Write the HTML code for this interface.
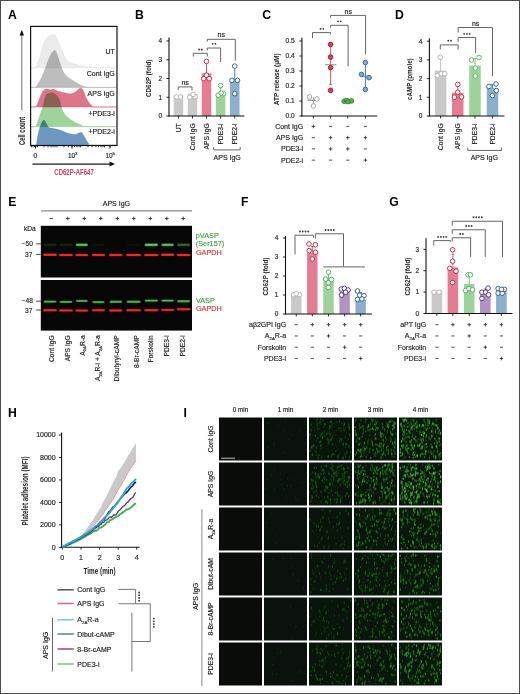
<!DOCTYPE html>
<html><head><meta charset="utf-8"><title>Figure</title>
<style>
html,body{margin:0;padding:0;background:#fff;}
body{width:520px;height:694px;overflow:hidden;position:relative;}
svg{position:absolute;left:0;top:0;display:block;}
text{font-family:"Liberation Sans", sans-serif;}
</style></head><body>
<svg width="520" height="694" viewBox="0 0 520 694">
<defs>
<filter id="blur" x="-20%" y="-200%" width="140%" height="500%"><feGaussianBlur stdDeviation="0.55"/></filter>
<filter id="blur3" x="0" y="0" width="100%" height="100%"><feGaussianBlur stdDeviation="0.3"/></filter>
<filter id="blur2" x="-20%" y="-200%" width="140%" height="500%"><feGaussianBlur stdDeviation="0.35"/></filter>
</defs>
<rect x="0" y="0" width="520" height="694" fill="#fff"/>
<text x="8" y="18.5" font-size="12.2" fill="#000" font-weight="bold">A</text>
<text x="135" y="18.5" font-size="12.2" fill="#000" font-weight="bold">B</text>
<text x="262.3" y="18.5" font-size="12.2" fill="#000" font-weight="bold">C</text>
<text x="395" y="18.5" font-size="12.2" fill="#000" font-weight="bold">D</text>
<text x="8.2" y="206" font-size="12.2" fill="#000" font-weight="bold">E</text>
<text x="241" y="205.6" font-size="12.2" fill="#000" font-weight="bold">F</text>
<text x="389.2" y="206" font-size="12.2" fill="#000" font-weight="bold">G</text>
<text x="8.1" y="416.9" font-size="12.2" fill="#000" font-weight="bold">H</text>
<text x="183.6" y="416.9" font-size="12.2" fill="#000" font-weight="bold">I</text>
<path d="M31,67.8 C31.33,67.8 32.17,67.93 33,67.8 C33.83,67.67 35.17,67.97 36,67 C36.83,66.03 37.25,64 38,62 C38.75,60 39.75,57.42 40.5,55 C41.25,52.58 41.87,49.7 42.5,47.5 C43.13,45.3 43.55,43.42 44.3,41.8 C45.05,40.18 46.05,38.83 47,37.8 C47.95,36.77 48.9,36.13 50,35.6 C51.1,35.07 52.6,34.45 53.6,34.6 C54.6,34.75 55.07,34.97 56,36.5 C56.93,38.03 58.03,41 59.2,43.8 C60.37,46.6 61.87,50.8 63,53.3 C64.13,55.8 65,57.38 66,58.8 C67,60.22 67.83,60.97 69,61.8 C70.17,62.63 71.5,63.27 73,63.8 C74.5,64.33 75.5,64.48 78,65 C80.5,65.52 84.33,66.43 88,66.9 C91.67,67.37 95.25,67.65 100,67.8 C104.75,67.95 113.75,67.8 116.5,67.8 Z" fill="#ebebeb" stroke="#dedede" stroke-width="0.5" style="mix-blend-mode:multiply"/>
<path d="M31,87.4 C31.67,87.4 34.08,87.6 35,87.4 C35.92,87.2 35.92,86.88 36.5,86.2 C37.08,85.52 37.83,84.37 38.5,83.3 C39.17,82.23 39.53,81.8 40.5,79.8 C41.47,77.8 43.05,74.38 44.3,71.3 C45.55,68.22 46.88,64.1 48,61.3 C49.12,58.5 49.92,56.32 51,54.5 C52.08,52.68 53.58,50.65 54.5,50.4 C55.42,50.15 55.92,51.82 56.5,53 C57.08,54.18 57.12,54.92 58,57.5 C58.88,60.08 60.55,65.58 61.8,68.5 C63.05,71.42 63.83,73.08 65.5,75 C67.17,76.92 69.72,78.55 71.8,80 C73.88,81.45 76.13,82.68 78,83.7 C79.87,84.72 81,85.48 83,86.1 C85,86.72 84.42,87.18 90,87.4 C95.58,87.62 112.08,87.4 116.5,87.4 Z" fill="#bdbdbd" stroke="#acacac" stroke-width="0.5" style="mix-blend-mode:multiply"/>
<path d="M31,106.9 C31.75,106.9 34.42,107.38 35.5,106.9 C36.58,106.42 36.67,105.77 37.5,104 C38.33,102.23 39.48,98.53 40.5,96.3 C41.52,94.07 42.55,91.82 43.6,90.6 C44.65,89.38 45.65,89.1 46.8,89 C47.95,88.9 49.37,89.95 50.5,90 C51.63,90.05 52.35,89.08 53.6,89.3 C54.85,89.52 56.02,90.67 58,91.3 C59.98,91.93 63.42,92.65 65.5,93.1 C67.58,93.55 68.83,94.2 70.5,94 C72.17,93.8 74.03,92.77 75.5,91.9 C76.97,91.03 78.3,89.38 79.3,88.8 C80.3,88.22 80.78,87.98 81.5,88.4 C82.22,88.82 82.83,89.68 83.6,91.3 C84.37,92.92 85.15,96.13 86.1,98.1 C87.05,100.07 88.35,101.85 89.3,103.1 C90.25,104.35 91.02,104.97 91.8,105.6 C92.58,106.23 89.88,106.68 94,106.9 C98.12,107.12 112.75,106.9 116.5,106.9 Z" fill="#df7589" stroke="#cf5f75" stroke-width="0.5" style="mix-blend-mode:multiply"/>
<path d="M31,126.6 C31.75,126.6 34.33,127.48 35.5,126.6 C36.67,125.72 37.17,123.43 38,121.3 C38.83,119.17 39.67,116.2 40.5,113.8 C41.33,111.4 42.17,109.78 43,106.9 C43.83,104.02 44.67,98.72 45.5,96.5 C46.33,94.28 46.85,94.17 48,93.6 C49.15,93.03 51.05,92.87 52.4,93.1 C53.75,93.33 54.95,93.85 56.1,95 C57.25,96.15 58.47,98.02 59.3,100 C60.13,101.98 60.27,104.6 61.1,106.9 C61.93,109.2 63.15,112.03 64.3,113.8 C65.45,115.57 66.55,116.25 68,117.5 C69.45,118.75 70.92,120.05 73,121.3 C75.08,122.55 78.2,124.12 80.5,125 C82.8,125.88 80.8,126.33 86.8,126.6 C92.8,126.87 111.55,126.6 116.5,126.6 Z" fill="#9ed49c" stroke="#86c486" stroke-width="0.5" style="mix-blend-mode:multiply"/>
<path d="M31,145.3 C31.87,145.3 35.23,145.77 36.2,145.3 C37.17,144.83 36.4,144.63 36.8,142.5 C37.2,140.37 37.88,135.52 38.6,132.5 C39.32,129.48 40.2,126.43 41.1,124.4 C42,122.37 43.05,120.23 44,120.3 C44.95,120.37 46.03,123.65 46.8,124.8 C47.57,125.95 47.98,126.65 48.6,127.2 C49.22,127.75 48.72,127.63 50.5,128.1 C52.28,128.57 56.17,129.07 59.3,130 C62.43,130.93 66.6,132.97 69.3,133.7 C72,134.43 73.53,134.6 75.5,134.4 C77.47,134.2 79.75,132.3 81.1,132.5 C82.45,132.7 82.77,134.35 83.6,135.6 C84.43,136.85 85.27,138.63 86.1,140 C86.93,141.37 88.03,142.92 88.6,143.8 C89.17,144.68 84.85,145.05 89.5,145.3 C94.15,145.55 112,145.3 116.5,145.3 Z" fill="#6e98c2" stroke="#5a84ae" stroke-width="0.5" style="mix-blend-mode:multiply"/>
<rect x="30.6" y="26.4" width="86.4" height="119.1" fill="none" stroke="#111" stroke-width="1.2"/>
<text x="114.8" y="53.8" font-size="7" fill="#1c1c1c" stroke="#1c1c1c" stroke-width="0.16" text-anchor="end">UT</text>
<text x="114.8" y="75.6" font-size="7" fill="#1c1c1c" stroke="#1c1c1c" stroke-width="0.16" text-anchor="end">Cont IgG</text>
<text x="114.8" y="95.6" font-size="7" fill="#1c1c1c" stroke="#1c1c1c" stroke-width="0.16" text-anchor="end">APS IgG</text>
<text x="114.8" y="115.6" font-size="7" fill="#1c1c1c" stroke="#1c1c1c" stroke-width="0.16" text-anchor="end">+PDE3-i</text>
<text x="114.8" y="133.8" font-size="7" fill="#1c1c1c" stroke="#1c1c1c" stroke-width="0.16" text-anchor="end">+PDE2-i</text>
<line x1="31.5" y1="145.5" x2="31.5" y2="147.3" stroke="#111" stroke-width="0.8"/>
<line x1="33" y1="145.5" x2="33" y2="147.3" stroke="#111" stroke-width="0.8"/>
<line x1="34.5" y1="145.5" x2="34.5" y2="147.3" stroke="#111" stroke-width="0.8"/>
<line x1="36" y1="145.5" x2="36" y2="147.3" stroke="#111" stroke-width="0.8"/>
<line x1="37.5" y1="145.5" x2="37.5" y2="147.3" stroke="#111" stroke-width="0.8"/>
<line x1="44" y1="145.5" x2="44" y2="147.3" stroke="#111" stroke-width="0.8"/>
<line x1="48" y1="145.5" x2="48" y2="147.3" stroke="#111" stroke-width="0.8"/>
<line x1="51" y1="145.5" x2="51" y2="147.3" stroke="#111" stroke-width="0.8"/>
<line x1="53" y1="145.5" x2="53" y2="147.3" stroke="#111" stroke-width="0.8"/>
<line x1="55" y1="145.5" x2="55" y2="147.3" stroke="#111" stroke-width="0.8"/>
<line x1="57" y1="145.5" x2="57" y2="147.3" stroke="#111" stroke-width="0.8"/>
<line x1="64" y1="145.5" x2="64" y2="147.3" stroke="#111" stroke-width="0.8"/>
<line x1="68.5" y1="145.5" x2="68.5" y2="147.3" stroke="#111" stroke-width="0.8"/>
<line x1="72" y1="145.5" x2="72" y2="147.3" stroke="#111" stroke-width="0.8"/>
<line x1="74.5" y1="145.5" x2="74.5" y2="147.3" stroke="#111" stroke-width="0.8"/>
<line x1="77" y1="145.5" x2="77" y2="147.3" stroke="#111" stroke-width="0.8"/>
<line x1="79" y1="145.5" x2="79" y2="147.3" stroke="#111" stroke-width="0.8"/>
<line x1="80.5" y1="145.5" x2="80.5" y2="147.3" stroke="#111" stroke-width="0.8"/>
<line x1="88" y1="145.5" x2="88" y2="147.3" stroke="#111" stroke-width="0.8"/>
<line x1="92" y1="145.5" x2="92" y2="147.3" stroke="#111" stroke-width="0.8"/>
<line x1="96" y1="145.5" x2="96" y2="147.3" stroke="#111" stroke-width="0.8"/>
<line x1="98.5" y1="145.5" x2="98.5" y2="147.3" stroke="#111" stroke-width="0.8"/>
<line x1="101" y1="145.5" x2="101" y2="147.3" stroke="#111" stroke-width="0.8"/>
<line x1="103" y1="145.5" x2="103" y2="147.3" stroke="#111" stroke-width="0.8"/>
<line x1="104.5" y1="145.5" x2="104.5" y2="147.3" stroke="#111" stroke-width="0.8"/>
<line x1="110" y1="145.5" x2="110" y2="147.3" stroke="#111" stroke-width="0.8"/>
<line x1="35.5" y1="145.5" x2="35.5" y2="148.5" stroke="#111" stroke-width="0.9"/>
<line x1="72" y1="145.5" x2="72" y2="148.5" stroke="#111" stroke-width="0.9"/>
<line x1="110" y1="145.5" x2="110" y2="148.5" stroke="#111" stroke-width="0.9"/>
<text x="35.4" y="158.2" font-size="6.5" fill="#1c1c1c" stroke="#1c1c1c" stroke-width="0.16" text-anchor="middle">0</text>
<text x="68" y="158.2" font-size="6.5" fill="#1c1c1c" stroke="#1c1c1c" stroke-width="0.16">10</text>
<text x="75.1" y="155.4" font-size="4.4" fill="#1c1c1c" stroke="#1c1c1c" stroke-width="0.16">3</text>
<text x="105.5" y="158.2" font-size="6.5" fill="#1c1c1c" stroke="#1c1c1c" stroke-width="0.16">10</text>
<text x="112.6" y="155.4" font-size="4.4" fill="#1c1c1c" stroke="#1c1c1c" stroke-width="0.16">5</text>
<line x1="32.5" y1="164.2" x2="111" y2="164.2" stroke="#1a1a1a" stroke-width="1.3"/>
<path d="M115,164 L109.5,161.6 L109.5,166.4 Z" fill="#111"/>
<text x="54.3" y="175.2" font-size="8.2" fill="#cf3a5e" font-weight="bold" textLength="39.5" lengthAdjust="spacingAndGlyphs">CD62P-AF647</text>
<line x1="21.8" y1="110" x2="21.8" y2="34" stroke="#777" stroke-width="1.1"/>
<path d="M21.8,29.8 L19.6,35.6 L24,35.6 Z" fill="#111"/>
<text transform="translate(25.1 145) rotate(-90)" font-size="8.3" fill="#222" font-weight="bold" textLength="28.1" lengthAdjust="spacingAndGlyphs">Cell count</text>
<rect x="173.75" y="95.6" width="9.5" height="20.4" fill="#c9c9c9"/>
<rect x="187.75" y="93.8" width="9.5" height="22.2" fill="#c9c9c9"/>
<rect x="201.75" y="73.3" width="9.5" height="42.7" fill="#e57d92"/>
<rect x="215.85" y="94.4" width="9.5" height="21.6" fill="#9dd29b"/>
<rect x="230" y="80" width="9.5" height="36" fill="#8bafcd"/>
<line x1="206.5" y1="73.3" x2="206.5" y2="62.6" stroke="#c42545" stroke-width="0.8"/>
<line x1="205.4" y1="62.6" x2="207.6" y2="62.6" stroke="#c42545" stroke-width="0.8"/>
<line x1="220.6" y1="94.4" x2="220.6" y2="87.2" stroke="#55b55a" stroke-width="0.8"/>
<line x1="219.5" y1="87.2" x2="221.7" y2="87.2" stroke="#55b55a" stroke-width="0.8"/>
<line x1="234.75" y1="80" x2="234.75" y2="67.2" stroke="#2f5f91" stroke-width="0.8"/>
<line x1="233.65" y1="67.2" x2="235.85" y2="67.2" stroke="#2f5f91" stroke-width="0.8"/>
<circle cx="176.4" cy="96.9" r="2.3" fill="#fff" stroke="#b3b3b3" stroke-width="0.95"/>
<circle cx="180.6" cy="96.9" r="2.3" fill="#fff" stroke="#b3b3b3" stroke-width="0.95"/>
<circle cx="189.8" cy="97.2" r="2.3" fill="#fff" stroke="#b3b3b3" stroke-width="0.95"/>
<circle cx="195.1" cy="96.6" r="2.3" fill="#fff" stroke="#b3b3b3" stroke-width="0.95"/>
<circle cx="193.1" cy="94.5" r="2.3" fill="#fff" stroke="#b3b3b3" stroke-width="0.95"/>
<circle cx="206.45" cy="61.4" r="2.3" fill="#fff" stroke="#c42545" stroke-width="0.95"/>
<circle cx="203.75" cy="78.7" r="2.3" fill="#fff" stroke="#c42545" stroke-width="0.95"/>
<circle cx="209.2" cy="78.7" r="2.3" fill="#fff" stroke="#c42545" stroke-width="0.95"/>
<circle cx="206.5" cy="75.2" r="2.3" fill="#fff" stroke="#c42545" stroke-width="0.95"/>
<circle cx="220.6" cy="85.6" r="2.3" fill="#fff" stroke="#55b55a" stroke-width="0.95"/>
<circle cx="218.2" cy="95.1" r="2.3" fill="#fff" stroke="#55b55a" stroke-width="0.95"/>
<circle cx="223.6" cy="93.6" r="2.3" fill="#fff" stroke="#55b55a" stroke-width="0.95"/>
<circle cx="221.2" cy="93.1" r="2.3" fill="#fff" stroke="#55b55a" stroke-width="0.95"/>
<circle cx="234.75" cy="66.1" r="2.3" fill="#fff" stroke="#2f5f91" stroke-width="0.95"/>
<circle cx="231.9" cy="80.3" r="2.3" fill="#fff" stroke="#2f5f91" stroke-width="0.95"/>
<circle cx="237.5" cy="80.3" r="2.3" fill="#fff" stroke="#2f5f91" stroke-width="0.95"/>
<circle cx="234.75" cy="93.7" r="2.3" fill="#fff" stroke="#2f5f91" stroke-width="0.95"/>
<line x1="169" y1="37.6" x2="169" y2="116.6" stroke="#111" stroke-width="1.1"/>
<line x1="166.4" y1="116" x2="169" y2="116" stroke="#111" stroke-width="0.9"/>
<text x="162.2" y="118.3" font-size="6.5" fill="#1c1c1c" stroke="#1c1c1c" stroke-width="0.16" text-anchor="end">0</text>
<line x1="166.4" y1="97.25" x2="169" y2="97.25" stroke="#111" stroke-width="0.9"/>
<text x="162.2" y="99.55" font-size="6.5" fill="#1c1c1c" stroke="#1c1c1c" stroke-width="0.16" text-anchor="end">1</text>
<line x1="166.4" y1="78.5" x2="169" y2="78.5" stroke="#111" stroke-width="0.9"/>
<text x="162.2" y="80.8" font-size="6.5" fill="#1c1c1c" stroke="#1c1c1c" stroke-width="0.16" text-anchor="end">2</text>
<line x1="166.4" y1="59.75" x2="169" y2="59.75" stroke="#111" stroke-width="0.9"/>
<text x="162.2" y="62.05" font-size="6.5" fill="#1c1c1c" stroke="#1c1c1c" stroke-width="0.16" text-anchor="end">3</text>
<line x1="166.4" y1="41" x2="169" y2="41" stroke="#111" stroke-width="0.9"/>
<text x="162.2" y="43.3" font-size="6.5" fill="#1c1c1c" stroke="#1c1c1c" stroke-width="0.16" text-anchor="end">4</text>
<line x1="168.45" y1="116" x2="244.4" y2="116" stroke="#111" stroke-width="1.1"/>
<line x1="178.5" y1="116" x2="178.5" y2="118.4" stroke="#111" stroke-width="0.9"/>
<line x1="192.5" y1="116" x2="192.5" y2="118.4" stroke="#111" stroke-width="0.9"/>
<line x1="206.5" y1="116" x2="206.5" y2="118.4" stroke="#111" stroke-width="0.9"/>
<line x1="220.6" y1="116" x2="220.6" y2="118.4" stroke="#111" stroke-width="0.9"/>
<line x1="234.75" y1="116" x2="234.75" y2="118.4" stroke="#111" stroke-width="0.9"/>
<text transform="translate(151.4 78.3) rotate(-90)" font-size="8" fill="#222" font-weight="bold" text-anchor="middle" textLength="37.4" lengthAdjust="spacingAndGlyphs">CD62P (fold)</text>
<polyline points="178.2,90.1 178.2,86.9 192,86.9 192,90.1" stroke="#555" stroke-width="0.9" fill="none"/>
<text x="185.1" y="85.1" font-size="7" fill="#1c1c1c" stroke="#1c1c1c" stroke-width="0.16" text-anchor="middle">ns</text>
<polyline points="193.3,56.6 193.3,53.3 207.3,53.3 207.3,56.6" stroke="#555" stroke-width="0.9" fill="none"/>
<circle cx="199.03" cy="49.5" r="0.88" fill="#2a2a2a"/>
<circle cx="201.78" cy="49.5" r="0.88" fill="#2a2a2a"/>
<polyline points="207.3,50.6 207.3,48 220.6,48 220.6,62" stroke="#555" stroke-width="0.9" fill="none"/>
<circle cx="212.72" cy="43.8" r="0.88" fill="#2a2a2a"/>
<circle cx="215.47" cy="43.8" r="0.88" fill="#2a2a2a"/>
<polyline points="207.3,41.7 207.3,39.3 235.3,39.3 235.3,60.7" stroke="#555" stroke-width="0.9" fill="none"/>
<text x="221.3" y="37.1" font-size="7" fill="#1c1c1c" stroke="#1c1c1c" stroke-width="0.16" text-anchor="middle">ns</text>
<text transform="translate(180.9 123.4) rotate(-90)" font-size="6.7" fill="#1c1c1c" stroke="#1c1c1c" stroke-width="0.16" text-anchor="end">UT</text>
<text transform="translate(194.9 123.4) rotate(-90)" font-size="6.7" fill="#1c1c1c" stroke="#1c1c1c" stroke-width="0.16" text-anchor="end">Cont IgG</text>
<text transform="translate(208.9 123.4) rotate(-90)" font-size="6.7" fill="#1c1c1c" stroke="#1c1c1c" stroke-width="0.16" text-anchor="end">APS IgG</text>
<text transform="translate(223 123.4) rotate(-90)" font-size="6.7" fill="#1c1c1c" stroke="#1c1c1c" stroke-width="0.16" text-anchor="end">PDE3-i</text>
<text transform="translate(237.15 123.4) rotate(-90)" font-size="6.7" fill="#1c1c1c" stroke="#1c1c1c" stroke-width="0.16" text-anchor="end">PDE2-i</text>
<polyline points="213.7,147.1 213.7,149.9 240.2,149.9 240.2,147.1" stroke="#555" stroke-width="0.9" fill="none"/>
<text x="227.2" y="159.7" font-size="7" fill="#1c1c1c" stroke="#1c1c1c" stroke-width="0.16" text-anchor="middle">APS IgG</text>
<line x1="307.5" y1="100.3" x2="318.8" y2="100.3" stroke="#777" stroke-width="0.9"/>
<line x1="313.4" y1="97" x2="313.4" y2="104" stroke="#888" stroke-width="0.7"/>
<circle cx="309.4" cy="96.9" r="2.3" fill="#fff" stroke="#9a9a9a" stroke-width="0.9"/>
<circle cx="316.9" cy="99" r="2.3" fill="#fff" stroke="#9a9a9a" stroke-width="0.9"/>
<circle cx="313.4" cy="106" r="2.3" fill="#fff" stroke="#9a9a9a" stroke-width="0.9"/>
<line x1="330.6" y1="44.4" x2="330.6" y2="84.4" stroke="#c4223f" stroke-width="0.75"/>
<line x1="329.3" y1="84.4" x2="331.9" y2="84.4" stroke="#d2334f" stroke-width="0.9"/>
<line x1="325" y1="64.8" x2="336.3" y2="64.8" stroke="#7a8a7a" stroke-width="1"/>
<circle cx="330.6" cy="44.4" r="2.3" fill="#d2445f" stroke="#a3112d" stroke-width="0.9"/>
<circle cx="330.6" cy="57.1" r="2.3" fill="#d2445f" stroke="#a3112d" stroke-width="0.9"/>
<circle cx="330.6" cy="67.7" r="2.3" fill="#d2445f" stroke="#a3112d" stroke-width="0.9"/>
<circle cx="330.6" cy="90.4" r="2.3" fill="#d2445f" stroke="#a3112d" stroke-width="0.9"/>
<circle cx="344.2" cy="101.3" r="2.3" fill="#5cba5c" stroke="#2c8a2c" stroke-width="0.9"/>
<circle cx="346.5" cy="100.6" r="2.3" fill="#5cba5c" stroke="#2c8a2c" stroke-width="0.9"/>
<circle cx="348.8" cy="101.3" r="2.3" fill="#5cba5c" stroke="#2c8a2c" stroke-width="0.9"/>
<circle cx="351.5" cy="100.9" r="2.3" fill="#5cba5c" stroke="#2c8a2c" stroke-width="0.9"/>
<circle cx="347.8" cy="101.6" r="2.3" fill="#5cba5c" stroke="#2c8a2c" stroke-width="0.9"/>
<line x1="343" y1="101.1" x2="353" y2="101.1" stroke="#2c8a2c" stroke-width="0.7"/>
<line x1="365.4" y1="62.5" x2="365.4" y2="89.4" stroke="#3b6a9b" stroke-width="0.9"/>
<line x1="361.5" y1="76.2" x2="369.3" y2="76.2" stroke="#3b6a9b" stroke-width="0.9"/>
<circle cx="365.4" cy="62.5" r="2.3" fill="#7eaad6" stroke="#34649a" stroke-width="0.9"/>
<circle cx="361.5" cy="74.4" r="2.3" fill="#7eaad6" stroke="#34649a" stroke-width="0.9"/>
<circle cx="369" cy="77.7" r="2.3" fill="#7eaad6" stroke="#34649a" stroke-width="0.9"/>
<circle cx="365.4" cy="89.4" r="2.3" fill="#7eaad6" stroke="#34649a" stroke-width="0.9"/>
<line x1="301.9" y1="37.8" x2="301.9" y2="116.6" stroke="#111" stroke-width="1.1"/>
<line x1="299.3" y1="116" x2="301.9" y2="116" stroke="#111" stroke-width="0.9"/>
<text x="294.6" y="118.3" font-size="6.5" fill="#1c1c1c" stroke="#1c1c1c" stroke-width="0.16" text-anchor="end">0.0</text>
<line x1="299.3" y1="101" x2="301.9" y2="101" stroke="#111" stroke-width="0.9"/>
<text x="294.6" y="103.3" font-size="6.5" fill="#1c1c1c" stroke="#1c1c1c" stroke-width="0.16" text-anchor="end">0.1</text>
<line x1="299.3" y1="86" x2="301.9" y2="86" stroke="#111" stroke-width="0.9"/>
<text x="294.6" y="88.3" font-size="6.5" fill="#1c1c1c" stroke="#1c1c1c" stroke-width="0.16" text-anchor="end">0.2</text>
<line x1="299.3" y1="71" x2="301.9" y2="71" stroke="#111" stroke-width="0.9"/>
<text x="294.6" y="73.3" font-size="6.5" fill="#1c1c1c" stroke="#1c1c1c" stroke-width="0.16" text-anchor="end">0.3</text>
<line x1="299.3" y1="56" x2="301.9" y2="56" stroke="#111" stroke-width="0.9"/>
<text x="294.6" y="58.3" font-size="6.5" fill="#1c1c1c" stroke="#1c1c1c" stroke-width="0.16" text-anchor="end">0.4</text>
<line x1="299.3" y1="41" x2="301.9" y2="41" stroke="#111" stroke-width="0.9"/>
<text x="294.6" y="43.3" font-size="6.5" fill="#1c1c1c" stroke="#1c1c1c" stroke-width="0.16" text-anchor="end">0.5</text>
<line x1="301.35" y1="116" x2="377.3" y2="116" stroke="#111" stroke-width="1.1"/>
<line x1="313.4" y1="116" x2="313.4" y2="118.4" stroke="#111" stroke-width="0.9"/>
<line x1="330.6" y1="116" x2="330.6" y2="118.4" stroke="#111" stroke-width="0.9"/>
<line x1="347.8" y1="116" x2="347.8" y2="118.4" stroke="#111" stroke-width="0.9"/>
<line x1="365.4" y1="116" x2="365.4" y2="118.4" stroke="#111" stroke-width="0.9"/>
<text transform="translate(279.4 79.3) rotate(-90)" font-size="8" fill="#222" font-weight="bold" text-anchor="middle" textLength="51.9" lengthAdjust="spacingAndGlyphs">ATP release (μM)</text>
<polyline points="312.5,38.1 312.5,32.6 330.6,32.6 330.6,34.4" stroke="#555" stroke-width="0.9" fill="none"/>
<circle cx="320.52" cy="28.8" r="0.88" fill="#2a2a2a"/>
<circle cx="323.27" cy="28.8" r="0.88" fill="#2a2a2a"/>
<polyline points="330.6,27.6 330.6,25.3 348.1,25.3 348.1,66.3" stroke="#555" stroke-width="0.9" fill="none"/>
<circle cx="338.02" cy="21.3" r="0.88" fill="#2a2a2a"/>
<circle cx="340.77" cy="21.3" r="0.88" fill="#2a2a2a"/>
<polyline points="330.6,17.7 330.6,15.4 365.6,15.4 365.6,54.4" stroke="#555" stroke-width="0.9" fill="none"/>
<text x="348.2" y="13.8" font-size="7" fill="#1c1c1c" stroke="#1c1c1c" stroke-width="0.16" text-anchor="middle">ns</text>
<text x="303.2" y="128.8" font-size="7" fill="#1c1c1c" stroke="#1c1c1c" stroke-width="0.16" text-anchor="end">Cont IgG</text>
<line x1="311.6" y1="126.4" x2="315.2" y2="126.4" stroke="#222" stroke-width="0.8"/>
<line x1="313.4" y1="124.6" x2="313.4" y2="128.2" stroke="#222" stroke-width="0.8"/>
<line x1="329" y1="126.4" x2="332.2" y2="126.4" stroke="#222" stroke-width="0.8"/>
<line x1="346.2" y1="126.4" x2="349.4" y2="126.4" stroke="#222" stroke-width="0.8"/>
<line x1="363.8" y1="126.4" x2="367" y2="126.4" stroke="#222" stroke-width="0.8"/>
<text x="303.2" y="140.05" font-size="7" fill="#1c1c1c" stroke="#1c1c1c" stroke-width="0.16" text-anchor="end">APS IgG</text>
<line x1="311.8" y1="137.65" x2="315" y2="137.65" stroke="#222" stroke-width="0.8"/>
<line x1="328.8" y1="137.65" x2="332.4" y2="137.65" stroke="#222" stroke-width="0.8"/>
<line x1="330.6" y1="135.85" x2="330.6" y2="139.45" stroke="#222" stroke-width="0.8"/>
<line x1="346" y1="137.65" x2="349.6" y2="137.65" stroke="#222" stroke-width="0.8"/>
<line x1="347.8" y1="135.85" x2="347.8" y2="139.45" stroke="#222" stroke-width="0.8"/>
<line x1="363.6" y1="137.65" x2="367.2" y2="137.65" stroke="#222" stroke-width="0.8"/>
<line x1="365.4" y1="135.85" x2="365.4" y2="139.45" stroke="#222" stroke-width="0.8"/>
<text x="303.2" y="151.3" font-size="7" fill="#1c1c1c" stroke="#1c1c1c" stroke-width="0.16" text-anchor="end">PDE3-i</text>
<line x1="311.8" y1="148.9" x2="315" y2="148.9" stroke="#222" stroke-width="0.8"/>
<line x1="328.8" y1="148.9" x2="332.4" y2="148.9" stroke="#222" stroke-width="0.8"/>
<line x1="330.6" y1="147.1" x2="330.6" y2="150.7" stroke="#222" stroke-width="0.8"/>
<line x1="346" y1="148.9" x2="349.6" y2="148.9" stroke="#222" stroke-width="0.8"/>
<line x1="347.8" y1="147.1" x2="347.8" y2="150.7" stroke="#222" stroke-width="0.8"/>
<line x1="363.8" y1="148.9" x2="367" y2="148.9" stroke="#222" stroke-width="0.8"/>
<text x="303.2" y="162.55" font-size="7" fill="#1c1c1c" stroke="#1c1c1c" stroke-width="0.16" text-anchor="end">PDE2-i</text>
<line x1="311.8" y1="160.15" x2="315" y2="160.15" stroke="#222" stroke-width="0.8"/>
<line x1="329" y1="160.15" x2="332.2" y2="160.15" stroke="#222" stroke-width="0.8"/>
<line x1="346.2" y1="160.15" x2="349.4" y2="160.15" stroke="#222" stroke-width="0.8"/>
<line x1="363.6" y1="160.15" x2="367.2" y2="160.15" stroke="#222" stroke-width="0.8"/>
<line x1="365.4" y1="158.35" x2="365.4" y2="161.95" stroke="#222" stroke-width="0.8"/>
<rect x="434.85" y="70.6" width="11.5" height="45.4" fill="#c9c9c9"/>
<rect x="452" y="92.8" width="11.5" height="23.2" fill="#e57d92"/>
<rect x="469.25" y="65.6" width="11.5" height="50.4" fill="#9dd29b"/>
<rect x="486.75" y="88.1" width="11.5" height="27.9" fill="#8bafcd"/>
<line x1="440.6" y1="70.6" x2="440.6" y2="59.5" stroke="#b3b3b3" stroke-width="0.8"/>
<line x1="439.5" y1="59.5" x2="441.7" y2="59.5" stroke="#b3b3b3" stroke-width="0.8"/>
<line x1="457.75" y1="92.8" x2="457.75" y2="86.4" stroke="#c42545" stroke-width="0.8"/>
<line x1="456.65" y1="86.4" x2="458.85" y2="86.4" stroke="#c42545" stroke-width="0.8"/>
<line x1="475" y1="65.6" x2="475" y2="58.6" stroke="#55b55a" stroke-width="0.8"/>
<line x1="473.9" y1="58.6" x2="476.1" y2="58.6" stroke="#55b55a" stroke-width="0.8"/>
<line x1="492.5" y1="88.1" x2="492.5" y2="84.5" stroke="#2f5f91" stroke-width="0.8"/>
<line x1="491.4" y1="84.5" x2="493.6" y2="84.5" stroke="#2f5f91" stroke-width="0.8"/>
<circle cx="440.25" cy="57.3" r="2.3" fill="#fff" stroke="#b3b3b3" stroke-width="0.95"/>
<circle cx="437.3" cy="75.6" r="2.3" fill="#fff" stroke="#b3b3b3" stroke-width="0.95"/>
<circle cx="441.3" cy="73.6" r="2.3" fill="#fff" stroke="#b3b3b3" stroke-width="0.95"/>
<circle cx="444.8" cy="73.8" r="2.3" fill="#fff" stroke="#b3b3b3" stroke-width="0.95"/>
<circle cx="457.75" cy="84.4" r="2.3" fill="#fff" stroke="#c42545" stroke-width="0.95"/>
<circle cx="457.75" cy="92.3" r="2.3" fill="#fff" stroke="#c42545" stroke-width="0.95"/>
<circle cx="454.4" cy="97.2" r="2.3" fill="#fff" stroke="#c42545" stroke-width="0.95"/>
<circle cx="461.5" cy="96.9" r="2.3" fill="#fff" stroke="#c42545" stroke-width="0.95"/>
<circle cx="471.5" cy="60" r="2.3" fill="#fff" stroke="#55b55a" stroke-width="0.95"/>
<circle cx="479" cy="57.5" r="2.3" fill="#fff" stroke="#55b55a" stroke-width="0.95"/>
<circle cx="475.25" cy="68.1" r="2.3" fill="#fff" stroke="#55b55a" stroke-width="0.95"/>
<circle cx="475.25" cy="76" r="2.3" fill="#fff" stroke="#55b55a" stroke-width="0.95"/>
<circle cx="489" cy="86.5" r="2.3" fill="#fff" stroke="#2f5f91" stroke-width="0.95"/>
<circle cx="496" cy="84" r="2.3" fill="#fff" stroke="#2f5f91" stroke-width="0.95"/>
<circle cx="496.3" cy="90.6" r="2.3" fill="#fff" stroke="#2f5f91" stroke-width="0.95"/>
<circle cx="492.3" cy="95.6" r="2.3" fill="#fff" stroke="#2f5f91" stroke-width="0.95"/>
<line x1="429.4" y1="38.2" x2="429.4" y2="116.6" stroke="#111" stroke-width="1.1"/>
<line x1="426.8" y1="116" x2="429.4" y2="116" stroke="#111" stroke-width="0.9"/>
<text x="422.3" y="118.3" font-size="6.5" fill="#1c1c1c" stroke="#1c1c1c" stroke-width="0.16" text-anchor="end">0</text>
<line x1="426.8" y1="97.3" x2="429.4" y2="97.3" stroke="#111" stroke-width="0.9"/>
<text x="422.3" y="99.6" font-size="6.5" fill="#1c1c1c" stroke="#1c1c1c" stroke-width="0.16" text-anchor="end">1</text>
<line x1="426.8" y1="78.6" x2="429.4" y2="78.6" stroke="#111" stroke-width="0.9"/>
<text x="422.3" y="80.9" font-size="6.5" fill="#1c1c1c" stroke="#1c1c1c" stroke-width="0.16" text-anchor="end">2</text>
<line x1="426.8" y1="59.9" x2="429.4" y2="59.9" stroke="#111" stroke-width="0.9"/>
<text x="422.3" y="62.2" font-size="6.5" fill="#1c1c1c" stroke="#1c1c1c" stroke-width="0.16" text-anchor="end">3</text>
<line x1="426.8" y1="41.2" x2="429.4" y2="41.2" stroke="#111" stroke-width="0.9"/>
<text x="422.3" y="43.5" font-size="6.5" fill="#1c1c1c" stroke="#1c1c1c" stroke-width="0.16" text-anchor="end">4</text>
<line x1="428.85" y1="116" x2="504.4" y2="116" stroke="#111" stroke-width="1.1"/>
<line x1="440.6" y1="116" x2="440.6" y2="118.4" stroke="#111" stroke-width="0.9"/>
<line x1="457.75" y1="116" x2="457.75" y2="118.4" stroke="#111" stroke-width="0.9"/>
<line x1="475" y1="116" x2="475" y2="118.4" stroke="#111" stroke-width="0.9"/>
<line x1="492.5" y1="116" x2="492.5" y2="118.4" stroke="#111" stroke-width="0.9"/>
<text transform="translate(412.4 79.1) rotate(-90)" font-size="8" fill="#222" font-weight="bold" text-anchor="middle" textLength="41.6" lengthAdjust="spacingAndGlyphs">cAMP (pmole)</text>
<polyline points="440.3,49.4 440.3,44.9 458.1,44.9 458.1,49.7" stroke="#555" stroke-width="0.9" fill="none"/>
<circle cx="448.23" cy="40.7" r="0.88" fill="#2a2a2a"/>
<circle cx="450.98" cy="40.7" r="0.88" fill="#2a2a2a"/>
<polyline points="458.1,41.9 458.1,37.5 475.6,37.5 475.6,53.1" stroke="#555" stroke-width="0.9" fill="none"/>
<circle cx="464.15" cy="33.8" r="0.88" fill="#2a2a2a"/>
<circle cx="466.9" cy="33.8" r="0.88" fill="#2a2a2a"/>
<circle cx="469.65" cy="33.8" r="0.88" fill="#2a2a2a"/>
<polyline points="458.1,32.5 458.1,27.5 492.5,27.5 492.5,76.2" stroke="#555" stroke-width="0.9" fill="none"/>
<text x="475.6" y="25.6" font-size="7" fill="#1c1c1c" stroke="#1c1c1c" stroke-width="0.16" text-anchor="middle">ns</text>
<text transform="translate(443 123.4) rotate(-90)" font-size="6.7" fill="#1c1c1c" stroke="#1c1c1c" stroke-width="0.16" text-anchor="end">Cont IgG</text>
<text transform="translate(460.15 123.4) rotate(-90)" font-size="6.7" fill="#1c1c1c" stroke="#1c1c1c" stroke-width="0.16" text-anchor="end">APS IgG</text>
<text transform="translate(477.4 123.4) rotate(-90)" font-size="6.7" fill="#1c1c1c" stroke="#1c1c1c" stroke-width="0.16" text-anchor="end">PDE3-i</text>
<text transform="translate(494.9 123.4) rotate(-90)" font-size="6.7" fill="#1c1c1c" stroke="#1c1c1c" stroke-width="0.16" text-anchor="end">PDE2-i</text>
<polyline points="467.8,147.5 467.8,150.4 501.5,150.4 501.5,147.5" stroke="#555" stroke-width="0.9" fill="none"/>
<text x="484.3" y="160.2" font-size="7" fill="#1c1c1c" stroke="#1c1c1c" stroke-width="0.16" text-anchor="middle">APS IgG</text>
<rect x="40.8" y="225.8" width="151.2" height="51.7" fill="#070707"/>
<rect x="40.8" y="280" width="151.2" height="50.6" fill="#070707"/>
<g opacity="0.95"><rect x="43" y="253.45" width="14" height="2.5" rx="1" fill="#e0151a" filter="url(#blur)"/><rect x="44" y="254.07" width="12" height="1.25" fill="#ff3a3a" filter="url(#blur2)"/></g>
<g opacity="0.95"><rect x="59" y="253.85" width="14" height="2.5" rx="1" fill="#e0151a" filter="url(#blur)"/><rect x="60" y="254.47" width="12" height="1.25" fill="#ff3a3a" filter="url(#blur2)"/></g>
<g opacity="0.95"><rect x="75.3" y="253.75" width="13" height="2.5" rx="1" fill="#e0151a" filter="url(#blur)"/><rect x="76.3" y="254.38" width="11" height="1.25" fill="#ff3a3a" filter="url(#blur2)"/></g>
<g opacity="0.95"><rect x="91.9" y="253.65" width="13.2" height="2.5" rx="1" fill="#e0151a" filter="url(#blur)"/><rect x="92.9" y="254.27" width="11.2" height="1.25" fill="#ff3a3a" filter="url(#blur2)"/></g>
<g opacity="0.95"><rect x="109.05" y="253.65" width="13.5" height="2.5" rx="1" fill="#e0151a" filter="url(#blur)"/><rect x="110.05" y="254.27" width="11.5" height="1.25" fill="#ff3a3a" filter="url(#blur2)"/></g>
<g opacity="0.95"><rect x="126.1" y="253.65" width="15" height="2.5" rx="1" fill="#e0151a" filter="url(#blur)"/><rect x="127.1" y="254.27" width="13" height="1.25" fill="#ff3a3a" filter="url(#blur2)"/></g>
<g opacity="0.95"><rect x="144.15" y="253.75" width="14.3" height="2.5" rx="1" fill="#e0151a" filter="url(#blur)"/><rect x="145.15" y="254.38" width="12.3" height="1.25" fill="#ff3a3a" filter="url(#blur2)"/></g>
<g opacity="0.95"><rect x="160.95" y="253.55" width="13.3" height="2.5" rx="1" fill="#e0151a" filter="url(#blur)"/><rect x="161.95" y="254.17" width="11.3" height="1.25" fill="#ff3a3a" filter="url(#blur2)"/></g>
<g opacity="0.95"><rect x="176.7" y="253.85" width="13.8" height="2.5" rx="1" fill="#e0151a" filter="url(#blur)"/><rect x="177.7" y="254.47" width="11.8" height="1.25" fill="#ff3a3a" filter="url(#blur2)"/></g>
<g opacity="0.14"><rect x="43.5" y="243.45" width="13" height="2.7" rx="1" fill="#3cbf3c" filter="url(#blur)"/><rect x="44.5" y="244.12" width="11" height="1.35" fill="#86e27e" filter="url(#blur2)"/></g>
<g opacity="0.12"><rect x="59.5" y="243.45" width="13" height="2.7" rx="1" fill="#3cbf3c" filter="url(#blur)"/><rect x="60.5" y="244.12" width="11" height="1.35" fill="#86e27e" filter="url(#blur2)"/></g>
<g opacity="0.85"><rect x="75.8" y="243.45" width="12" height="2.7" rx="1" fill="#3cbf3c" filter="url(#blur)"/><rect x="76.8" y="244.12" width="10" height="1.35" fill="#86e27e" filter="url(#blur2)"/></g>
<g opacity="0.06"><rect x="92.4" y="243.45" width="12.2" height="2.7" rx="1" fill="#3cbf3c" filter="url(#blur)"/><rect x="93.4" y="244.12" width="10.2" height="1.35" fill="#86e27e" filter="url(#blur2)"/></g>
<g opacity="0"><rect x="109.55" y="243.45" width="12.5" height="2.7" rx="1" fill="#3cbf3c" filter="url(#blur)"/><rect x="110.55" y="244.12" width="10.5" height="1.35" fill="#86e27e" filter="url(#blur2)"/></g>
<g opacity="0.04"><rect x="126.6" y="243.45" width="14" height="2.7" rx="1" fill="#3cbf3c" filter="url(#blur)"/><rect x="127.6" y="244.12" width="12" height="1.35" fill="#86e27e" filter="url(#blur2)"/></g>
<g opacity="0.88"><rect x="144.65" y="243.45" width="13.3" height="2.7" rx="1" fill="#3cbf3c" filter="url(#blur)"/><rect x="145.65" y="244.12" width="11.3" height="1.35" fill="#86e27e" filter="url(#blur2)"/></g>
<g opacity="0.82"><rect x="161.45" y="243.45" width="12.3" height="2.7" rx="1" fill="#3cbf3c" filter="url(#blur)"/><rect x="162.45" y="244.12" width="10.3" height="1.35" fill="#86e27e" filter="url(#blur2)"/></g>
<g opacity="0.42"><rect x="177.2" y="243.45" width="12.8" height="2.7" rx="1" fill="#3cbf3c" filter="url(#blur)"/><rect x="178.2" y="244.12" width="10.8" height="1.35" fill="#86e27e" filter="url(#blur2)"/></g>
<g opacity="0.85"><rect x="43.5" y="300.4" width="13" height="2.4" rx="1" fill="#30a834" filter="url(#blur)"/><rect x="44.5" y="301" width="11" height="1.2" fill="#6ccc66" filter="url(#blur2)"/></g>
<g opacity="0.85"><rect x="59.5" y="300.7" width="13" height="2.4" rx="1" fill="#30a834" filter="url(#blur)"/><rect x="60.5" y="301.3" width="11" height="1.2" fill="#6ccc66" filter="url(#blur2)"/></g>
<g opacity="0.85"><rect x="75.8" y="299.7" width="12" height="2.4" rx="1" fill="#30a834" filter="url(#blur)"/><rect x="76.8" y="300.3" width="10" height="1.2" fill="#6ccc66" filter="url(#blur2)"/></g>
<g opacity="0.85"><rect x="92.4" y="300.9" width="12.2" height="2.4" rx="1" fill="#30a834" filter="url(#blur)"/><rect x="93.4" y="301.5" width="10.2" height="1.2" fill="#6ccc66" filter="url(#blur2)"/></g>
<g opacity="0.85"><rect x="109.55" y="300.6" width="12.5" height="2.4" rx="1" fill="#30a834" filter="url(#blur)"/><rect x="110.55" y="301.2" width="10.5" height="1.2" fill="#6ccc66" filter="url(#blur2)"/></g>
<g opacity="0.85"><rect x="126.6" y="300.5" width="14" height="2.4" rx="1" fill="#30a834" filter="url(#blur)"/><rect x="127.6" y="301.1" width="12" height="1.2" fill="#6ccc66" filter="url(#blur2)"/></g>
<g opacity="0.85"><rect x="144.65" y="299.4" width="13.3" height="2.4" rx="1" fill="#30a834" filter="url(#blur)"/><rect x="145.65" y="300" width="11.3" height="1.2" fill="#6ccc66" filter="url(#blur2)"/></g>
<g opacity="0.85"><rect x="161.45" y="299.4" width="12.3" height="2.4" rx="1" fill="#30a834" filter="url(#blur)"/><rect x="162.45" y="300" width="10.3" height="1.2" fill="#6ccc66" filter="url(#blur2)"/></g>
<g opacity="0.85"><rect x="177.2" y="300" width="12.8" height="2.4" rx="1" fill="#30a834" filter="url(#blur)"/><rect x="178.2" y="300.6" width="10.8" height="1.2" fill="#6ccc66" filter="url(#blur2)"/></g>
<g opacity="0.9"><rect x="43" y="308.95" width="14" height="2.5" rx="1" fill="#dc1418" filter="url(#blur)"/><rect x="44" y="309.57" width="12" height="1.25" fill="#ff3434" filter="url(#blur2)"/></g>
<g opacity="0.9"><rect x="59" y="309.15" width="14" height="2.5" rx="1" fill="#dc1418" filter="url(#blur)"/><rect x="60" y="309.77" width="12" height="1.25" fill="#ff3434" filter="url(#blur2)"/></g>
<g opacity="0.9"><rect x="75.3" y="309.35" width="13" height="2.5" rx="1" fill="#dc1418" filter="url(#blur)"/><rect x="76.3" y="309.98" width="11" height="1.25" fill="#ff3434" filter="url(#blur2)"/></g>
<g opacity="0.9"><rect x="91.9" y="309.05" width="13.2" height="2.5" rx="1" fill="#dc1418" filter="url(#blur)"/><rect x="92.9" y="309.68" width="11.2" height="1.25" fill="#ff3434" filter="url(#blur2)"/></g>
<g opacity="0.9"><rect x="109.05" y="309.25" width="13.5" height="2.5" rx="1" fill="#dc1418" filter="url(#blur)"/><rect x="110.05" y="309.88" width="11.5" height="1.25" fill="#ff3434" filter="url(#blur2)"/></g>
<g opacity="0.9"><rect x="126.1" y="309.05" width="15" height="2.5" rx="1" fill="#dc1418" filter="url(#blur)"/><rect x="127.1" y="309.68" width="13" height="1.25" fill="#ff3434" filter="url(#blur2)"/></g>
<g opacity="0.9"><rect x="144.15" y="308.95" width="14.3" height="2.5" rx="1" fill="#dc1418" filter="url(#blur)"/><rect x="145.15" y="309.57" width="12.3" height="1.25" fill="#ff3434" filter="url(#blur2)"/></g>
<g opacity="0.9"><rect x="160.95" y="308.65" width="13.3" height="2.5" rx="1" fill="#dc1418" filter="url(#blur)"/><rect x="161.95" y="309.27" width="11.3" height="1.25" fill="#ff3434" filter="url(#blur2)"/></g>
<g opacity="0.9"><rect x="176.7" y="308.05" width="13.8" height="2.5" rx="1" fill="#dc1418" filter="url(#blur)"/><rect x="177.7" y="308.68" width="11.8" height="1.25" fill="#ff3434" filter="url(#blur2)"/></g>
<text x="116.4" y="205.8" font-size="7" fill="#1c1c1c" stroke="#1c1c1c" stroke-width="0.16" text-anchor="middle">APS IgG</text>
<line x1="41.2" y1="210.9" x2="192" y2="210.9" stroke="#8a8a8a" stroke-width="1.1"/>
<line x1="49.8" y1="218.5" x2="52.8" y2="218.5" stroke="#222" stroke-width="0.85"/>
<line x1="66" y1="218.5" x2="69.6" y2="218.5" stroke="#222" stroke-width="0.85"/>
<line x1="67.8" y1="216.7" x2="67.8" y2="220.3" stroke="#222" stroke-width="0.85"/>
<line x1="82.5" y1="218.5" x2="86.1" y2="218.5" stroke="#222" stroke-width="0.85"/>
<line x1="84.3" y1="216.7" x2="84.3" y2="220.3" stroke="#222" stroke-width="0.85"/>
<line x1="99" y1="218.5" x2="102.6" y2="218.5" stroke="#222" stroke-width="0.85"/>
<line x1="100.8" y1="216.7" x2="100.8" y2="220.3" stroke="#222" stroke-width="0.85"/>
<line x1="115.5" y1="218.5" x2="119.1" y2="218.5" stroke="#222" stroke-width="0.85"/>
<line x1="117.3" y1="216.7" x2="117.3" y2="220.3" stroke="#222" stroke-width="0.85"/>
<line x1="132" y1="218.5" x2="135.6" y2="218.5" stroke="#222" stroke-width="0.85"/>
<line x1="133.8" y1="216.7" x2="133.8" y2="220.3" stroke="#222" stroke-width="0.85"/>
<line x1="148.5" y1="218.5" x2="152.1" y2="218.5" stroke="#222" stroke-width="0.85"/>
<line x1="150.3" y1="216.7" x2="150.3" y2="220.3" stroke="#222" stroke-width="0.85"/>
<line x1="165" y1="218.5" x2="168.6" y2="218.5" stroke="#222" stroke-width="0.85"/>
<line x1="166.8" y1="216.7" x2="166.8" y2="220.3" stroke="#222" stroke-width="0.85"/>
<line x1="181.5" y1="218.5" x2="185.1" y2="218.5" stroke="#222" stroke-width="0.85"/>
<line x1="183.3" y1="216.7" x2="183.3" y2="220.3" stroke="#222" stroke-width="0.85"/>
<text x="35.7" y="230.6" font-size="6.6" fill="#1c1c1c" stroke="#1c1c1c" stroke-width="0.16" text-anchor="end">kDa</text>
<text x="32.8" y="245.8" font-size="6.6" fill="#1c1c1c" stroke="#1c1c1c" stroke-width="0.16" text-anchor="end">~50</text>
<line x1="36.2" y1="243.8" x2="40.8" y2="243.8" stroke="#333" stroke-width="0.9"/>
<text x="32.4" y="256.9" font-size="6.6" fill="#1c1c1c" stroke="#1c1c1c" stroke-width="0.16" text-anchor="end">37</text>
<line x1="36.2" y1="254.4" x2="40.8" y2="254.4" stroke="#333" stroke-width="0.9"/>
<text x="32.8" y="303.3" font-size="6.6" fill="#1c1c1c" stroke="#1c1c1c" stroke-width="0.16" text-anchor="end">~48</text>
<line x1="36.2" y1="301.2" x2="40.8" y2="301.2" stroke="#333" stroke-width="0.9"/>
<text x="32.4" y="312.5" font-size="6.6" fill="#1c1c1c" stroke="#1c1c1c" stroke-width="0.16" text-anchor="end">37</text>
<line x1="36.2" y1="310" x2="40.8" y2="310" stroke="#333" stroke-width="0.9"/>
<text x="195.8" y="237.8" font-size="7.3" fill="#3f9f4a" stroke="#3f9f4a" stroke-width="0.16">pVASP</text>
<text x="195.8" y="246.2" font-size="7.3" fill="#3f9f4a" stroke="#3f9f4a" stroke-width="0.16">(Ser157)</text>
<text x="195.9" y="255.4" font-size="7.3" fill="#d8343c" stroke="#d8343c" stroke-width="0.16">GAPDH</text>
<text x="195.9" y="302.7" font-size="7.3" fill="#3f9f4a" stroke="#3f9f4a" stroke-width="0.16">VASP</text>
<text x="195.9" y="311.3" font-size="7.3" fill="#d8343c" stroke="#d8343c" stroke-width="0.16">GAPDH</text>
<text transform="translate(53.6 335.3) rotate(-90)" font-size="6.7" fill="#1c1c1c" stroke="#1c1c1c" stroke-width="0.16" text-anchor="end">Cont IgG</text>
<text transform="translate(70.1 335.3) rotate(-90)" font-size="6.7" fill="#1c1c1c" stroke="#1c1c1c" stroke-width="0.16" text-anchor="end">APS IgG</text>
<text transform="translate(84.6 335.3) rotate(-90)" font-size="6.7" fill="#1c1c1c" stroke="#1c1c1c" stroke-width="0.16" text-anchor="end">A<tspan font-size="4.2" dy="1.4">2A</tspan><tspan dy="-1.4">R-a</tspan></text>
<text transform="translate(100.3 335.3) rotate(-90)" font-size="6.7" fill="#1c1c1c" stroke="#1c1c1c" stroke-width="0.16" text-anchor="end">A<tspan font-size="4.2" dy="1.4">2A</tspan><tspan dy="-1.4">R-i + A</tspan><tspan font-size="4.2" dy="1.4">2A</tspan><tspan dy="-1.4">R-a</tspan></text>
<text transform="translate(119.4 335.3) rotate(-90)" font-size="6.7" fill="#1c1c1c" stroke="#1c1c1c" stroke-width="0.16" text-anchor="end">Dibutyryl-cAMP</text>
<text transform="translate(138.5 335.3) rotate(-90)" font-size="6.7" fill="#1c1c1c" stroke="#1c1c1c" stroke-width="0.16" text-anchor="end">8-Br-cAMP</text>
<text transform="translate(152.6 335.3) rotate(-90)" font-size="6.7" fill="#1c1c1c" stroke="#1c1c1c" stroke-width="0.16" text-anchor="end">Forskolin</text>
<text transform="translate(168.7 335.3) rotate(-90)" font-size="6.7" fill="#1c1c1c" stroke="#1c1c1c" stroke-width="0.16" text-anchor="end">PDE3-i</text>
<text transform="translate(185.2 335.3) rotate(-90)" font-size="6.7" fill="#1c1c1c" stroke="#1c1c1c" stroke-width="0.16" text-anchor="end">PDE2-i</text>
<rect x="291.05" y="293.1" width="10.4" height="20.9" fill="#c9c9c9"/>
<rect x="307.1" y="253" width="10.4" height="61" fill="#e57d92"/>
<rect x="323.3" y="280.6" width="10.4" height="33.4" fill="#9dd29b"/>
<rect x="339.4" y="291.9" width="10.4" height="22.1" fill="#b092c3"/>
<rect x="355.5" y="300" width="10.4" height="14" fill="#8bafcd"/>
<line x1="312.3" y1="253" x2="312.3" y2="246.5" stroke="#c42545" stroke-width="0.8"/>
<line x1="311.2" y1="246.5" x2="313.4" y2="246.5" stroke="#c42545" stroke-width="0.8"/>
<line x1="328.5" y1="280.6" x2="328.5" y2="273.5" stroke="#55b55a" stroke-width="0.8"/>
<line x1="327.4" y1="273.5" x2="329.6" y2="273.5" stroke="#55b55a" stroke-width="0.8"/>
<line x1="344.6" y1="291.9" x2="344.6" y2="289" stroke="#5b2f86" stroke-width="0.8"/>
<line x1="343.5" y1="289" x2="345.7" y2="289" stroke="#5b2f86" stroke-width="0.8"/>
<line x1="360.7" y1="300" x2="360.7" y2="292.5" stroke="#2f5f91" stroke-width="0.8"/>
<line x1="359.6" y1="292.5" x2="361.8" y2="292.5" stroke="#2f5f91" stroke-width="0.8"/>
<circle cx="293.5" cy="294.8" r="2.3" fill="#fff" stroke="#b3b3b3" stroke-width="0.95"/>
<circle cx="299.2" cy="294.6" r="2.3" fill="#fff" stroke="#b3b3b3" stroke-width="0.95"/>
<circle cx="296.3" cy="293.8" r="2.3" fill="#fff" stroke="#b3b3b3" stroke-width="0.95"/>
<circle cx="309" cy="244" r="2.3" fill="#fff" stroke="#c42545" stroke-width="0.95"/>
<circle cx="315.4" cy="244.8" r="2.3" fill="#fff" stroke="#c42545" stroke-width="0.95"/>
<circle cx="309.2" cy="250.6" r="2.3" fill="#fff" stroke="#c42545" stroke-width="0.95"/>
<circle cx="315.5" cy="252.2" r="2.3" fill="#fff" stroke="#c42545" stroke-width="0.95"/>
<circle cx="312.25" cy="259" r="2.3" fill="#fff" stroke="#c42545" stroke-width="0.95"/>
<circle cx="328.5" cy="272.2" r="2.3" fill="#fff" stroke="#55b55a" stroke-width="0.95"/>
<circle cx="325.6" cy="279" r="2.3" fill="#fff" stroke="#55b55a" stroke-width="0.95"/>
<circle cx="331.5" cy="279.5" r="2.3" fill="#fff" stroke="#55b55a" stroke-width="0.95"/>
<circle cx="328.5" cy="282.8" r="2.3" fill="#fff" stroke="#55b55a" stroke-width="0.95"/>
<circle cx="328.5" cy="287.5" r="2.3" fill="#fff" stroke="#55b55a" stroke-width="0.95"/>
<circle cx="341.25" cy="289" r="2.3" fill="#fff" stroke="#5b2f86" stroke-width="0.95"/>
<circle cx="344.4" cy="288.4" r="2.3" fill="#fff" stroke="#5b2f86" stroke-width="0.95"/>
<circle cx="348.1" cy="290" r="2.3" fill="#fff" stroke="#5b2f86" stroke-width="0.95"/>
<circle cx="345.6" cy="292.2" r="2.3" fill="#fff" stroke="#5b2f86" stroke-width="0.95"/>
<circle cx="341.5" cy="295" r="2.3" fill="#fff" stroke="#5b2f86" stroke-width="0.95"/>
<circle cx="357.5" cy="291" r="2.3" fill="#fff" stroke="#2f5f91" stroke-width="0.95"/>
<circle cx="359.75" cy="295.2" r="2.3" fill="#fff" stroke="#2f5f91" stroke-width="0.95"/>
<circle cx="364" cy="295.6" r="2.3" fill="#fff" stroke="#2f5f91" stroke-width="0.95"/>
<circle cx="357.5" cy="299.4" r="2.3" fill="#fff" stroke="#2f5f91" stroke-width="0.95"/>
<circle cx="361.9" cy="299" r="2.3" fill="#fff" stroke="#2f5f91" stroke-width="0.95"/>
<line x1="285.5" y1="236" x2="285.5" y2="314.6" stroke="#111" stroke-width="1.1"/>
<line x1="282.9" y1="314" x2="285.5" y2="314" stroke="#111" stroke-width="0.9"/>
<text x="278.4" y="316.3" font-size="6.5" fill="#1c1c1c" stroke="#1c1c1c" stroke-width="0.16" text-anchor="end">0</text>
<line x1="282.9" y1="295" x2="285.5" y2="295" stroke="#111" stroke-width="0.9"/>
<text x="278.4" y="297.3" font-size="6.5" fill="#1c1c1c" stroke="#1c1c1c" stroke-width="0.16" text-anchor="end">1</text>
<line x1="282.9" y1="276" x2="285.5" y2="276" stroke="#111" stroke-width="0.9"/>
<text x="278.4" y="278.3" font-size="6.5" fill="#1c1c1c" stroke="#1c1c1c" stroke-width="0.16" text-anchor="end">2</text>
<line x1="282.9" y1="257" x2="285.5" y2="257" stroke="#111" stroke-width="0.9"/>
<text x="278.4" y="259.3" font-size="6.5" fill="#1c1c1c" stroke="#1c1c1c" stroke-width="0.16" text-anchor="end">3</text>
<line x1="282.9" y1="238" x2="285.5" y2="238" stroke="#111" stroke-width="0.9"/>
<text x="278.4" y="240.3" font-size="6.5" fill="#1c1c1c" stroke="#1c1c1c" stroke-width="0.16" text-anchor="end">4</text>
<line x1="284.95" y1="314" x2="371.9" y2="314" stroke="#111" stroke-width="1.1"/>
<line x1="296.25" y1="314" x2="296.25" y2="316.4" stroke="#111" stroke-width="0.9"/>
<line x1="312.3" y1="314" x2="312.3" y2="316.4" stroke="#111" stroke-width="0.9"/>
<line x1="328.5" y1="314" x2="328.5" y2="316.4" stroke="#111" stroke-width="0.9"/>
<line x1="344.6" y1="314" x2="344.6" y2="316.4" stroke="#111" stroke-width="0.9"/>
<line x1="360.7" y1="314" x2="360.7" y2="316.4" stroke="#111" stroke-width="0.9"/>
<text transform="translate(268.4 276.6) rotate(-90)" font-size="8" fill="#222" font-weight="bold" text-anchor="middle" textLength="38" lengthAdjust="spacingAndGlyphs">CD62P (fold)</text>
<polyline points="295,254.45 295,235.25 313.5,235.25 313.5,237.55" stroke="#555" stroke-width="0.9" fill="none"/>
<circle cx="299.98" cy="231.5" r="0.88" fill="#2a2a2a"/>
<circle cx="302.73" cy="231.5" r="0.88" fill="#2a2a2a"/>
<circle cx="305.48" cy="231.5" r="0.88" fill="#2a2a2a"/>
<circle cx="308.23" cy="231.5" r="0.88" fill="#2a2a2a"/>
<polyline points="315.4,238.55 315.4,233.75 343.5,233.75 343.5,266.65" stroke="#555" stroke-width="0.9" fill="none"/>
<circle cx="325.57" cy="230" r="0.88" fill="#2a2a2a"/>
<circle cx="328.32" cy="230" r="0.88" fill="#2a2a2a"/>
<circle cx="331.07" cy="230" r="0.88" fill="#2a2a2a"/>
<circle cx="333.82" cy="230" r="0.88" fill="#2a2a2a"/>
<line x1="323.5" y1="266.9" x2="365" y2="266.9" stroke="#555" stroke-width="0.9"/>
<text x="286.1" y="327.1" font-size="7" fill="#1c1c1c" stroke="#1c1c1c" stroke-width="0.16" text-anchor="end">aβ2GPI IgG</text>
<line x1="294.65" y1="324.7" x2="297.85" y2="324.7" stroke="#222" stroke-width="0.8"/>
<line x1="310.5" y1="324.7" x2="314.1" y2="324.7" stroke="#222" stroke-width="0.8"/>
<line x1="312.3" y1="322.9" x2="312.3" y2="326.5" stroke="#222" stroke-width="0.8"/>
<line x1="326.7" y1="324.7" x2="330.3" y2="324.7" stroke="#222" stroke-width="0.8"/>
<line x1="328.5" y1="322.9" x2="328.5" y2="326.5" stroke="#222" stroke-width="0.8"/>
<line x1="342.8" y1="324.7" x2="346.4" y2="324.7" stroke="#222" stroke-width="0.8"/>
<line x1="344.6" y1="322.9" x2="344.6" y2="326.5" stroke="#222" stroke-width="0.8"/>
<line x1="358.9" y1="324.7" x2="362.5" y2="324.7" stroke="#222" stroke-width="0.8"/>
<line x1="360.7" y1="322.9" x2="360.7" y2="326.5" stroke="#222" stroke-width="0.8"/>
<text x="286.1" y="338.35" font-size="7" fill="#1c1c1c" stroke="#1c1c1c" stroke-width="0.16" text-anchor="end">A<tspan font-size="4.4" dy="1.6">2A</tspan><tspan dy="-1.6">R-a</tspan></text>
<line x1="294.65" y1="335.95" x2="297.85" y2="335.95" stroke="#222" stroke-width="0.8"/>
<line x1="310.7" y1="335.95" x2="313.9" y2="335.95" stroke="#222" stroke-width="0.8"/>
<line x1="326.7" y1="335.95" x2="330.3" y2="335.95" stroke="#222" stroke-width="0.8"/>
<line x1="328.5" y1="334.15" x2="328.5" y2="337.75" stroke="#222" stroke-width="0.8"/>
<line x1="343" y1="335.95" x2="346.2" y2="335.95" stroke="#222" stroke-width="0.8"/>
<line x1="359.1" y1="335.95" x2="362.3" y2="335.95" stroke="#222" stroke-width="0.8"/>
<text x="286.1" y="349.6" font-size="7" fill="#1c1c1c" stroke="#1c1c1c" stroke-width="0.16" text-anchor="end">Forskolin</text>
<line x1="294.65" y1="347.2" x2="297.85" y2="347.2" stroke="#222" stroke-width="0.8"/>
<line x1="310.7" y1="347.2" x2="313.9" y2="347.2" stroke="#222" stroke-width="0.8"/>
<line x1="326.9" y1="347.2" x2="330.1" y2="347.2" stroke="#222" stroke-width="0.8"/>
<line x1="342.8" y1="347.2" x2="346.4" y2="347.2" stroke="#222" stroke-width="0.8"/>
<line x1="344.6" y1="345.4" x2="344.6" y2="349" stroke="#222" stroke-width="0.8"/>
<line x1="359.1" y1="347.2" x2="362.3" y2="347.2" stroke="#222" stroke-width="0.8"/>
<text x="286.1" y="360.85" font-size="7" fill="#1c1c1c" stroke="#1c1c1c" stroke-width="0.16" text-anchor="end">PDE3-i</text>
<line x1="294.65" y1="358.45" x2="297.85" y2="358.45" stroke="#222" stroke-width="0.8"/>
<line x1="310.7" y1="358.45" x2="313.9" y2="358.45" stroke="#222" stroke-width="0.8"/>
<line x1="326.9" y1="358.45" x2="330.1" y2="358.45" stroke="#222" stroke-width="0.8"/>
<line x1="343" y1="358.45" x2="346.2" y2="358.45" stroke="#222" stroke-width="0.8"/>
<line x1="358.9" y1="358.45" x2="362.5" y2="358.45" stroke="#222" stroke-width="0.8"/>
<line x1="360.7" y1="356.65" x2="360.7" y2="360.25" stroke="#222" stroke-width="0.8"/>
<rect x="431.6" y="290.6" width="10.6" height="22.9" fill="#c9c9c9"/>
<rect x="447.6" y="267.3" width="10.6" height="46.2" fill="#e57d92"/>
<rect x="463.9" y="284" width="10.6" height="29.5" fill="#9dd29b"/>
<rect x="480" y="292.5" width="10.6" height="21" fill="#b092c3"/>
<rect x="496.1" y="290.6" width="10.6" height="22.9" fill="#8bafcd"/>
<line x1="452.9" y1="267.3" x2="452.9" y2="254" stroke="#c42545" stroke-width="0.8"/>
<line x1="451.8" y1="254" x2="454" y2="254" stroke="#c42545" stroke-width="0.8"/>
<line x1="469.2" y1="284" x2="469.2" y2="276.5" stroke="#55b55a" stroke-width="0.8"/>
<line x1="468.1" y1="276.5" x2="470.3" y2="276.5" stroke="#55b55a" stroke-width="0.8"/>
<line x1="485.3" y1="292.5" x2="485.3" y2="289" stroke="#5b2f86" stroke-width="0.8"/>
<line x1="484.2" y1="289" x2="486.4" y2="289" stroke="#5b2f86" stroke-width="0.8"/>
<circle cx="434" cy="292.2" r="2.3" fill="#fff" stroke="#b3b3b3" stroke-width="0.95"/>
<circle cx="439" cy="292.2" r="2.3" fill="#fff" stroke="#b3b3b3" stroke-width="0.95"/>
<circle cx="452.6" cy="249.8" r="2.3" fill="#fff" stroke="#c42545" stroke-width="0.95"/>
<circle cx="452.6" cy="261.2" r="2.3" fill="#fff" stroke="#c42545" stroke-width="0.95"/>
<circle cx="449.8" cy="268.3" r="2.3" fill="#fff" stroke="#c42545" stroke-width="0.95"/>
<circle cx="456" cy="271.2" r="2.3" fill="#fff" stroke="#c42545" stroke-width="0.95"/>
<circle cx="452.6" cy="282.5" r="2.3" fill="#fff" stroke="#c42545" stroke-width="0.95"/>
<circle cx="468.1" cy="274.8" r="2.3" fill="#fff" stroke="#55b55a" stroke-width="0.95"/>
<circle cx="470.4" cy="274.8" r="2.3" fill="#fff" stroke="#55b55a" stroke-width="0.95"/>
<circle cx="465.6" cy="290.6" r="2.3" fill="#fff" stroke="#55b55a" stroke-width="0.95"/>
<circle cx="469" cy="288.5" r="2.3" fill="#fff" stroke="#55b55a" stroke-width="0.95"/>
<circle cx="472.5" cy="289.8" r="2.3" fill="#fff" stroke="#55b55a" stroke-width="0.95"/>
<circle cx="481.9" cy="292.2" r="2.3" fill="#fff" stroke="#5b2f86" stroke-width="0.95"/>
<circle cx="485.6" cy="292.2" r="2.3" fill="#fff" stroke="#5b2f86" stroke-width="0.95"/>
<circle cx="488.1" cy="288.1" r="2.3" fill="#fff" stroke="#5b2f86" stroke-width="0.95"/>
<circle cx="488.5" cy="294.8" r="2.3" fill="#fff" stroke="#5b2f86" stroke-width="0.95"/>
<circle cx="481.9" cy="298.5" r="2.3" fill="#fff" stroke="#5b2f86" stroke-width="0.95"/>
<circle cx="498.1" cy="288.5" r="2.3" fill="#fff" stroke="#2f5f91" stroke-width="0.95"/>
<circle cx="504.4" cy="289.4" r="2.3" fill="#fff" stroke="#2f5f91" stroke-width="0.95"/>
<circle cx="498.1" cy="293.1" r="2.3" fill="#fff" stroke="#2f5f91" stroke-width="0.95"/>
<circle cx="502.25" cy="293.1" r="2.3" fill="#fff" stroke="#2f5f91" stroke-width="0.95"/>
<circle cx="501.5" cy="289.4" r="2.3" fill="#fff" stroke="#2f5f91" stroke-width="0.95"/>
<line x1="426" y1="238.3" x2="426" y2="314.1" stroke="#111" stroke-width="1.1"/>
<line x1="423.4" y1="313.5" x2="426" y2="313.5" stroke="#111" stroke-width="0.9"/>
<text x="419" y="315.8" font-size="6.5" fill="#1c1c1c" stroke="#1c1c1c" stroke-width="0.16" text-anchor="end">0</text>
<line x1="423.4" y1="292.13" x2="426" y2="292.13" stroke="#111" stroke-width="0.9"/>
<text x="419" y="294.43" font-size="6.5" fill="#1c1c1c" stroke="#1c1c1c" stroke-width="0.16" text-anchor="end">1</text>
<line x1="423.4" y1="270.76" x2="426" y2="270.76" stroke="#111" stroke-width="0.9"/>
<text x="419" y="273.06" font-size="6.5" fill="#1c1c1c" stroke="#1c1c1c" stroke-width="0.16" text-anchor="end">2</text>
<line x1="423.4" y1="249.39" x2="426" y2="249.39" stroke="#111" stroke-width="0.9"/>
<text x="419" y="251.69" font-size="6.5" fill="#1c1c1c" stroke="#1c1c1c" stroke-width="0.16" text-anchor="end">3</text>
<line x1="425.45" y1="313.5" x2="512.5" y2="313.5" stroke="#111" stroke-width="1.1"/>
<line x1="436.9" y1="313.5" x2="436.9" y2="315.9" stroke="#111" stroke-width="0.9"/>
<line x1="452.9" y1="313.5" x2="452.9" y2="315.9" stroke="#111" stroke-width="0.9"/>
<line x1="469.2" y1="313.5" x2="469.2" y2="315.9" stroke="#111" stroke-width="0.9"/>
<line x1="485.3" y1="313.5" x2="485.3" y2="315.9" stroke="#111" stroke-width="0.9"/>
<line x1="501.4" y1="313.5" x2="501.4" y2="315.9" stroke="#111" stroke-width="0.9"/>
<text transform="translate(409.6 276.6) rotate(-90)" font-size="8" fill="#222" font-weight="bold" text-anchor="middle" textLength="38" lengthAdjust="spacingAndGlyphs">CD62P (fold)</text>
<polyline points="433.75,245.6 433.75,240.6 450.6,240.6 450.6,241.9" stroke="#555" stroke-width="0.9" fill="none"/>
<circle cx="438.07" cy="236.9" r="0.88" fill="#2a2a2a"/>
<circle cx="440.82" cy="236.9" r="0.88" fill="#2a2a2a"/>
<circle cx="443.57" cy="236.9" r="0.88" fill="#2a2a2a"/>
<circle cx="446.32" cy="236.9" r="0.88" fill="#2a2a2a"/>
<polyline points="452.25,241.25 452.25,237.75 470.6,237.75 470.6,256.95" stroke="#555" stroke-width="0.9" fill="none"/>
<circle cx="460.12" cy="234" r="0.88" fill="#2a2a2a"/>
<circle cx="462.88" cy="234" r="0.88" fill="#2a2a2a"/>
<polyline points="452.25,233.75 452.25,229.75 485.25,229.75 485.25,256.95" stroke="#555" stroke-width="0.9" fill="none"/>
<circle cx="466.15" cy="226" r="0.88" fill="#2a2a2a"/>
<circle cx="468.9" cy="226" r="0.88" fill="#2a2a2a"/>
<circle cx="471.65" cy="226" r="0.88" fill="#2a2a2a"/>
<polyline points="452.25,225.65 452.25,221.25 502.5,221.25 502.5,256.95" stroke="#555" stroke-width="0.9" fill="none"/>
<circle cx="473.48" cy="217.25" r="0.88" fill="#2a2a2a"/>
<circle cx="476.23" cy="217.25" r="0.88" fill="#2a2a2a"/>
<circle cx="478.98" cy="217.25" r="0.88" fill="#2a2a2a"/>
<circle cx="481.73" cy="217.25" r="0.88" fill="#2a2a2a"/>
<text x="426.1" y="327.1" font-size="7" fill="#1c1c1c" stroke="#1c1c1c" stroke-width="0.16" text-anchor="end">aPT IgG</text>
<line x1="435.3" y1="324.7" x2="438.5" y2="324.7" stroke="#222" stroke-width="0.8"/>
<line x1="451.1" y1="324.7" x2="454.7" y2="324.7" stroke="#222" stroke-width="0.8"/>
<line x1="452.9" y1="322.9" x2="452.9" y2="326.5" stroke="#222" stroke-width="0.8"/>
<line x1="467.4" y1="324.7" x2="471" y2="324.7" stroke="#222" stroke-width="0.8"/>
<line x1="469.2" y1="322.9" x2="469.2" y2="326.5" stroke="#222" stroke-width="0.8"/>
<line x1="483.5" y1="324.7" x2="487.1" y2="324.7" stroke="#222" stroke-width="0.8"/>
<line x1="485.3" y1="322.9" x2="485.3" y2="326.5" stroke="#222" stroke-width="0.8"/>
<line x1="499.6" y1="324.7" x2="503.2" y2="324.7" stroke="#222" stroke-width="0.8"/>
<line x1="501.4" y1="322.9" x2="501.4" y2="326.5" stroke="#222" stroke-width="0.8"/>
<text x="426.1" y="338.35" font-size="7" fill="#1c1c1c" stroke="#1c1c1c" stroke-width="0.16" text-anchor="end">A<tspan font-size="4.4" dy="1.6">2A</tspan><tspan dy="-1.6">R-a</tspan></text>
<line x1="435.3" y1="335.95" x2="438.5" y2="335.95" stroke="#222" stroke-width="0.8"/>
<line x1="451.3" y1="335.95" x2="454.5" y2="335.95" stroke="#222" stroke-width="0.8"/>
<line x1="467.4" y1="335.95" x2="471" y2="335.95" stroke="#222" stroke-width="0.8"/>
<line x1="469.2" y1="334.15" x2="469.2" y2="337.75" stroke="#222" stroke-width="0.8"/>
<line x1="483.7" y1="335.95" x2="486.9" y2="335.95" stroke="#222" stroke-width="0.8"/>
<line x1="499.8" y1="335.95" x2="503" y2="335.95" stroke="#222" stroke-width="0.8"/>
<text x="426.1" y="349.6" font-size="7" fill="#1c1c1c" stroke="#1c1c1c" stroke-width="0.16" text-anchor="end">Forskolin</text>
<line x1="435.3" y1="347.2" x2="438.5" y2="347.2" stroke="#222" stroke-width="0.8"/>
<line x1="451.3" y1="347.2" x2="454.5" y2="347.2" stroke="#222" stroke-width="0.8"/>
<line x1="467.6" y1="347.2" x2="470.8" y2="347.2" stroke="#222" stroke-width="0.8"/>
<line x1="483.5" y1="347.2" x2="487.1" y2="347.2" stroke="#222" stroke-width="0.8"/>
<line x1="485.3" y1="345.4" x2="485.3" y2="349" stroke="#222" stroke-width="0.8"/>
<line x1="499.8" y1="347.2" x2="503" y2="347.2" stroke="#222" stroke-width="0.8"/>
<text x="426.1" y="360.85" font-size="7" fill="#1c1c1c" stroke="#1c1c1c" stroke-width="0.16" text-anchor="end">PDE3-i</text>
<line x1="435.3" y1="358.45" x2="438.5" y2="358.45" stroke="#222" stroke-width="0.8"/>
<line x1="451.3" y1="358.45" x2="454.5" y2="358.45" stroke="#222" stroke-width="0.8"/>
<line x1="467.6" y1="358.45" x2="470.8" y2="358.45" stroke="#222" stroke-width="0.8"/>
<line x1="483.7" y1="358.45" x2="486.9" y2="358.45" stroke="#222" stroke-width="0.8"/>
<line x1="499.6" y1="358.45" x2="503.2" y2="358.45" stroke="#222" stroke-width="0.8"/>
<line x1="501.4" y1="356.65" x2="501.4" y2="360.25" stroke="#222" stroke-width="0.8"/>
<line x1="61.6" y1="432.5" x2="61.6" y2="547.9" stroke="#111" stroke-width="1.1"/>
<line x1="59" y1="547.3" x2="61.6" y2="547.3" stroke="#111" stroke-width="0.9"/>
<text x="55.6" y="549.6" font-size="7" fill="#1c1c1c" stroke="#1c1c1c" stroke-width="0.16" text-anchor="end">0</text>
<line x1="59" y1="524.85" x2="61.6" y2="524.85" stroke="#111" stroke-width="0.9"/>
<text x="55.6" y="527.15" font-size="7" fill="#1c1c1c" stroke="#1c1c1c" stroke-width="0.16" text-anchor="end">2000</text>
<line x1="59" y1="502.4" x2="61.6" y2="502.4" stroke="#111" stroke-width="0.9"/>
<text x="55.6" y="504.7" font-size="7" fill="#1c1c1c" stroke="#1c1c1c" stroke-width="0.16" text-anchor="end">4000</text>
<line x1="59" y1="479.95" x2="61.6" y2="479.95" stroke="#111" stroke-width="0.9"/>
<text x="55.6" y="482.25" font-size="7" fill="#1c1c1c" stroke="#1c1c1c" stroke-width="0.16" text-anchor="end">6000</text>
<line x1="59" y1="457.5" x2="61.6" y2="457.5" stroke="#111" stroke-width="0.9"/>
<text x="55.6" y="459.8" font-size="7" fill="#1c1c1c" stroke="#1c1c1c" stroke-width="0.16" text-anchor="end">8000</text>
<line x1="59" y1="435.05" x2="61.6" y2="435.05" stroke="#111" stroke-width="0.9"/>
<text x="55.6" y="437.35" font-size="7" fill="#1c1c1c" stroke="#1c1c1c" stroke-width="0.16" text-anchor="end">10000</text>
<line x1="61.05" y1="547.3" x2="139.8" y2="547.3" stroke="#111" stroke-width="1.1"/>
<line x1="62.3" y1="547.3" x2="62.3" y2="549.7" stroke="#111" stroke-width="0.9"/>
<line x1="81" y1="547.3" x2="81" y2="549.7" stroke="#111" stroke-width="0.9"/>
<line x1="99.65" y1="547.3" x2="99.65" y2="549.7" stroke="#111" stroke-width="0.9"/>
<line x1="118.2" y1="547.3" x2="118.2" y2="549.7" stroke="#111" stroke-width="0.9"/>
<line x1="136.7" y1="547.3" x2="136.7" y2="549.7" stroke="#111" stroke-width="0.9"/>
<text x="62.3" y="560" font-size="7" fill="#1c1c1c" stroke="#1c1c1c" stroke-width="0.16" text-anchor="middle">0</text>
<text x="81" y="560" font-size="7" fill="#1c1c1c" stroke="#1c1c1c" stroke-width="0.16" text-anchor="middle">1</text>
<text x="99.65" y="560" font-size="7" fill="#1c1c1c" stroke="#1c1c1c" stroke-width="0.16" text-anchor="middle">2</text>
<text x="118.2" y="560" font-size="7" fill="#1c1c1c" stroke="#1c1c1c" stroke-width="0.16" text-anchor="middle">3</text>
<text x="136.7" y="560" font-size="7" fill="#1c1c1c" stroke="#1c1c1c" stroke-width="0.16" text-anchor="middle">4</text>
<text x="99.6" y="573.6" font-size="8.4" fill="#222" font-weight="bold" text-anchor="middle" textLength="32" lengthAdjust="spacingAndGlyphs">Time (min)</text>
<text transform="translate(28.2 491) rotate(-90)" font-size="8.4" fill="#222" font-weight="bold" text-anchor="middle" textLength="69.2" lengthAdjust="spacingAndGlyphs">Platelet adhesion (MFI)</text>
<path d="M62.3,547.3 L63.58,546.75 L64.87,546.2 L66.15,545.65 L67.43,545.1 L68.72,544.55 L70,544 L71.4,543.2 L72.8,542.4 L74.2,541.6 L75.6,540.8 L77,540 L78.36,538.49 L79.72,537.04 L81.08,535.55 L82.44,533.93 L83.8,532.5 L85.06,530.78 L86.32,529.18 L87.58,527.57 L88.84,525.44 L90.1,523.66 L91.36,522.37 L92.62,520.14 L93.88,518.55 L95.14,515.89 L96.4,514.44 L97.68,512.54 L98.96,509.73 L100.24,508.37 L101.52,506.1 L102.8,502.84 L104.12,500.18 L105.43,498.15 L106.75,495.98 L108.07,492.66 L109.38,489.81 L110.7,487.41 L111.92,484.53 L113.14,482.37 L114.36,480.23 L115.58,477.89 L116.8,475.18 L117.6,471.68 L118.95,469.91 L120.3,468.45 L121.65,466.5 L123,464.43 L124.28,463.11 L125.55,460.47 L126.82,458.27 L128.1,455.42 L129.42,454.29 L130.73,452.03 L132.05,449.05 L133.37,447.2 L134.68,445.57 L136,443.2 L136,460.96 L134.6,463.04 L133.2,464.41 L131.8,466.51 L130.4,469.19 L129,471.19 L127.6,473.69 L126.2,475.95 L124.8,478.73 L123.4,481.29 L122.05,483.59 L120.7,485.58 L119.35,488.12 L118,490.41 L116.58,493.1 L115.15,495.75 L113.72,498.13 L112.3,500.24 L110.97,502.11 L109.65,503.91 L108.33,505.68 L107,507.62 L105.6,510.14 L104.2,512.19 L102.8,514.4 L101.2,516.81 L99.6,518.52 L98,520.55 L96.45,522.06 L94.9,523.68 L93.43,525.52 L91.95,527.05 L90.47,528.88 L89,530.72 L87.77,531.4 L86.53,532.06 L85.3,533.11 L84.08,534.07 L82.87,535.05 L81.65,536.06 L80.43,537.03 L79.22,538.01 L78,539 L76.67,539.83 L75.33,540.67 L74,541.5 L72.67,542.33 L71.33,543.17 L70,544 L68.72,544.55 L67.43,545.1 L66.15,545.65 L64.87,546.2 L63.58,546.75 L62.3,547.3 Z" fill="#c9c9c9"/>
<path d="M62.3,547.3 L63.58,546.75 L64.87,546.2 L66.15,545.65 L67.43,545.1 L68.72,544.55 L70,544 L71.33,543.17 L72.67,542.33 L74,541.5 L75.33,540.67 L76.67,539.83 L78,539 L79.22,538 L80.43,536.99 L81.65,536.01 L82.87,534.96 L84.08,534.06 L85.3,533.07 L86.53,532.21 L87.77,531.23 L89,530.51 L90.47,528.81 L91.95,527.15 L93.43,525.83 L94.9,524.25 L96.45,522 L98,520.72 L99.6,518.56 L101.2,516.43 L102.8,514.37 L104.2,512.44 L105.6,510.14 L107,508.11 L108.33,506.15 L109.65,503.88 L110.97,502.31 L112.3,500.49 L113.72,498.06 L115.15,495.42 L116.58,492.65 L118,490.2 L119.35,487.96 L120.7,486.11 L122.05,483.41 L123.4,481.12 L124.8,478.89 L126.2,475.99 L127.6,473.58 L129,470.96 L130.4,468.66 L131.8,466.89 L133.2,464.97 L134.6,462.47 L136,460.6" fill="none" stroke="#e68ca2" stroke-width="0.9" stroke-linejoin="round"/>
<path d="M62.3,547.3 L63.6,546.76 L64.9,546.22 L66.2,545.69 L67.5,545.15 L68.8,544.61 L70.1,544.08 L71.4,543.54 L72.7,543 L73.96,542.4 L75.22,541.8 L76.48,541.2 L77.74,540.6 L79,540 L80.26,539.33 L81.52,538.74 L82.78,537.95 L84.04,537.28 L85.3,536.64 L86.87,535.37 L88.43,534.54 L90,533.61 L91.28,533.13 L92.56,531.81 L93.84,531.36 L95.12,530.45 L96.4,530.7 L97.93,529.47 L99.47,527.46 L101,527.68 L102.22,526.9 L103.45,525.72 L104.68,524.91 L105.9,523.52 L107.27,522.32 L108.63,522.04 L110,520.38 L111.35,519.72 L112.7,518.94 L114.05,517.79 L115.4,517.55 L116.8,516.49 L118.2,516.03 L119.6,514.55 L121,513.7 L122.38,512.55 L123.75,511.83 L125.12,510.59 L126.5,509.39 L128,509.5 L129.5,508.59 L131,507.48 L132.25,506.39 L133.5,504.94 L134.75,503.92 L136,503.4" fill="none" stroke="#3db34b" stroke-width="1.9" stroke-linejoin="round"/>
<path d="M62.3,547.3 L63.51,546.67 L64.72,546.05 L65.94,545.42 L67.15,544.8 L68.36,544.17 L69.58,543.55 L70.79,542.92 L72,542.3 L73.4,541.64 L74.8,540.98 L76.2,540.32 L77.6,539.66 L79,539 L80.25,538.27 L81.5,537.53 L82.75,536.65 L84,535.82 L85.25,535.2 L86.5,534.38 L87.75,533.93 L89,533.13 L90.36,532.08 L91.71,531.05 L93.07,530.15 L94.43,528.65 L95.79,527.94 L97.14,526.61 L98.5,526.49 L99.8,524.47 L101.1,524.38 L102.4,522.49 L103.7,522.22 L105,520.8 L106.25,520.01 L107.5,519.66 L108.75,517.8 L110,516.97 L111.35,517.25 L112.7,516.01 L114.05,514.76 L115.4,515.08 L117,513.44 L118.6,510.84 L120.2,509.61 L121.8,507.7 L123.4,506.34 L125,505.15 L126.57,503 L128.13,502.04 L129.7,499.66 L131.35,498.21 L133,497.38 L134.35,494.53 L135.7,492.3" fill="none" stroke="#6a2a7a" stroke-width="1.3" stroke-linejoin="round"/>
<path d="M62.3,547.3 L63.51,546.64 L64.72,545.97 L65.94,545.31 L67.15,544.65 L68.36,543.99 L69.58,543.33 L70.79,542.66 L72,542 L73.4,541.3 L74.8,540.6 L76.2,539.9 L77.6,539.2 L79,538.49 L80.25,537.75 L81.5,536.99 L82.75,536.27 L84,535.29 L85.25,534.51 L86.5,533.67 L87.75,532.91 L89,532.45 L90.36,530.93 L91.71,530.13 L93.07,528.74 L94.43,527.7 L95.79,526.73 L97.14,526.09 L98.5,524.73 L99.88,522.62 L101.25,521.53 L102.62,519.98 L104,519.45 L105.28,517.5 L106.55,515.62 L107.82,513.77 L109.1,511.79 L110.36,510.74 L111.62,509.25 L112.88,507.31 L114.14,506.72 L115.4,504.98 L116.8,503.56 L118.2,501.58 L119.6,499.67 L121,497.84 L122.2,496.62 L123.4,495.18 L124.6,493.64 L125.8,493.18 L127,491.86 L128.33,490.58 L129.67,488.73 L131,487.07 L132.75,485.55 L134.5,483.06 L136,482" fill="none" stroke="#16204a" stroke-width="1.6" stroke-linejoin="round"/>
<path d="M62.3,547.3 L63.63,546.4 L64.97,545.5 L66.3,544.6 L67.72,543.9 L69.15,543.2 L70.58,542.5 L72,541.8 L73.4,541.08 L74.8,540.36 L76.2,539.64 L77.6,538.92 L79,538.18 L80.25,537.42 L81.5,536.63 L82.75,535.9 L84,534.93 L85.25,534.14 L86.5,533.55 L87.75,532.75 L89,531.79 L90.5,530.78 L92,529.36 L93.5,528.42 L94.75,526.83 L96,525.85 L97.25,525.44 L98.5,523.86 L100,522.26 L101.5,521.3 L103,519.63 L104.25,517.9 L105.5,517.05 L106.75,515.91 L108,514.16 L109.5,512.92 L111,510.66 L112.5,509.14 L114,506.92 L115.5,505.07 L117,503.88 L118.25,501.45 L119.5,500.19 L120.75,497.79 L122,496.11 L123.5,494.07 L125,491.59 L126.5,488.71 L128,487.49 L129.5,485.83 L131,483.68 L132.25,482.29 L133.5,481.77 L134.75,480.11 L136,478.8" fill="none" stroke="#2aa6dc" stroke-width="1.9" stroke-linejoin="round"/>
<line x1="57.5" y1="589.8" x2="73.8" y2="589.8" stroke="#555555" stroke-width="1.5"/>
<text x="77.3" y="592.3" font-size="7" fill="#1c1c1c" stroke="#1c1c1c" stroke-width="0.16">Cont IgG</text>
<line x1="57.5" y1="603.5" x2="73.8" y2="603.5" stroke="#e0607f" stroke-width="1.5"/>
<text x="77.3" y="606" font-size="7" fill="#1c1c1c" stroke="#1c1c1c" stroke-width="0.16">APS IgG</text>
<line x1="57.5" y1="619.8" x2="73.8" y2="619.8" stroke="#74c8de" stroke-width="1.5"/>
<text x="77.3" y="622.3" font-size="7" fill="#1c1c1c" stroke="#1c1c1c" stroke-width="0.16">A<tspan font-size="4.4" dy="1.6">2A</tspan><tspan dy="-1.6">R-a</tspan></text>
<line x1="57.5" y1="634" x2="73.8" y2="634" stroke="#5a7c9c" stroke-width="1.5"/>
<text x="77.3" y="636.5" font-size="7" fill="#1c1c1c" stroke="#1c1c1c" stroke-width="0.16">Dibut-cAMP</text>
<line x1="57.5" y1="649" x2="73.8" y2="649" stroke="#7b4f8b" stroke-width="1.5"/>
<text x="77.3" y="651.5" font-size="7" fill="#1c1c1c" stroke="#1c1c1c" stroke-width="0.16">8-Br-cAMP</text>
<line x1="57.5" y1="664" x2="73.8" y2="664" stroke="#7cc07c" stroke-width="1.5"/>
<text x="77.3" y="666.5" font-size="7" fill="#1c1c1c" stroke="#1c1c1c" stroke-width="0.16">PDE3-i</text>
<line x1="52.5" y1="618" x2="52.5" y2="671.5" stroke="#555" stroke-width="0.9"/>
<text transform="translate(48.2 645.4) rotate(-90)" font-size="7" fill="#1c1c1c" stroke="#1c1c1c" stroke-width="0.16" text-anchor="middle">APS IgG</text>
<polyline points="118.5,589.4 135.6,589.4 135.6,603.75" stroke="#666" stroke-width="0.9" fill="none"/>
<polyline points="118.5,603.75 150.25,603.75 150.25,641.5 131.9,641.5" stroke="#666" stroke-width="0.9" fill="none"/>
<line x1="131.9" y1="612.75" x2="131.9" y2="671.5" stroke="#666" stroke-width="0.9"/>
<circle cx="139.1" cy="592.5" r="0.9" fill="#2a2a2a"/>
<circle cx="153.8" cy="618.6" r="0.9" fill="#2a2a2a"/>
<circle cx="139.1" cy="595.25" r="0.9" fill="#2a2a2a"/>
<circle cx="153.8" cy="621.35" r="0.9" fill="#2a2a2a"/>
<circle cx="139.1" cy="598" r="0.9" fill="#2a2a2a"/>
<circle cx="153.8" cy="624.1" r="0.9" fill="#2a2a2a"/>
<circle cx="139.1" cy="600.75" r="0.9" fill="#2a2a2a"/>
<circle cx="153.8" cy="626.85" r="0.9" fill="#2a2a2a"/>
<rect x="219" y="417.5" width="43" height="43" fill="#0a0c0a"/>
<rect x="264" y="417.5" width="43" height="43" fill="#0a120b"/>
<g filter="url(#blur3)"><ellipse cx="278.35" cy="425.24" rx="0.43" ry="1.38" fill="#0f280f"/><ellipse cx="280.05" cy="421.59" rx="0.41" ry="1.29" fill="#0f270f"/><ellipse cx="268.04" cy="422.87" rx="0.69" ry="1.01" fill="#0f270f"/><ellipse cx="274.26" cy="444.02" rx="0.6" ry="1.26" fill="#0f2a0f"/><ellipse cx="304.84" cy="421.14" rx="0.5" ry="1.03" fill="#0f290f"/><ellipse cx="269.98" cy="431.45" rx="0.46" ry="1.42" fill="#0f290f"/><ellipse cx="291.14" cy="433.97" rx="0.42" ry="0.95" fill="#0f270f"/><ellipse cx="273.56" cy="446.11" rx="0.51" ry="1.43" fill="#0f270f"/><ellipse cx="283.6" cy="431.11" rx="0.64" ry="1.12" fill="#0f290f"/><ellipse cx="288.52" cy="439.99" rx="0.66" ry="1.16" fill="#0f290f"/><ellipse cx="305" cy="423.95" rx="0.66" ry="1.04" fill="#0f270f"/><ellipse cx="285.05" cy="420.84" rx="0.67" ry="1.42" fill="#0f280f"/><ellipse cx="300.74" cy="431.66" rx="0.61" ry="1.42" fill="#0f280f"/><ellipse cx="283.72" cy="452.39" rx="0.57" ry="1.5" fill="#0f2a0f"/><ellipse cx="267.66" cy="446.94" rx="0.75" ry="1.64" fill="#0f280f"/></g>
<rect x="309" y="417.5" width="43" height="43" fill="#09140a"/>
<g filter="url(#blur3)"><ellipse cx="321.75" cy="434.5" rx="0.41" ry="1.32" fill="#165316"/><ellipse cx="317.02" cy="423.91" rx="0.67" ry="1.02" fill="#103610"/><ellipse cx="320.25" cy="434.7" rx="0.43" ry="1.3" fill="#1a5d19"/><ellipse cx="332.51" cy="454.11" rx="0.7" ry="1.15" fill="#195b18"/><ellipse cx="327.06" cy="433.44" rx="0.74" ry="1.04" fill="#1a5e19"/><ellipse cx="317.35" cy="428.44" rx="0.57" ry="1.43" fill="#113f11"/><ellipse cx="320.87" cy="419.46" rx="0.53" ry="1.41" fill="#134712"/><ellipse cx="348.9" cy="446.51" rx="0.62" ry="1.51" fill="#144c14"/><ellipse cx="312.39" cy="454.74" rx="0.71" ry="1.62" fill="#185917"/><ellipse cx="326.13" cy="435.02" rx="0.62" ry="0.96" fill="#103810"/><ellipse cx="312.93" cy="427.53" rx="0.52" ry="0.95" fill="#103b10"/><ellipse cx="310.21" cy="425.26" rx="0.53" ry="0.92" fill="#103810"/><ellipse cx="345.7" cy="443.49" rx="0.49" ry="1.21" fill="#103a10"/><ellipse cx="324.99" cy="424.14" rx="0.75" ry="1.32" fill="#195c18"/><ellipse cx="329.84" cy="422.68" rx="0.52" ry="1.14" fill="#103810"/><ellipse cx="343.85" cy="425.66" rx="0.73" ry="1.38" fill="#10340f"/><ellipse cx="316.15" cy="440.7" rx="0.58" ry="1.78" fill="#10350f"/><ellipse cx="345.25" cy="446.73" rx="0.53" ry="1.05" fill="#114011"/><ellipse cx="341.54" cy="440.28" rx="0.52" ry="1.1" fill="#185917"/><ellipse cx="343.15" cy="458.11" rx="0.68" ry="1.64" fill="#195c18"/><ellipse cx="340.24" cy="428.23" rx="0.52" ry="0.93" fill="#144c14"/><ellipse cx="311.33" cy="430.31" rx="0.64" ry="1.76" fill="#114011"/><ellipse cx="328.36" cy="456.22" rx="0.73" ry="1.23" fill="#1c631b"/><ellipse cx="319.15" cy="428.24" rx="0.47" ry="1.46" fill="#113d11"/><ellipse cx="346.75" cy="452.41" rx="0.63" ry="1.62" fill="#144a13"/><ellipse cx="313.64" cy="445.33" rx="0.67" ry="1.58" fill="#1a5f19"/><ellipse cx="329.61" cy="426.33" rx="0.52" ry="1.62" fill="#185917"/><ellipse cx="349.65" cy="434.9" rx="0.73" ry="1.55" fill="#134712"/><ellipse cx="317.1" cy="424.31" rx="0.72" ry="1.63" fill="#103b10"/><ellipse cx="316.13" cy="451.86" rx="0.63" ry="1.22" fill="#1c621a"/><ellipse cx="332.48" cy="424.46" rx="0.74" ry="1.48" fill="#0f340f"/><ellipse cx="331.58" cy="456.08" rx="0.71" ry="1.64" fill="#134813"/><ellipse cx="318.77" cy="429.22" rx="0.48" ry="1.43" fill="#124111"/><ellipse cx="320.73" cy="435.81" rx="0.72" ry="1.22" fill="#103a10"/><ellipse cx="328.8" cy="442.28" rx="0.55" ry="1.73" fill="#1a5f19"/><ellipse cx="330.57" cy="440.25" rx="0.41" ry="1.3" fill="#144d14"/><ellipse cx="317.63" cy="419.45" rx="0.46" ry="1.33" fill="#185a17"/><ellipse cx="339.64" cy="441.23" rx="0.58" ry="1.4" fill="#124312"/><ellipse cx="342.04" cy="423.48" rx="0.49" ry="1.15" fill="#154e14"/><ellipse cx="341.55" cy="439.3" rx="0.67" ry="1.72" fill="#154e14"/><ellipse cx="328.2" cy="443.43" rx="0.58" ry="1.52" fill="#144c13"/><ellipse cx="328.57" cy="440.31" rx="0.73" ry="1.53" fill="#144a13"/><ellipse cx="345.79" cy="456.42" rx="0.6" ry="1.75" fill="#114011"/><ellipse cx="344.3" cy="424.7" rx="0.55" ry="0.97" fill="#103910"/><ellipse cx="319.97" cy="422.18" rx="0.67" ry="1.71" fill="#165416"/><ellipse cx="316.47" cy="447.52" rx="0.45" ry="1.69" fill="#165315"/><ellipse cx="349.48" cy="427.95" rx="0.54" ry="1.34" fill="#1b611a"/><ellipse cx="350.39" cy="452.1" rx="0.55" ry="1.36" fill="#103b10"/><ellipse cx="323.97" cy="427.01" rx="0.65" ry="0.92" fill="#124312"/><ellipse cx="332.69" cy="436.65" rx="0.52" ry="1.46" fill="#10340f"/><ellipse cx="331" cy="421.83" rx="0.68" ry="1.77" fill="#1c631b"/><ellipse cx="314.45" cy="429.76" rx="0.67" ry="1.14" fill="#103510"/><ellipse cx="315.46" cy="435.94" rx="0.69" ry="1.13" fill="#1a5f19"/><ellipse cx="316.26" cy="455.52" rx="0.65" ry="0.98" fill="#154f14"/><ellipse cx="312.54" cy="446.42" rx="0.43" ry="1.74" fill="#134813"/><ellipse cx="335.96" cy="450.88" rx="0.7" ry="0.96" fill="#103710"/><ellipse cx="345.23" cy="437.18" rx="0.59" ry="1.73" fill="#124412"/><ellipse cx="321.08" cy="424.39" rx="0.48" ry="1" fill="#144d14"/><ellipse cx="316.75" cy="421.28" rx="0.51" ry="1.17" fill="#113d11"/><ellipse cx="341.04" cy="430.72" rx="0.46" ry="1.21" fill="#144b13"/><ellipse cx="310.94" cy="429.17" rx="0.66" ry="1.4" fill="#0f340f"/><ellipse cx="317.89" cy="438.01" rx="0.44" ry="1.64" fill="#1b601a"/><ellipse cx="327.75" cy="438.8" rx="0.54" ry="1.36" fill="#195b18"/><ellipse cx="338.12" cy="458.01" rx="0.69" ry="1.54" fill="#124412"/><ellipse cx="336.02" cy="435.25" rx="0.42" ry="1.02" fill="#124412"/><ellipse cx="313.07" cy="448.49" rx="0.46" ry="0.98" fill="#114011"/><ellipse cx="344.36" cy="453.6" rx="0.5" ry="1.12" fill="#165416"/><ellipse cx="322.1" cy="437.4" rx="0.56" ry="1.14" fill="#103b10"/><ellipse cx="349.25" cy="457.62" rx="0.49" ry="1.77" fill="#144e14"/><ellipse cx="322.77" cy="433.35" rx="0.53" ry="1.33" fill="#0f330f"/><ellipse cx="330.61" cy="427.22" rx="0.4" ry="1.14" fill="#144c13"/><ellipse cx="313.84" cy="435.04" rx="0.41" ry="1.17" fill="#103510"/><ellipse cx="319.65" cy="442.37" rx="0.66" ry="1.49" fill="#144d14"/><ellipse cx="339.27" cy="453.94" rx="0.51" ry="1.79" fill="#134612"/><ellipse cx="316.27" cy="447.83" rx="0.42" ry="1.65" fill="#165215"/><ellipse cx="346.41" cy="444.02" rx="0.68" ry="1.03" fill="#175716"/><ellipse cx="331.46" cy="439.17" rx="0.68" ry="1.64" fill="#195b18"/><ellipse cx="333.91" cy="454.48" rx="0.64" ry="1.11" fill="#165416"/><ellipse cx="311.47" cy="424.54" rx="0.44" ry="1.65" fill="#124512"/><ellipse cx="332.88" cy="444.03" rx="0.64" ry="1.34" fill="#165115"/><ellipse cx="310.33" cy="450.73" rx="0.58" ry="1.38" fill="#175717"/><ellipse cx="336.97" cy="421.9" rx="0.49" ry="0.97" fill="#175716"/><ellipse cx="320.98" cy="448.04" rx="0.66" ry="1.78" fill="#113d11"/><ellipse cx="330.25" cy="434.37" rx="0.64" ry="1.59" fill="#144a13"/><ellipse cx="335.25" cy="444.62" rx="0.45" ry="1.13" fill="#103710"/><ellipse cx="340.37" cy="431.29" rx="0.4" ry="0.95" fill="#154f14"/><ellipse cx="321.11" cy="445.78" rx="0.64" ry="1.16" fill="#175516"/><ellipse cx="331.17" cy="437.61" rx="0.44" ry="1.7" fill="#134a13"/><ellipse cx="318.29" cy="457.84" rx="0.41" ry="1.31" fill="#1b601a"/><ellipse cx="343.49" cy="457.44" rx="0.49" ry="1.09" fill="#134913"/><ellipse cx="348.59" cy="427.6" rx="0.45" ry="1.37" fill="#154f14"/><ellipse cx="348.88" cy="424.52" rx="0.58" ry="1.7" fill="#195b18"/><ellipse cx="338.76" cy="428.42" rx="0.57" ry="0.92" fill="#1a5f19"/><ellipse cx="310.35" cy="438.67" rx="0.51" ry="1.03" fill="#134913"/><ellipse cx="324.16" cy="431.75" rx="0.4" ry="1.58" fill="#195c18"/><ellipse cx="344.27" cy="424.03" rx="0.65" ry="1.71" fill="#1b601a"/><ellipse cx="321.97" cy="433.97" rx="0.75" ry="1.43" fill="#134612"/><ellipse cx="324.84" cy="436.17" rx="0.42" ry="0.99" fill="#114111"/><ellipse cx="344.09" cy="430.55" rx="0.49" ry="1.14" fill="#1b601a"/><ellipse cx="330.95" cy="426.78" rx="0.73" ry="1.7" fill="#124512"/><ellipse cx="343.17" cy="444.16" rx="0.73" ry="1.39" fill="#1a5f19"/><ellipse cx="339.41" cy="421.25" rx="0.56" ry="1.58" fill="#175716"/><ellipse cx="336.37" cy="430.58" rx="0.72" ry="1.01" fill="#103610"/><ellipse cx="329.37" cy="432.84" rx="0.66" ry="1.78" fill="#124211"/><ellipse cx="320.76" cy="445.15" rx="0.6" ry="1.25" fill="#124211"/><ellipse cx="316.99" cy="425.67" rx="0.72" ry="1.35" fill="#113d11"/><ellipse cx="319.13" cy="455.01" rx="0.56" ry="1.03" fill="#1c631b"/><ellipse cx="318.01" cy="422.87" rx="0.43" ry="1.12" fill="#124412"/><ellipse cx="320.69" cy="441.74" rx="0.66" ry="1.27" fill="#1a5e19"/><ellipse cx="327" cy="439.95" rx="0.52" ry="0.96" fill="#124512"/><ellipse cx="321.47" cy="457.43" rx="0.58" ry="1.47" fill="#103910"/><ellipse cx="345.23" cy="427.81" rx="0.49" ry="1.26" fill="#114011"/><ellipse cx="328.3" cy="456.89" rx="0.71" ry="0.92" fill="#195c18"/><ellipse cx="311.51" cy="447.25" rx="0.57" ry="1.43" fill="#1a5e19"/><ellipse cx="310.21" cy="434.73" rx="0.69" ry="1.67" fill="#1b601a"/><ellipse cx="349.67" cy="429.09" rx="0.45" ry="1.37" fill="#103910"/><ellipse cx="337.89" cy="456.39" rx="0.63" ry="1.59" fill="#175616"/><ellipse cx="328.77" cy="441.03" rx="0.67" ry="1.11" fill="#103510"/><ellipse cx="347.55" cy="444.73" rx="0.44" ry="1.13" fill="#124211"/><ellipse cx="336.03" cy="446.82" rx="0.42" ry="1.37" fill="#103910"/><ellipse cx="333.87" cy="434.59" rx="0.61" ry="0.91" fill="#113e11"/><ellipse cx="322.44" cy="437.45" rx="0.63" ry="1.7" fill="#1b611a"/><ellipse cx="329.5" cy="428.55" rx="0.74" ry="1.53" fill="#113f11"/><ellipse cx="322.68" cy="420.16" rx="0.64" ry="1.28" fill="#144b13"/><ellipse cx="320.64" cy="445.59" rx="0.48" ry="0.93" fill="#1b6019"/><ellipse cx="323.92" cy="435.87" rx="0.47" ry="1.62" fill="#165416"/><ellipse cx="340.21" cy="439.19" rx="0.74" ry="1.18" fill="#113d11"/><ellipse cx="343.49" cy="428.39" rx="0.67" ry="1.17" fill="#113e11"/><ellipse cx="348.85" cy="438.83" rx="0.48" ry="1.28" fill="#113c10"/><ellipse cx="337.21" cy="456.68" rx="0.54" ry="1.09" fill="#103a10"/></g>
<rect x="354" y="417.5" width="43" height="43" fill="#0a160b"/>
<g filter="url(#blur3)"><ellipse cx="394.75" cy="424.89" rx="0.42" ry="1.25" fill="#124512"/><ellipse cx="391.67" cy="454.11" rx="0.75" ry="1.74" fill="#2a7f27"/><ellipse cx="368.57" cy="426.61" rx="0.66" ry="0.93" fill="#359031"/><ellipse cx="382.18" cy="434.22" rx="0.52" ry="1.05" fill="#1b601a"/><ellipse cx="355.32" cy="430.32" rx="0.73" ry="1.01" fill="#1a5e19"/><ellipse cx="394.35" cy="427.47" rx="0.69" ry="1.64" fill="#1a5f19"/><ellipse cx="372.76" cy="421.24" rx="0.53" ry="1.73" fill="#1e691d"/><ellipse cx="363.04" cy="433.65" rx="0.41" ry="1.27" fill="#338d2f"/><ellipse cx="388.16" cy="449.51" rx="0.41" ry="0.96" fill="#124412"/><ellipse cx="392.56" cy="429.43" rx="0.71" ry="1.21" fill="#2b8028"/><ellipse cx="366.26" cy="457.03" rx="0.49" ry="1.54" fill="#247522"/><ellipse cx="368.05" cy="430.16" rx="0.66" ry="1.72" fill="#114111"/><ellipse cx="380.94" cy="456.46" rx="0.48" ry="1.33" fill="#124211"/><ellipse cx="394.05" cy="456.88" rx="0.49" ry="1.29" fill="#1b611a"/><ellipse cx="375.24" cy="455.87" rx="0.68" ry="1.56" fill="#155015"/><ellipse cx="388.6" cy="449.75" rx="0.51" ry="1.19" fill="#247422"/><ellipse cx="369.89" cy="450.12" rx="0.47" ry="1.58" fill="#134712"/><ellipse cx="365.24" cy="421.85" rx="0.59" ry="1.19" fill="#124312"/><ellipse cx="395" cy="454.11" rx="0.49" ry="0.98" fill="#389434"/><ellipse cx="359.11" cy="438.94" rx="0.56" ry="1.11" fill="#297d26"/><ellipse cx="372.12" cy="443.74" rx="0.66" ry="1.66" fill="#277a25"/><ellipse cx="382.18" cy="424.07" rx="0.5" ry="1.41" fill="#30882d"/><ellipse cx="370.34" cy="448.38" rx="0.49" ry="1.12" fill="#165115"/><ellipse cx="361.42" cy="454.14" rx="0.51" ry="1.26" fill="#237121"/><ellipse cx="395.49" cy="439.29" rx="0.68" ry="1.49" fill="#165416"/><ellipse cx="395.43" cy="423.33" rx="0.69" ry="1.66" fill="#1e691d"/><ellipse cx="392.32" cy="420.89" rx="0.44" ry="1.07" fill="#185917"/><ellipse cx="394.7" cy="442.28" rx="0.53" ry="1.68" fill="#358f31"/><ellipse cx="373.43" cy="429.54" rx="0.73" ry="1" fill="#2c8229"/><ellipse cx="379.4" cy="443.73" rx="0.53" ry="1.03" fill="#165315"/><ellipse cx="363.48" cy="429.34" rx="0.63" ry="1.08" fill="#237322"/><ellipse cx="355.66" cy="432.19" rx="0.46" ry="1.18" fill="#277a25"/><ellipse cx="363.46" cy="450.63" rx="0.42" ry="0.99" fill="#216f20"/><ellipse cx="371.25" cy="440.98" rx="0.43" ry="1.05" fill="#257723"/><ellipse cx="383.43" cy="435.45" rx="0.51" ry="1.76" fill="#185817"/><ellipse cx="367.88" cy="441.62" rx="0.55" ry="1.68" fill="#1a5f19"/><ellipse cx="395.66" cy="433.63" rx="0.65" ry="1.08" fill="#155115"/><ellipse cx="355.44" cy="454.82" rx="0.69" ry="1.27" fill="#1c641b"/><ellipse cx="391.04" cy="437.46" rx="0.41" ry="1.4" fill="#154e14"/><ellipse cx="381.21" cy="455.15" rx="0.62" ry="1.23" fill="#134813"/><ellipse cx="375.68" cy="425.05" rx="0.58" ry="1.73" fill="#185817"/><ellipse cx="359.62" cy="438.63" rx="0.74" ry="1.08" fill="#2e852b"/><ellipse cx="360.34" cy="456.46" rx="0.57" ry="0.95" fill="#379334"/><ellipse cx="392.8" cy="434.58" rx="0.62" ry="1.64" fill="#338d30"/><ellipse cx="361.71" cy="450.26" rx="0.54" ry="1.66" fill="#165315"/><ellipse cx="388.87" cy="426.51" rx="0.54" ry="1.37" fill="#165315"/><ellipse cx="370.77" cy="424.15" rx="0.65" ry="1.71" fill="#175516"/><ellipse cx="356.87" cy="441.46" rx="0.41" ry="1.65" fill="#2b8128"/><ellipse cx="359.98" cy="442.92" rx="0.62" ry="1.18" fill="#216f20"/><ellipse cx="372.25" cy="442.26" rx="0.63" ry="1.3" fill="#1d651b"/><ellipse cx="373" cy="420.22" rx="0.57" ry="1.11" fill="#247522"/><ellipse cx="386.2" cy="450.03" rx="0.46" ry="1.33" fill="#1e671c"/><ellipse cx="359.55" cy="424.36" rx="0.43" ry="1.3" fill="#1d651b"/><ellipse cx="375.91" cy="420.91" rx="0.43" ry="1.56" fill="#257623"/><ellipse cx="386.77" cy="439.45" rx="0.58" ry="1.24" fill="#124512"/><ellipse cx="393.81" cy="424.67" rx="0.75" ry="1.56" fill="#30892d"/><ellipse cx="388.29" cy="426.93" rx="0.57" ry="1.76" fill="#389434"/><ellipse cx="392.39" cy="425.81" rx="0.73" ry="0.96" fill="#2d832a"/><ellipse cx="369.45" cy="449.09" rx="0.71" ry="1.15" fill="#154e14"/><ellipse cx="388.31" cy="424.96" rx="0.72" ry="1.09" fill="#1f6b1e"/><ellipse cx="365.87" cy="439.24" rx="0.41" ry="1.06" fill="#195b18"/><ellipse cx="361.75" cy="456.19" rx="0.71" ry="1.05" fill="#277a25"/><ellipse cx="387.07" cy="423.83" rx="0.62" ry="1.22" fill="#216d1f"/><ellipse cx="390.64" cy="441.17" rx="0.71" ry="0.99" fill="#237221"/><ellipse cx="395.51" cy="444.11" rx="0.68" ry="1.14" fill="#1b621a"/><ellipse cx="395.41" cy="442.05" rx="0.67" ry="1.3" fill="#1a5f19"/><ellipse cx="362.38" cy="448.6" rx="0.69" ry="1.13" fill="#124412"/><ellipse cx="381.15" cy="458.07" rx="0.63" ry="1.18" fill="#237221"/><ellipse cx="355.27" cy="420.63" rx="0.62" ry="1.29" fill="#144d14"/><ellipse cx="376.01" cy="454.58" rx="0.48" ry="1.49" fill="#144c13"/><ellipse cx="356.1" cy="419.4" rx="0.44" ry="1.22" fill="#1a5e19"/><ellipse cx="364.3" cy="442.29" rx="0.47" ry="1.46" fill="#237221"/><ellipse cx="374.48" cy="424.61" rx="0.49" ry="1.03" fill="#359032"/><ellipse cx="359.09" cy="444.45" rx="0.67" ry="1.26" fill="#318a2e"/><ellipse cx="365.93" cy="419.75" rx="0.6" ry="1.22" fill="#267723"/><ellipse cx="381.41" cy="436.78" rx="0.66" ry="1.12" fill="#359032"/><ellipse cx="391.88" cy="421.03" rx="0.54" ry="1.11" fill="#216e1f"/><ellipse cx="357.57" cy="449.99" rx="0.59" ry="1.75" fill="#124111"/><ellipse cx="360.98" cy="427.16" rx="0.58" ry="1.48" fill="#247422"/><ellipse cx="388.22" cy="426.18" rx="0.51" ry="0.94" fill="#195b18"/><ellipse cx="391.31" cy="450.15" rx="0.4" ry="1.66" fill="#297d27"/><ellipse cx="385.45" cy="437.63" rx="0.56" ry="1.1" fill="#2a7f28"/><ellipse cx="359.47" cy="428.45" rx="0.52" ry="1.57" fill="#124412"/><ellipse cx="383.42" cy="452.61" rx="0.49" ry="1.4" fill="#297d26"/><ellipse cx="372.9" cy="450.36" rx="0.49" ry="1.48" fill="#206d1f"/><ellipse cx="394.38" cy="427.85" rx="0.41" ry="1.13" fill="#328b2f"/><ellipse cx="364.79" cy="448.61" rx="0.66" ry="1.19" fill="#369132"/><ellipse cx="390.93" cy="432.25" rx="0.72" ry="1.47" fill="#175516"/><ellipse cx="383.33" cy="445.51" rx="0.56" ry="1.66" fill="#389434"/><ellipse cx="383.52" cy="453.09" rx="0.65" ry="1.41" fill="#1d651c"/><ellipse cx="367.69" cy="427.65" rx="0.43" ry="1.72" fill="#257523"/><ellipse cx="361.07" cy="420.36" rx="0.73" ry="1.21" fill="#134913"/><ellipse cx="360.96" cy="420.43" rx="0.64" ry="1.47" fill="#124412"/><ellipse cx="383.5" cy="448.33" rx="0.61" ry="1.23" fill="#134612"/><ellipse cx="388.39" cy="451.59" rx="0.42" ry="1.68" fill="#328c2f"/><ellipse cx="392.32" cy="456.51" rx="0.47" ry="1" fill="#134913"/><ellipse cx="356.6" cy="452.7" rx="0.62" ry="1.64" fill="#2e852b"/><ellipse cx="380.84" cy="430.62" rx="0.43" ry="1.58" fill="#134913"/><ellipse cx="363.52" cy="431.87" rx="0.41" ry="1.13" fill="#1c641b"/><ellipse cx="366.67" cy="447.5" rx="0.51" ry="1.77" fill="#1b6019"/><ellipse cx="375.65" cy="452.84" rx="0.41" ry="1.27" fill="#247522"/><ellipse cx="372.92" cy="449.76" rx="0.65" ry="1.38" fill="#1a5e19"/><ellipse cx="363.99" cy="453.27" rx="0.69" ry="1.05" fill="#134813"/><ellipse cx="355.25" cy="427.26" rx="0.74" ry="0.9" fill="#2b8129"/><ellipse cx="375.13" cy="438.66" rx="0.46" ry="1.35" fill="#2d842a"/><ellipse cx="369.3" cy="452.07" rx="0.73" ry="1.16" fill="#175616"/><ellipse cx="363.92" cy="446.86" rx="0.44" ry="1.47" fill="#1f6b1e"/><ellipse cx="358.48" cy="450.34" rx="0.68" ry="1.47" fill="#287c26"/><ellipse cx="369.64" cy="435.11" rx="0.71" ry="0.98" fill="#1b621a"/><ellipse cx="391.27" cy="420.29" rx="0.49" ry="1.71" fill="#165215"/><ellipse cx="375.55" cy="434.24" rx="0.48" ry="1.31" fill="#328c2f"/><ellipse cx="376.78" cy="449.03" rx="0.63" ry="1.21" fill="#2b8028"/><ellipse cx="368.46" cy="425.42" rx="0.63" ry="1.57" fill="#30882d"/><ellipse cx="362.08" cy="436.59" rx="0.6" ry="1.01" fill="#2c8229"/><ellipse cx="373.96" cy="454.17" rx="0.47" ry="1.17" fill="#175516"/><ellipse cx="383.75" cy="452.54" rx="0.45" ry="1.12" fill="#144d14"/><ellipse cx="368.46" cy="439.87" rx="0.51" ry="1.07" fill="#154e14"/><ellipse cx="394.79" cy="448.01" rx="0.74" ry="0.99" fill="#134913"/><ellipse cx="370.8" cy="458.06" rx="0.66" ry="1.29" fill="#2d842a"/><ellipse cx="363.17" cy="444.44" rx="0.47" ry="1.25" fill="#134913"/><ellipse cx="356.58" cy="435.02" rx="0.64" ry="1.35" fill="#2d842a"/><ellipse cx="380.87" cy="437.55" rx="0.61" ry="1.26" fill="#144c14"/><ellipse cx="385.28" cy="455.08" rx="0.6" ry="1.57" fill="#1d651b"/><ellipse cx="372.3" cy="428.31" rx="0.71" ry="1.6" fill="#297e27"/><ellipse cx="383.62" cy="452.89" rx="0.62" ry="1.31" fill="#277a25"/><ellipse cx="367.91" cy="444.05" rx="0.55" ry="1.6" fill="#134913"/><ellipse cx="384.15" cy="444.11" rx="0.55" ry="1.31" fill="#175616"/><ellipse cx="380.44" cy="435.43" rx="0.73" ry="1.06" fill="#277a25"/><ellipse cx="381.77" cy="449.96" rx="0.57" ry="1.78" fill="#1b611a"/><ellipse cx="356.75" cy="440.71" rx="0.67" ry="1.75" fill="#154e14"/><ellipse cx="376.28" cy="423.28" rx="0.59" ry="1.55" fill="#227121"/><ellipse cx="375.99" cy="444.49" rx="0.58" ry="1.27" fill="#2f872c"/><ellipse cx="393.69" cy="427.58" rx="0.54" ry="1.59" fill="#277b25"/><ellipse cx="360.17" cy="458.09" rx="0.42" ry="1.15" fill="#1a5f19"/><ellipse cx="371.43" cy="419.82" rx="0.55" ry="1.53" fill="#1c641b"/><ellipse cx="369.5" cy="429.75" rx="0.66" ry="1.75" fill="#165315"/><ellipse cx="376.6" cy="427.93" rx="0.54" ry="1.09" fill="#2d842b"/><ellipse cx="360.45" cy="449.9" rx="0.62" ry="1.32" fill="#2e852b"/><ellipse cx="378.02" cy="428.2" rx="0.52" ry="1.47" fill="#379233"/><ellipse cx="388.44" cy="451.46" rx="0.5" ry="1.39" fill="#1e681d"/><ellipse cx="360.28" cy="452.15" rx="0.7" ry="1.14" fill="#1a5e19"/><ellipse cx="370.47" cy="429.29" rx="0.47" ry="0.9" fill="#1d651b"/><ellipse cx="384.5" cy="430.38" rx="0.51" ry="1.33" fill="#175516"/><ellipse cx="372.6" cy="444.41" rx="0.53" ry="1.74" fill="#267824"/><ellipse cx="389.89" cy="421.55" rx="0.72" ry="1.61" fill="#2f872c"/><ellipse cx="360.9" cy="452.05" rx="0.41" ry="0.91" fill="#257623"/><ellipse cx="393.84" cy="445.14" rx="0.44" ry="1.03" fill="#175616"/><ellipse cx="364.69" cy="449.89" rx="0.45" ry="1.71" fill="#1a5e19"/><ellipse cx="387.34" cy="425.92" rx="0.61" ry="1.6" fill="#328c2f"/><ellipse cx="382.34" cy="454.52" rx="0.69" ry="1.08" fill="#2d832a"/><ellipse cx="383.33" cy="440.21" rx="0.55" ry="1.69" fill="#2a7f28"/><ellipse cx="377.74" cy="429.72" rx="0.45" ry="1.34" fill="#165416"/><ellipse cx="357.57" cy="437.7" rx="0.57" ry="1.35" fill="#144d14"/><ellipse cx="377.11" cy="453.3" rx="0.69" ry="1.32" fill="#114111"/><ellipse cx="378.04" cy="445.51" rx="0.53" ry="1.28" fill="#2f882c"/><ellipse cx="394.2" cy="422.27" rx="0.62" ry="0.93" fill="#257623"/><ellipse cx="379.95" cy="446.19" rx="0.52" ry="1.78" fill="#359031"/><ellipse cx="375.93" cy="438.4" rx="0.41" ry="1.55" fill="#338d2f"/><ellipse cx="380.59" cy="432.64" rx="0.53" ry="1.33" fill="#318a2e"/><ellipse cx="376.54" cy="449.66" rx="0.55" ry="1.28" fill="#165215"/><ellipse cx="377.69" cy="451.87" rx="0.69" ry="1.26" fill="#185917"/><ellipse cx="375.65" cy="430" rx="0.74" ry="1.49" fill="#206b1e"/><ellipse cx="387.35" cy="432.34" rx="0.5" ry="1.43" fill="#195b18"/><ellipse cx="380.97" cy="450.2" rx="0.65" ry="1.7" fill="#124412"/><ellipse cx="377.34" cy="421.26" rx="0.4" ry="1.07" fill="#185a17"/><ellipse cx="392.61" cy="443.28" rx="0.68" ry="1.72" fill="#267824"/><ellipse cx="380.04" cy="443.6" rx="0.64" ry="1.44" fill="#257623"/><ellipse cx="382.85" cy="427.67" rx="0.56" ry="1.59" fill="#277924"/><ellipse cx="359.32" cy="426.44" rx="0.67" ry="1.72" fill="#124312"/><ellipse cx="381.82" cy="433.83" rx="0.68" ry="1.41" fill="#2f862c"/><ellipse cx="365.67" cy="431.2" rx="0.51" ry="1.29" fill="#1c641b"/><ellipse cx="381.26" cy="456.09" rx="0.6" ry="0.94" fill="#124512"/><ellipse cx="360.03" cy="451.23" rx="0.72" ry="1.3" fill="#227121"/><ellipse cx="355.77" cy="434.55" rx="0.73" ry="1.78" fill="#237321"/><ellipse cx="374.5" cy="435.55" rx="0.63" ry="1.09" fill="#134913"/><ellipse cx="361.36" cy="419.91" rx="0.64" ry="1.01" fill="#114111"/><ellipse cx="394.43" cy="422.77" rx="0.45" ry="0.92" fill="#318a2e"/><ellipse cx="384.41" cy="428.85" rx="0.47" ry="0.95" fill="#2a7f27"/><ellipse cx="386.63" cy="447.41" rx="0.66" ry="0.98" fill="#30892d"/><ellipse cx="380.72" cy="447.24" rx="0.73" ry="1.13" fill="#1e671c"/><ellipse cx="394.35" cy="447.56" rx="0.41" ry="1.49" fill="#124111"/><ellipse cx="388.38" cy="422.44" rx="0.66" ry="1.05" fill="#195b18"/><ellipse cx="390.16" cy="438.46" rx="0.53" ry="1.42" fill="#124512"/><ellipse cx="373.01" cy="445.97" rx="0.68" ry="1.23" fill="#144d14"/><ellipse cx="381.38" cy="444.11" rx="0.54" ry="1.61" fill="#1c641b"/><ellipse cx="393.56" cy="450.21" rx="0.5" ry="0.95" fill="#227120"/><ellipse cx="394.74" cy="447.01" rx="0.52" ry="1.45" fill="#2f872c"/><ellipse cx="394.88" cy="452.05" rx="0.51" ry="1.29" fill="#247322"/><ellipse cx="391.26" cy="434.14" rx="0.61" ry="1.71" fill="#277b25"/><ellipse cx="387.98" cy="430.46" rx="0.49" ry="1.28" fill="#114011"/><ellipse cx="379.02" cy="451.45" rx="0.41" ry="1.65" fill="#328c2f"/><ellipse cx="388.16" cy="453.47" rx="0.5" ry="1.67" fill="#227120"/><ellipse cx="387.97" cy="446.27" rx="0.52" ry="0.98" fill="#348e30"/><ellipse cx="377.68" cy="450.72" rx="0.66" ry="1.74" fill="#165115"/><ellipse cx="364.7" cy="443.21" rx="0.56" ry="1.09" fill="#277a25"/><ellipse cx="365.54" cy="448.89" rx="0.56" ry="0.98" fill="#2d842a"/><ellipse cx="387.95" cy="449.72" rx="0.6" ry="1.71" fill="#165416"/><ellipse cx="391.13" cy="439.86" rx="0.61" ry="1.07" fill="#1e691d"/><ellipse cx="363.01" cy="426.42" rx="0.53" ry="1.41" fill="#287c26"/><ellipse cx="371.54" cy="439.68" rx="0.42" ry="1.8" fill="#144d14"/></g>
<rect x="399" y="417.5" width="43" height="43" fill="#0a170b"/>
<g filter="url(#blur3)"><ellipse cx="415.39" cy="423.48" rx="0.68" ry="1.04" fill="#359031"/><ellipse cx="424.45" cy="432.89" rx="0.41" ry="0.93" fill="#2c832a"/><ellipse cx="440.41" cy="453.42" rx="0.6" ry="1.14" fill="#2a7f28"/><ellipse cx="431.84" cy="436.08" rx="0.67" ry="1.64" fill="#51b24b"/><ellipse cx="439.32" cy="429.31" rx="0.47" ry="1.06" fill="#144e14"/><ellipse cx="403.6" cy="421.31" rx="0.7" ry="1.31" fill="#2f872c"/><ellipse cx="438.66" cy="455.15" rx="0.61" ry="1.26" fill="#155015"/><ellipse cx="405.07" cy="457.1" rx="0.6" ry="1.48" fill="#1d661c"/><ellipse cx="439.03" cy="445.69" rx="0.56" ry="1.04" fill="#247522"/><ellipse cx="439.41" cy="458.37" rx="0.41" ry="1.13" fill="#1b621a"/><ellipse cx="414.49" cy="454.87" rx="0.69" ry="0.94" fill="#4dae47"/><ellipse cx="432.13" cy="447.26" rx="0.74" ry="0.95" fill="#369132"/><ellipse cx="406.08" cy="449.05" rx="0.64" ry="1.17" fill="#50b24a"/><ellipse cx="424.21" cy="449.16" rx="0.51" ry="1.13" fill="#175516"/><ellipse cx="405.24" cy="438.26" rx="0.48" ry="1.03" fill="#195c18"/><ellipse cx="427.71" cy="419.8" rx="0.47" ry="0.93" fill="#3c9938"/><ellipse cx="437.86" cy="427.99" rx="0.7" ry="1.7" fill="#50b14a"/><ellipse cx="405.87" cy="436.92" rx="0.73" ry="1.66" fill="#165416"/><ellipse cx="425.71" cy="437.12" rx="0.69" ry="1.33" fill="#216f20"/><ellipse cx="425.7" cy="424.93" rx="0.42" ry="1.54" fill="#1b621a"/><ellipse cx="422.67" cy="425" rx="0.49" ry="1.27" fill="#4aaa44"/><ellipse cx="406.52" cy="429.98" rx="0.52" ry="1.05" fill="#47a741"/><ellipse cx="420.13" cy="431.83" rx="0.44" ry="1.78" fill="#4dae47"/><ellipse cx="402.51" cy="454.56" rx="0.47" ry="1.33" fill="#389434"/><ellipse cx="411.82" cy="429.46" rx="0.53" ry="1.79" fill="#1b6019"/><ellipse cx="440.72" cy="455.75" rx="0.5" ry="1.71" fill="#165416"/><ellipse cx="402.53" cy="447.92" rx="0.74" ry="0.91" fill="#1f6a1d"/><ellipse cx="432.97" cy="432.73" rx="0.4" ry="1.65" fill="#185917"/><ellipse cx="421.58" cy="426.62" rx="0.72" ry="1.1" fill="#277a25"/><ellipse cx="423.4" cy="424.74" rx="0.67" ry="1.54" fill="#1a5d19"/><ellipse cx="408.19" cy="422.42" rx="0.61" ry="1.35" fill="#165315"/><ellipse cx="411.32" cy="427.42" rx="0.65" ry="1.63" fill="#338d30"/><ellipse cx="423.87" cy="427.27" rx="0.66" ry="1.27" fill="#155115"/><ellipse cx="429.5" cy="421.48" rx="0.52" ry="1.66" fill="#44a33f"/><ellipse cx="435.3" cy="438.72" rx="0.72" ry="1.33" fill="#144b13"/><ellipse cx="435.6" cy="429.79" rx="0.69" ry="1.23" fill="#1a5e19"/><ellipse cx="406.84" cy="433.92" rx="0.4" ry="1.37" fill="#328b2f"/><ellipse cx="418.3" cy="439.62" rx="0.65" ry="1.63" fill="#175716"/><ellipse cx="435.34" cy="431.95" rx="0.53" ry="1.58" fill="#3b9837"/><ellipse cx="402.69" cy="453.69" rx="0.57" ry="1.36" fill="#52b34c"/><ellipse cx="421.74" cy="440.47" rx="0.74" ry="1.1" fill="#144c13"/><ellipse cx="407.61" cy="423.35" rx="0.69" ry="0.93" fill="#1d651b"/><ellipse cx="404.12" cy="446.84" rx="0.41" ry="1.44" fill="#1a5f19"/><ellipse cx="423.61" cy="439.9" rx="0.44" ry="1.68" fill="#3a9736"/><ellipse cx="429.31" cy="421.08" rx="0.57" ry="1.35" fill="#175717"/><ellipse cx="411.55" cy="424.11" rx="0.45" ry="1.43" fill="#257623"/><ellipse cx="435.16" cy="425.1" rx="0.66" ry="1.05" fill="#30892d"/><ellipse cx="433.74" cy="456.24" rx="0.55" ry="1.66" fill="#247522"/><ellipse cx="421.54" cy="434.89" rx="0.67" ry="1.2" fill="#51b24b"/><ellipse cx="409.96" cy="432.5" rx="0.74" ry="1.62" fill="#277a25"/><ellipse cx="437.26" cy="451.41" rx="0.42" ry="1.37" fill="#47a742"/><ellipse cx="439.09" cy="456.11" rx="0.55" ry="1.47" fill="#1d651b"/><ellipse cx="415" cy="440.21" rx="0.55" ry="1.35" fill="#155115"/><ellipse cx="401.05" cy="424.79" rx="0.67" ry="1.74" fill="#53b54d"/><ellipse cx="425.91" cy="451.19" rx="0.71" ry="0.93" fill="#4bac45"/><ellipse cx="426.25" cy="429.77" rx="0.5" ry="1.39" fill="#389535"/><ellipse cx="437.73" cy="443.78" rx="0.58" ry="1.29" fill="#1d651b"/><ellipse cx="438.81" cy="430.63" rx="0.63" ry="1.01" fill="#206b1e"/><ellipse cx="424.33" cy="456.97" rx="0.49" ry="1.32" fill="#2c8229"/><ellipse cx="421.87" cy="425.15" rx="0.45" ry="1.16" fill="#175717"/><ellipse cx="416.71" cy="430.66" rx="0.43" ry="1.39" fill="#1c641b"/><ellipse cx="434.29" cy="443.33" rx="0.63" ry="1.08" fill="#30892d"/><ellipse cx="429.04" cy="437.46" rx="0.61" ry="1.32" fill="#2e862c"/><ellipse cx="412.81" cy="428.84" rx="0.58" ry="1.24" fill="#1b621a"/><ellipse cx="423.98" cy="419.77" rx="0.7" ry="1.11" fill="#227020"/><ellipse cx="422.8" cy="438.66" rx="0.75" ry="1.17" fill="#1e691d"/><ellipse cx="431.55" cy="425.55" rx="0.7" ry="1.3" fill="#155115"/><ellipse cx="402.72" cy="434.58" rx="0.66" ry="1" fill="#277a25"/><ellipse cx="409.34" cy="457.1" rx="0.45" ry="1.2" fill="#3d9b39"/><ellipse cx="414.51" cy="445.91" rx="0.7" ry="1.64" fill="#338e30"/><ellipse cx="421.22" cy="448.41" rx="0.67" ry="1.33" fill="#3e9c3a"/><ellipse cx="432.07" cy="447.22" rx="0.44" ry="1.68" fill="#4eaf48"/><ellipse cx="400.38" cy="449.47" rx="0.57" ry="1.77" fill="#318a2e"/><ellipse cx="423.42" cy="435.77" rx="0.71" ry="1.45" fill="#41a03d"/><ellipse cx="415.61" cy="437.12" rx="0.65" ry="1.16" fill="#287c26"/><ellipse cx="416.06" cy="441.18" rx="0.51" ry="1.61" fill="#247422"/><ellipse cx="434.69" cy="438.98" rx="0.46" ry="1.17" fill="#277b25"/><ellipse cx="406.09" cy="441.97" rx="0.43" ry="1.73" fill="#318a2e"/><ellipse cx="413.35" cy="452.53" rx="0.74" ry="1.08" fill="#46a641"/><ellipse cx="417.51" cy="455.18" rx="0.42" ry="1.41" fill="#144b13"/><ellipse cx="420.39" cy="455.56" rx="0.59" ry="1.8" fill="#409f3c"/><ellipse cx="421.21" cy="439.68" rx="0.54" ry="1.22" fill="#399535"/><ellipse cx="424.35" cy="433.13" rx="0.64" ry="1.37" fill="#51b34b"/><ellipse cx="404.22" cy="434.05" rx="0.6" ry="1.42" fill="#257623"/><ellipse cx="435.92" cy="457.3" rx="0.55" ry="1.46" fill="#2a7f28"/><ellipse cx="440.64" cy="432.83" rx="0.69" ry="1.05" fill="#2d842a"/><ellipse cx="413.11" cy="457.85" rx="0.58" ry="1" fill="#45a540"/><ellipse cx="436.52" cy="446.48" rx="0.75" ry="1.7" fill="#45a440"/><ellipse cx="417.29" cy="425.46" rx="0.58" ry="1.35" fill="#1f6a1d"/><ellipse cx="407.84" cy="426.49" rx="0.61" ry="1.22" fill="#358f31"/><ellipse cx="440.55" cy="444.38" rx="0.54" ry="1.61" fill="#154e14"/><ellipse cx="412.65" cy="446.51" rx="0.51" ry="1.66" fill="#134a13"/><ellipse cx="424" cy="445.62" rx="0.57" ry="1.4" fill="#1a5f19"/><ellipse cx="411" cy="444.78" rx="0.75" ry="1.42" fill="#2d842a"/><ellipse cx="416.89" cy="424.09" rx="0.67" ry="1" fill="#195b18"/><ellipse cx="404.26" cy="426.02" rx="0.69" ry="1.45" fill="#2d832a"/><ellipse cx="432.95" cy="421.75" rx="0.67" ry="1.19" fill="#144b13"/><ellipse cx="429.25" cy="433.24" rx="0.49" ry="0.99" fill="#195c18"/><ellipse cx="436.9" cy="442.24" rx="0.56" ry="1.25" fill="#227020"/><ellipse cx="402.42" cy="454.39" rx="0.74" ry="1.3" fill="#318a2e"/><ellipse cx="425.38" cy="429.12" rx="0.73" ry="1.67" fill="#154e14"/><ellipse cx="412.98" cy="454.72" rx="0.51" ry="1.44" fill="#44a43f"/><ellipse cx="439.18" cy="438.82" rx="0.49" ry="1.25" fill="#51b34b"/><ellipse cx="429.37" cy="428.02" rx="0.71" ry="1.34" fill="#206c1e"/><ellipse cx="432.39" cy="428.89" rx="0.53" ry="1.07" fill="#195d18"/><ellipse cx="439.64" cy="430.75" rx="0.44" ry="1.38" fill="#2f882c"/><ellipse cx="415.86" cy="435.19" rx="0.44" ry="1.64" fill="#155115"/><ellipse cx="414.46" cy="428.95" rx="0.5" ry="1.11" fill="#1a5f19"/><ellipse cx="401.62" cy="445.47" rx="0.45" ry="1.54" fill="#216f20"/><ellipse cx="403.96" cy="429.92" rx="0.44" ry="1.3" fill="#46a641"/><ellipse cx="434.15" cy="451.01" rx="0.52" ry="1.55" fill="#195b18"/><ellipse cx="415.5" cy="457.06" rx="0.73" ry="1.35" fill="#1b601a"/><ellipse cx="409.43" cy="437.14" rx="0.65" ry="1.13" fill="#185817"/><ellipse cx="436.72" cy="442.45" rx="0.49" ry="1.45" fill="#237221"/><ellipse cx="408.83" cy="453.67" rx="0.58" ry="1.39" fill="#175717"/><ellipse cx="411.18" cy="449.71" rx="0.63" ry="1.41" fill="#247422"/><ellipse cx="412.82" cy="434.66" rx="0.46" ry="1.67" fill="#165315"/><ellipse cx="413.23" cy="445.41" rx="0.6" ry="1.23" fill="#175516"/><ellipse cx="420.51" cy="431" rx="0.51" ry="1.1" fill="#155115"/><ellipse cx="405.32" cy="447.54" rx="0.54" ry="1.72" fill="#1e691d"/><ellipse cx="431.66" cy="454.08" rx="0.45" ry="1.15" fill="#49a943"/><ellipse cx="401.4" cy="446.08" rx="0.52" ry="1.27" fill="#379333"/><ellipse cx="426.96" cy="446.85" rx="0.7" ry="1.22" fill="#1d651b"/><ellipse cx="425.73" cy="426.46" rx="0.72" ry="1.56" fill="#175616"/><ellipse cx="429.13" cy="420.89" rx="0.46" ry="1.08" fill="#154e14"/><ellipse cx="412.5" cy="434.3" rx="0.51" ry="1.47" fill="#144e14"/><ellipse cx="407.49" cy="452.37" rx="0.65" ry="1.13" fill="#30892d"/><ellipse cx="417.86" cy="446.26" rx="0.4" ry="1.65" fill="#227020"/><ellipse cx="431.72" cy="430.58" rx="0.7" ry="1.45" fill="#154e14"/><ellipse cx="402.12" cy="428.93" rx="0.68" ry="1.09" fill="#175616"/><ellipse cx="437.33" cy="448.83" rx="0.64" ry="1.25" fill="#165315"/><ellipse cx="430.55" cy="451.95" rx="0.43" ry="1.75" fill="#1e691d"/><ellipse cx="417.41" cy="455.95" rx="0.66" ry="1.65" fill="#399636"/><ellipse cx="425.7" cy="437.14" rx="0.64" ry="1.29" fill="#154f14"/><ellipse cx="420.98" cy="455.87" rx="0.67" ry="0.94" fill="#185817"/><ellipse cx="428.73" cy="451.05" rx="0.59" ry="1.77" fill="#1d661c"/><ellipse cx="426.08" cy="440.73" rx="0.42" ry="1.22" fill="#1d651b"/><ellipse cx="416.91" cy="427.24" rx="0.45" ry="1.54" fill="#206c1e"/><ellipse cx="427.42" cy="428.67" rx="0.58" ry="1.3" fill="#1c641b"/><ellipse cx="438.2" cy="433.15" rx="0.71" ry="1.03" fill="#1f6b1e"/><ellipse cx="423.07" cy="432.44" rx="0.59" ry="1.58" fill="#44a43f"/><ellipse cx="407.07" cy="445.56" rx="0.56" ry="1.59" fill="#328c2f"/><ellipse cx="433.95" cy="423.81" rx="0.53" ry="1.09" fill="#1f691d"/><ellipse cx="402.65" cy="430.37" rx="0.65" ry="1.3" fill="#1a5f19"/><ellipse cx="404.79" cy="432.08" rx="0.53" ry="1.05" fill="#297d27"/><ellipse cx="403.12" cy="419.73" rx="0.66" ry="0.98" fill="#56b74f"/><ellipse cx="429.32" cy="457.92" rx="0.44" ry="1.34" fill="#30882d"/><ellipse cx="417.83" cy="426.78" rx="0.4" ry="1.73" fill="#2e862b"/><ellipse cx="426.37" cy="444.03" rx="0.63" ry="1.13" fill="#50b14a"/><ellipse cx="410.19" cy="424.76" rx="0.67" ry="1.66" fill="#144c14"/><ellipse cx="412.23" cy="426.62" rx="0.7" ry="1.73" fill="#359032"/><ellipse cx="407.04" cy="450.21" rx="0.66" ry="1.19" fill="#46a641"/><ellipse cx="407.69" cy="451.82" rx="0.53" ry="1.4" fill="#206d1f"/><ellipse cx="415.19" cy="452.06" rx="0.41" ry="1.41" fill="#1c641b"/><ellipse cx="425.71" cy="451.6" rx="0.72" ry="1.75" fill="#3b9837"/><ellipse cx="420.27" cy="438.98" rx="0.5" ry="1.42" fill="#195b18"/><ellipse cx="403.46" cy="446.41" rx="0.56" ry="1.77" fill="#195c18"/><ellipse cx="403.84" cy="420.87" rx="0.47" ry="1.55" fill="#277a25"/><ellipse cx="400.31" cy="452.43" rx="0.68" ry="1.28" fill="#48a843"/><ellipse cx="411.7" cy="445.37" rx="0.55" ry="1.2" fill="#2c8229"/><ellipse cx="418.01" cy="445.54" rx="0.72" ry="1.05" fill="#45a540"/><ellipse cx="412.21" cy="436.76" rx="0.52" ry="1.08" fill="#30882d"/><ellipse cx="403.65" cy="432.05" rx="0.74" ry="1.72" fill="#297c26"/><ellipse cx="435.34" cy="457.69" rx="0.62" ry="1.63" fill="#53b44c"/><ellipse cx="402.64" cy="445.95" rx="0.5" ry="1.41" fill="#338d30"/><ellipse cx="438.88" cy="438.24" rx="0.5" ry="1.21" fill="#369132"/><ellipse cx="436.14" cy="420.4" rx="0.64" ry="1.3" fill="#1a5e19"/><ellipse cx="403.66" cy="445.32" rx="0.6" ry="1.27" fill="#237321"/><ellipse cx="421.72" cy="441.55" rx="0.44" ry="1.06" fill="#257523"/><ellipse cx="436.33" cy="440.9" rx="0.7" ry="1.13" fill="#175616"/><ellipse cx="404.06" cy="440.21" rx="0.57" ry="1.4" fill="#1d651c"/><ellipse cx="409.4" cy="441.86" rx="0.58" ry="1.43" fill="#175616"/><ellipse cx="403.46" cy="435.38" rx="0.55" ry="1.68" fill="#165215"/><ellipse cx="422.55" cy="447.46" rx="0.44" ry="1.79" fill="#3f9d3b"/><ellipse cx="429.5" cy="423.32" rx="0.54" ry="1.05" fill="#46a641"/><ellipse cx="439.18" cy="441.48" rx="0.45" ry="1.6" fill="#419f3c"/><ellipse cx="402.54" cy="428.63" rx="0.41" ry="1.43" fill="#237321"/><ellipse cx="408.85" cy="431.12" rx="0.55" ry="1.7" fill="#3b9837"/><ellipse cx="425.42" cy="453.66" rx="0.72" ry="1.68" fill="#30882d"/><ellipse cx="407.02" cy="448.67" rx="0.67" ry="1.51" fill="#216f20"/><ellipse cx="433.72" cy="424.14" rx="0.66" ry="1.75" fill="#237321"/><ellipse cx="429.5" cy="421.01" rx="0.43" ry="1.39" fill="#338c2f"/><ellipse cx="432.8" cy="423.75" rx="0.64" ry="1.13" fill="#4fb049"/><ellipse cx="408.04" cy="436.9" rx="0.6" ry="1" fill="#46a641"/><ellipse cx="401.05" cy="423.65" rx="0.46" ry="1.4" fill="#43a23e"/><ellipse cx="411.98" cy="446.37" rx="0.45" ry="1.69" fill="#247422"/><ellipse cx="422.06" cy="446.47" rx="0.73" ry="0.91" fill="#44a33f"/><ellipse cx="414.1" cy="425.25" rx="0.71" ry="1.62" fill="#2b8129"/><ellipse cx="401.64" cy="426.48" rx="0.64" ry="1.25" fill="#45a440"/><ellipse cx="419.52" cy="425.54" rx="0.54" ry="1.69" fill="#47a742"/><ellipse cx="425" cy="422.29" rx="0.48" ry="1.7" fill="#216e1f"/><ellipse cx="424.12" cy="421.02" rx="0.53" ry="1.32" fill="#195c18"/><ellipse cx="423.63" cy="434.58" rx="0.4" ry="1.42" fill="#227120"/><ellipse cx="413.75" cy="420.11" rx="0.75" ry="0.94" fill="#287c26"/><ellipse cx="406.12" cy="445.74" rx="0.5" ry="1.35" fill="#1e681c"/><ellipse cx="410.84" cy="441.72" rx="0.73" ry="1.79" fill="#2d842a"/><ellipse cx="401.58" cy="441.39" rx="0.71" ry="1.6" fill="#409f3c"/><ellipse cx="425.9" cy="444.3" rx="0.5" ry="1.62" fill="#237221"/><ellipse cx="435.64" cy="456.28" rx="0.51" ry="1.59" fill="#399535"/><ellipse cx="430.23" cy="439.35" rx="0.52" ry="1.4" fill="#359031"/><ellipse cx="416.68" cy="421.68" rx="0.51" ry="1.79" fill="#216f20"/><ellipse cx="419.75" cy="433.77" rx="0.48" ry="1.21" fill="#1c641b"/><ellipse cx="405.71" cy="419.58" rx="0.56" ry="1.3" fill="#4aaa44"/><ellipse cx="423.29" cy="431.21" rx="0.42" ry="1.17" fill="#195c18"/><ellipse cx="412.72" cy="447.93" rx="0.73" ry="1.21" fill="#2f872c"/><ellipse cx="437.6" cy="442.28" rx="0.46" ry="1.42" fill="#165215"/><ellipse cx="440.29" cy="433.36" rx="0.55" ry="1.68" fill="#419f3c"/><ellipse cx="402.95" cy="438.39" rx="0.5" ry="1.13" fill="#4cad47"/><ellipse cx="401.14" cy="425.78" rx="0.65" ry="1.1" fill="#1e671c"/><ellipse cx="416.42" cy="427.19" rx="0.7" ry="1.48" fill="#328c2f"/><ellipse cx="408.19" cy="448.22" rx="0.61" ry="0.97" fill="#53b44d"/><ellipse cx="433.06" cy="453.8" rx="0.45" ry="1.07" fill="#216f20"/><ellipse cx="422" cy="453.79" rx="0.72" ry="1.09" fill="#359032"/><ellipse cx="413.47" cy="448.82" rx="0.54" ry="1.51" fill="#369132"/><ellipse cx="413.91" cy="421.56" rx="0.42" ry="1.46" fill="#267724"/><ellipse cx="413.78" cy="438.78" rx="0.49" ry="1.32" fill="#328c2f"/><ellipse cx="400.75" cy="455.76" rx="0.75" ry="0.95" fill="#30882d"/><ellipse cx="425.13" cy="447.83" rx="0.43" ry="1.04" fill="#216e1f"/><ellipse cx="405.99" cy="449.53" rx="0.68" ry="1.28" fill="#165315"/><ellipse cx="422.07" cy="442.49" rx="0.63" ry="1.44" fill="#2f872c"/><ellipse cx="413.63" cy="448.5" rx="0.65" ry="1.59" fill="#1d661c"/><ellipse cx="431.71" cy="431.48" rx="0.74" ry="1.31" fill="#409f3c"/><ellipse cx="411.5" cy="439.92" rx="0.45" ry="0.91" fill="#50b24a"/><ellipse cx="419.52" cy="445.12" rx="0.53" ry="1.79" fill="#419f3c"/><ellipse cx="409.46" cy="449.11" rx="0.41" ry="1.02" fill="#165315"/><ellipse cx="402.64" cy="439.07" rx="0.46" ry="1.75" fill="#2f872c"/><ellipse cx="415.04" cy="425.18" rx="0.66" ry="1.73" fill="#1a5d19"/><ellipse cx="406.78" cy="420.44" rx="0.48" ry="1.78" fill="#41a03c"/><ellipse cx="420.46" cy="444.36" rx="0.68" ry="1.31" fill="#227020"/><ellipse cx="413.35" cy="454.9" rx="0.66" ry="0.96" fill="#175516"/><ellipse cx="426.41" cy="435.13" rx="0.42" ry="1.41" fill="#49a944"/><ellipse cx="416.84" cy="455.51" rx="0.62" ry="1.1" fill="#51b24b"/><ellipse cx="410.43" cy="429.64" rx="0.48" ry="1.08" fill="#277a25"/><ellipse cx="431.02" cy="444.62" rx="0.75" ry="1.09" fill="#1f6a1e"/><ellipse cx="423.32" cy="425.47" rx="0.7" ry="1.14" fill="#49a943"/><ellipse cx="430.71" cy="451.72" rx="0.52" ry="1.34" fill="#1e691d"/><ellipse cx="436.37" cy="425.67" rx="0.61" ry="1.31" fill="#399535"/><ellipse cx="423.72" cy="454.08" rx="0.71" ry="1.22" fill="#1b611a"/><ellipse cx="431.86" cy="453.32" rx="0.7" ry="1.8" fill="#1a5e19"/><ellipse cx="412.28" cy="420.26" rx="0.74" ry="0.91" fill="#175616"/><ellipse cx="437.21" cy="425.24" rx="0.43" ry="1.05" fill="#3d9b39"/><ellipse cx="427.92" cy="422.86" rx="0.72" ry="1.54" fill="#216f20"/><ellipse cx="436.01" cy="457.9" rx="0.48" ry="1.61" fill="#144d14"/><ellipse cx="428.19" cy="420.79" rx="0.48" ry="1.29" fill="#2b8129"/><ellipse cx="404.46" cy="420.09" rx="0.51" ry="1.69" fill="#56b74f"/><ellipse cx="405.09" cy="438.5" rx="0.55" ry="1.06" fill="#185817"/><ellipse cx="428.03" cy="425.13" rx="0.58" ry="1" fill="#3d9b39"/><ellipse cx="414.56" cy="438.85" rx="0.52" ry="1.09" fill="#4eaf48"/><ellipse cx="439.48" cy="454.1" rx="0.5" ry="1.06" fill="#3d9b39"/><ellipse cx="410.94" cy="422.02" rx="0.58" ry="1.27" fill="#154e14"/></g>
<rect x="219" y="462.5" width="43" height="43" fill="#0a0c0a"/>
<rect x="264" y="462.5" width="43" height="43" fill="#0a120b"/>
<g filter="url(#blur3)"><ellipse cx="287.8" cy="478.59" rx="0.64" ry="1.49" fill="#0f250f"/><ellipse cx="287.29" cy="485.92" rx="0.74" ry="1.69" fill="#0f290f"/><ellipse cx="294.34" cy="480.03" rx="0.55" ry="1.78" fill="#0f270f"/><ellipse cx="280.92" cy="479.49" rx="0.45" ry="1.8" fill="#0f270f"/><ellipse cx="265.41" cy="488.25" rx="0.49" ry="1.45" fill="#0f2b0f"/><ellipse cx="280.5" cy="473.79" rx="0.44" ry="1.66" fill="#0f260f"/><ellipse cx="297.03" cy="500.1" rx="0.64" ry="1.19" fill="#0f250f"/><ellipse cx="291.44" cy="485.93" rx="0.74" ry="0.9" fill="#0f270f"/><ellipse cx="295.5" cy="497.93" rx="0.61" ry="1.8" fill="#0f280f"/><ellipse cx="274.72" cy="489.1" rx="0.53" ry="1.54" fill="#0f2a0f"/><ellipse cx="281.18" cy="485.03" rx="0.64" ry="1.19" fill="#0f290f"/><ellipse cx="290.73" cy="485.7" rx="0.61" ry="1.14" fill="#0f260f"/><ellipse cx="302.1" cy="482.95" rx="0.58" ry="1.33" fill="#0f290f"/><ellipse cx="274.18" cy="469.9" rx="0.59" ry="1.37" fill="#0f2b0f"/><ellipse cx="286.62" cy="496.35" rx="0.46" ry="1.64" fill="#0f260f"/><ellipse cx="283.89" cy="489.54" rx="0.71" ry="1.68" fill="#0f2a0f"/><ellipse cx="266.96" cy="479.32" rx="0.69" ry="1.01" fill="#0f2a0f"/><ellipse cx="271.45" cy="474.21" rx="0.52" ry="1.62" fill="#0f250f"/></g>
<rect x="309" y="462.5" width="43" height="43" fill="#09140a"/>
<g filter="url(#blur3)"><ellipse cx="331.37" cy="482.14" rx="0.54" ry="1.8" fill="#103b10"/><ellipse cx="338.42" cy="482" rx="0.68" ry="1.58" fill="#155015"/><ellipse cx="316.29" cy="491.1" rx="0.58" ry="1.11" fill="#144a13"/><ellipse cx="325.25" cy="477.7" rx="0.41" ry="1.08" fill="#144b13"/><ellipse cx="333.36" cy="466.57" rx="0.65" ry="1.15" fill="#114011"/><ellipse cx="323.35" cy="473.83" rx="0.43" ry="1.47" fill="#1c641b"/><ellipse cx="345.07" cy="472.25" rx="0.68" ry="1.46" fill="#144d14"/><ellipse cx="325.29" cy="466.03" rx="0.53" ry="1.54" fill="#154e14"/><ellipse cx="322.19" cy="480.37" rx="0.68" ry="1.22" fill="#185a17"/><ellipse cx="325.85" cy="487.1" rx="0.47" ry="1.77" fill="#1f691d"/><ellipse cx="339.1" cy="478.97" rx="0.52" ry="0.96" fill="#195b18"/><ellipse cx="340.9" cy="479.25" rx="0.57" ry="1.71" fill="#165315"/><ellipse cx="340.94" cy="465.31" rx="0.56" ry="1.32" fill="#175716"/><ellipse cx="344.29" cy="480.65" rx="0.71" ry="1.3" fill="#155015"/><ellipse cx="330.15" cy="484.46" rx="0.63" ry="1.57" fill="#1c641b"/><ellipse cx="326.51" cy="465.9" rx="0.59" ry="1.59" fill="#195c18"/><ellipse cx="341.46" cy="468.95" rx="0.43" ry="1.64" fill="#124211"/><ellipse cx="314.33" cy="467.78" rx="0.6" ry="0.95" fill="#1b6019"/><ellipse cx="337.85" cy="492.32" rx="0.42" ry="1.52" fill="#155115"/><ellipse cx="327.17" cy="487.31" rx="0.69" ry="1.68" fill="#206d1f"/><ellipse cx="316.11" cy="477.47" rx="0.4" ry="1.79" fill="#165315"/><ellipse cx="321.35" cy="474.64" rx="0.49" ry="1.67" fill="#134712"/><ellipse cx="332.76" cy="484.43" rx="0.42" ry="1.17" fill="#144d14"/><ellipse cx="345.39" cy="495.9" rx="0.49" ry="1.08" fill="#1d651c"/><ellipse cx="312.32" cy="485.45" rx="0.56" ry="1.34" fill="#144b13"/><ellipse cx="333.9" cy="478.71" rx="0.47" ry="1.73" fill="#1c621a"/><ellipse cx="332.78" cy="466.32" rx="0.59" ry="1.27" fill="#134712"/><ellipse cx="333.14" cy="477.05" rx="0.68" ry="1.16" fill="#124512"/><ellipse cx="339.05" cy="495.92" rx="0.56" ry="1.74" fill="#175716"/><ellipse cx="328.26" cy="498.9" rx="0.55" ry="1.48" fill="#103910"/><ellipse cx="312.19" cy="498.29" rx="0.61" ry="1.06" fill="#103a10"/><ellipse cx="347.65" cy="486.41" rx="0.57" ry="1.51" fill="#1c621a"/><ellipse cx="337.6" cy="475.92" rx="0.69" ry="1.03" fill="#124211"/><ellipse cx="347.47" cy="472.45" rx="0.43" ry="1.61" fill="#113c10"/><ellipse cx="348.81" cy="480.64" rx="0.49" ry="1.72" fill="#195a18"/><ellipse cx="338.05" cy="470.4" rx="0.64" ry="0.94" fill="#103910"/><ellipse cx="344.15" cy="475.87" rx="0.6" ry="1.19" fill="#124312"/><ellipse cx="332.96" cy="470.37" rx="0.51" ry="1.66" fill="#1e691d"/><ellipse cx="316.37" cy="495.8" rx="0.54" ry="0.93" fill="#206c1e"/><ellipse cx="325.63" cy="489.55" rx="0.59" ry="0.98" fill="#124211"/><ellipse cx="329.06" cy="492.99" rx="0.64" ry="1" fill="#154e14"/><ellipse cx="343.84" cy="469.11" rx="0.75" ry="1.75" fill="#1f691d"/><ellipse cx="331.57" cy="475.76" rx="0.66" ry="1.35" fill="#134913"/><ellipse cx="347.95" cy="467.96" rx="0.7" ry="1.44" fill="#155115"/><ellipse cx="332.15" cy="467.78" rx="0.49" ry="1.7" fill="#113e11"/><ellipse cx="344.52" cy="473.25" rx="0.41" ry="1.44" fill="#1f691d"/><ellipse cx="349.47" cy="477.87" rx="0.63" ry="0.95" fill="#1f6a1e"/><ellipse cx="323.73" cy="482.02" rx="0.66" ry="1.06" fill="#124412"/><ellipse cx="342.18" cy="476.05" rx="0.6" ry="0.99" fill="#103a10"/><ellipse cx="332.59" cy="495.35" rx="0.56" ry="0.93" fill="#175717"/><ellipse cx="331.04" cy="468.13" rx="0.45" ry="1.42" fill="#185a17"/><ellipse cx="324.53" cy="479.06" rx="0.46" ry="1.05" fill="#195b18"/><ellipse cx="348.43" cy="477.37" rx="0.71" ry="1.33" fill="#1d651b"/><ellipse cx="316.25" cy="468" rx="0.44" ry="1.35" fill="#1d671c"/><ellipse cx="331.96" cy="468.93" rx="0.46" ry="1.38" fill="#155015"/><ellipse cx="330.78" cy="478.76" rx="0.54" ry="1.08" fill="#114111"/><ellipse cx="315.36" cy="473.75" rx="0.58" ry="1.7" fill="#1d661c"/><ellipse cx="310.81" cy="501.47" rx="0.68" ry="1.41" fill="#155115"/><ellipse cx="338.17" cy="473.33" rx="0.45" ry="1.14" fill="#1a6019"/><ellipse cx="311.46" cy="479.79" rx="0.5" ry="1.7" fill="#165315"/><ellipse cx="313.62" cy="487.09" rx="0.61" ry="1.61" fill="#124312"/><ellipse cx="339.06" cy="466.75" rx="0.61" ry="1.78" fill="#124412"/><ellipse cx="311.87" cy="488.66" rx="0.69" ry="1.21" fill="#195c18"/><ellipse cx="343.11" cy="482.49" rx="0.4" ry="1.75" fill="#1e691d"/><ellipse cx="326.93" cy="480.34" rx="0.49" ry="1.56" fill="#103b10"/><ellipse cx="337.76" cy="470.26" rx="0.45" ry="1.08" fill="#134913"/><ellipse cx="319.12" cy="477.34" rx="0.75" ry="1.61" fill="#206c1e"/><ellipse cx="329.68" cy="483.89" rx="0.72" ry="1.58" fill="#1b611a"/><ellipse cx="336.04" cy="472.14" rx="0.7" ry="1.61" fill="#185917"/><ellipse cx="313.95" cy="492.57" rx="0.46" ry="1.77" fill="#134913"/><ellipse cx="337.51" cy="493.67" rx="0.69" ry="1.74" fill="#113d11"/><ellipse cx="346.93" cy="493.65" rx="0.68" ry="1.43" fill="#1c641b"/><ellipse cx="327.87" cy="496.81" rx="0.7" ry="1.17" fill="#1b611a"/><ellipse cx="349.21" cy="485.25" rx="0.44" ry="1.77" fill="#1f6a1e"/><ellipse cx="342.17" cy="474.23" rx="0.48" ry="1.08" fill="#1c641b"/><ellipse cx="328.79" cy="473.62" rx="0.72" ry="1.52" fill="#165115"/><ellipse cx="339.04" cy="479.75" rx="0.68" ry="1.51" fill="#1b611a"/><ellipse cx="348.43" cy="496.84" rx="0.43" ry="1.49" fill="#144c14"/><ellipse cx="344.15" cy="477.68" rx="0.69" ry="1.61" fill="#175717"/><ellipse cx="310.38" cy="483.57" rx="0.44" ry="1.63" fill="#103710"/><ellipse cx="327.2" cy="488.13" rx="0.52" ry="1.09" fill="#154f14"/><ellipse cx="324.56" cy="497.57" rx="0.5" ry="0.98" fill="#185817"/><ellipse cx="321.2" cy="491.93" rx="0.63" ry="1.63" fill="#154e14"/><ellipse cx="315.1" cy="491.21" rx="0.69" ry="1.07" fill="#103810"/><ellipse cx="321.22" cy="502.03" rx="0.48" ry="1.7" fill="#144a13"/><ellipse cx="334.98" cy="499.52" rx="0.57" ry="1.76" fill="#144c13"/><ellipse cx="330.77" cy="503.25" rx="0.69" ry="1.05" fill="#114011"/><ellipse cx="331.6" cy="464.31" rx="0.73" ry="1.31" fill="#114011"/><ellipse cx="343.06" cy="474.18" rx="0.44" ry="1.4" fill="#134913"/><ellipse cx="345.21" cy="484.55" rx="0.73" ry="1.7" fill="#144b13"/><ellipse cx="337.25" cy="467.29" rx="0.56" ry="1.76" fill="#185917"/><ellipse cx="324.89" cy="490.35" rx="0.53" ry="1.37" fill="#185917"/><ellipse cx="337.67" cy="500.04" rx="0.53" ry="1.78" fill="#165215"/><ellipse cx="312.51" cy="497.19" rx="0.6" ry="1.3" fill="#195c18"/><ellipse cx="340.69" cy="499.41" rx="0.66" ry="0.93" fill="#1a5e19"/><ellipse cx="323.4" cy="469.7" rx="0.71" ry="1.03" fill="#1f6b1e"/><ellipse cx="334.05" cy="487.02" rx="0.54" ry="1.57" fill="#103910"/><ellipse cx="336.24" cy="475.37" rx="0.5" ry="1.39" fill="#1b601a"/><ellipse cx="327.28" cy="502.84" rx="0.68" ry="1.51" fill="#185a17"/><ellipse cx="325.65" cy="502.24" rx="0.64" ry="1.15" fill="#1a5d19"/><ellipse cx="316.77" cy="486.96" rx="0.68" ry="1.21" fill="#1c641b"/><ellipse cx="315.88" cy="484.63" rx="0.46" ry="1.56" fill="#1d671c"/><ellipse cx="317.13" cy="476.59" rx="0.5" ry="1.24" fill="#103910"/><ellipse cx="349.46" cy="502.21" rx="0.51" ry="1.75" fill="#114011"/><ellipse cx="318.21" cy="476.94" rx="0.44" ry="1.13" fill="#154e14"/><ellipse cx="326.2" cy="479.49" rx="0.49" ry="1.08" fill="#206b1e"/><ellipse cx="347.1" cy="482.04" rx="0.62" ry="1.6" fill="#1c641b"/><ellipse cx="322.98" cy="470.29" rx="0.56" ry="1.4" fill="#1b601a"/><ellipse cx="337.43" cy="493.95" rx="0.53" ry="1.73" fill="#124512"/><ellipse cx="331.69" cy="475.66" rx="0.49" ry="1.59" fill="#185917"/><ellipse cx="311.88" cy="496.87" rx="0.52" ry="1.75" fill="#175516"/><ellipse cx="320.98" cy="473.89" rx="0.59" ry="1.58" fill="#103a10"/><ellipse cx="337.73" cy="480.56" rx="0.44" ry="1.18" fill="#1c631b"/><ellipse cx="336.38" cy="502.41" rx="0.64" ry="1.6" fill="#185917"/><ellipse cx="326.22" cy="501.35" rx="0.52" ry="1.25" fill="#1a5f19"/><ellipse cx="342.91" cy="478.08" rx="0.71" ry="1.38" fill="#114011"/><ellipse cx="331.36" cy="490.67" rx="0.45" ry="1.2" fill="#1e681d"/><ellipse cx="312.88" cy="480.58" rx="0.7" ry="1.5" fill="#165215"/><ellipse cx="333.66" cy="480.21" rx="0.5" ry="1.66" fill="#175616"/><ellipse cx="342.21" cy="497.33" rx="0.64" ry="1.58" fill="#113e11"/><ellipse cx="330.52" cy="499.69" rx="0.66" ry="1.64" fill="#1e681d"/><ellipse cx="336.54" cy="498.92" rx="0.65" ry="1.53" fill="#113d11"/><ellipse cx="335.06" cy="475.14" rx="0.61" ry="1.64" fill="#103a10"/><ellipse cx="321.28" cy="472.7" rx="0.43" ry="1.51" fill="#124211"/><ellipse cx="349.78" cy="495.9" rx="0.64" ry="0.96" fill="#134a13"/><ellipse cx="344.25" cy="477.11" rx="0.62" ry="1.02" fill="#103610"/><ellipse cx="321.37" cy="466.63" rx="0.59" ry="1.63" fill="#154f14"/><ellipse cx="311.81" cy="496.9" rx="0.48" ry="1.47" fill="#113c10"/><ellipse cx="324.01" cy="477.34" rx="0.48" ry="1.61" fill="#175516"/><ellipse cx="318.68" cy="497.37" rx="0.59" ry="0.93" fill="#1c631b"/><ellipse cx="341.79" cy="465.42" rx="0.55" ry="0.96" fill="#165215"/><ellipse cx="335.78" cy="492.85" rx="0.54" ry="1.36" fill="#175616"/><ellipse cx="334.1" cy="473.22" rx="0.75" ry="1.62" fill="#1d661c"/><ellipse cx="349.23" cy="477.28" rx="0.42" ry="1.33" fill="#206d1f"/><ellipse cx="315.63" cy="482.19" rx="0.65" ry="1.31" fill="#195c18"/><ellipse cx="324.07" cy="471.78" rx="0.5" ry="1.07" fill="#144c14"/><ellipse cx="340.08" cy="484.64" rx="0.47" ry="1.53" fill="#154e14"/><ellipse cx="318.19" cy="474.76" rx="0.65" ry="1.78" fill="#175516"/><ellipse cx="340.55" cy="501.66" rx="0.65" ry="1.55" fill="#1e691d"/><ellipse cx="312.75" cy="472.4" rx="0.7" ry="1.55" fill="#103710"/></g>
<rect x="354" y="462.5" width="43" height="43" fill="#0a160b"/>
<g filter="url(#blur3)"><ellipse cx="380.79" cy="474.69" rx="0.46" ry="1.47" fill="#1c641b"/><ellipse cx="395.45" cy="476.35" rx="0.46" ry="1.22" fill="#134712"/><ellipse cx="391.7" cy="496" rx="0.44" ry="1" fill="#206d1f"/><ellipse cx="361.45" cy="494.93" rx="0.75" ry="1.72" fill="#216e1f"/><ellipse cx="387.47" cy="483.06" rx="0.44" ry="1" fill="#348f31"/><ellipse cx="378.07" cy="484.31" rx="0.49" ry="0.92" fill="#175616"/><ellipse cx="392.1" cy="492.28" rx="0.74" ry="1.29" fill="#3d9a38"/><ellipse cx="384.94" cy="479.44" rx="0.69" ry="1.02" fill="#348e30"/><ellipse cx="355.72" cy="472.73" rx="0.53" ry="0.91" fill="#277924"/><ellipse cx="388.91" cy="495.27" rx="0.42" ry="1.7" fill="#216e1f"/><ellipse cx="376.89" cy="467.1" rx="0.62" ry="1.7" fill="#1b611a"/><ellipse cx="374.87" cy="489.5" rx="0.49" ry="1.72" fill="#175616"/><ellipse cx="370.73" cy="468.4" rx="0.44" ry="1.08" fill="#277a25"/><ellipse cx="373.73" cy="487.37" rx="0.65" ry="1.3" fill="#297e27"/><ellipse cx="357.94" cy="492.84" rx="0.56" ry="1.26" fill="#134813"/><ellipse cx="382.52" cy="492.42" rx="0.63" ry="1.52" fill="#185917"/><ellipse cx="374.35" cy="469.89" rx="0.61" ry="0.96" fill="#3a9736"/><ellipse cx="364.89" cy="503.18" rx="0.54" ry="1.61" fill="#185817"/><ellipse cx="388.65" cy="489.28" rx="0.41" ry="0.98" fill="#2f872c"/><ellipse cx="394.83" cy="495.93" rx="0.42" ry="1.12" fill="#134612"/><ellipse cx="392.99" cy="472.95" rx="0.73" ry="1.47" fill="#2b8129"/><ellipse cx="392.52" cy="474.66" rx="0.41" ry="1.58" fill="#155115"/><ellipse cx="359.41" cy="502.64" rx="0.47" ry="1.63" fill="#2d852b"/><ellipse cx="361.81" cy="484.48" rx="0.68" ry="1.7" fill="#144d14"/><ellipse cx="392.4" cy="464.39" rx="0.59" ry="1.64" fill="#369233"/><ellipse cx="375.6" cy="488.72" rx="0.68" ry="0.97" fill="#277a25"/><ellipse cx="357.4" cy="485.79" rx="0.54" ry="0.91" fill="#1a5e19"/><ellipse cx="385.45" cy="465.25" rx="0.68" ry="1.31" fill="#359031"/><ellipse cx="360.16" cy="489.91" rx="0.55" ry="1" fill="#175616"/><ellipse cx="394.84" cy="485.82" rx="0.43" ry="1.56" fill="#1c631b"/><ellipse cx="389.7" cy="497.72" rx="0.53" ry="1.17" fill="#144c14"/><ellipse cx="386.15" cy="470.12" rx="0.74" ry="1.59" fill="#287b25"/><ellipse cx="355.48" cy="467.25" rx="0.64" ry="1.44" fill="#144d14"/><ellipse cx="376.32" cy="482.25" rx="0.61" ry="1.48" fill="#1e691d"/><ellipse cx="392.41" cy="493.17" rx="0.72" ry="1.65" fill="#338d2f"/><ellipse cx="384.3" cy="465.51" rx="0.7" ry="1.29" fill="#2c8229"/><ellipse cx="390.85" cy="471.38" rx="0.55" ry="1.54" fill="#3c9a38"/><ellipse cx="365.46" cy="476.14" rx="0.51" ry="0.99" fill="#1c631b"/><ellipse cx="373.18" cy="502.95" rx="0.73" ry="1.59" fill="#2a7f28"/><ellipse cx="389.18" cy="503.47" rx="0.5" ry="1.12" fill="#30882d"/><ellipse cx="371.94" cy="465.12" rx="0.71" ry="1.73" fill="#185817"/><ellipse cx="368.55" cy="494.65" rx="0.71" ry="1.62" fill="#318b2e"/><ellipse cx="376.8" cy="468.43" rx="0.51" ry="1.46" fill="#348f31"/><ellipse cx="370.11" cy="485.47" rx="0.46" ry="1.38" fill="#3e9c3a"/><ellipse cx="381.59" cy="485.51" rx="0.54" ry="1.72" fill="#3c9a38"/><ellipse cx="383.21" cy="502.42" rx="0.47" ry="1.16" fill="#144b13"/><ellipse cx="392.01" cy="464.84" rx="0.65" ry="1.79" fill="#195b18"/><ellipse cx="362.36" cy="481.56" rx="0.64" ry="1.57" fill="#2c8229"/><ellipse cx="385.78" cy="474.09" rx="0.41" ry="1.52" fill="#195b18"/><ellipse cx="363.69" cy="474.53" rx="0.63" ry="1.43" fill="#3e9c3a"/><ellipse cx="381.84" cy="487.86" rx="0.51" ry="0.96" fill="#2d832a"/><ellipse cx="357.92" cy="464.87" rx="0.45" ry="1" fill="#1c641b"/><ellipse cx="375.24" cy="502.5" rx="0.5" ry="1.59" fill="#2c8229"/><ellipse cx="362.42" cy="468.24" rx="0.54" ry="1.52" fill="#1a5f19"/><ellipse cx="373.26" cy="493" rx="0.73" ry="1.21" fill="#144c13"/><ellipse cx="388.99" cy="465.51" rx="0.48" ry="1.67" fill="#359031"/><ellipse cx="387.8" cy="490.73" rx="0.4" ry="1.07" fill="#195d18"/><ellipse cx="391.94" cy="470.53" rx="0.61" ry="1.5" fill="#2b8028"/><ellipse cx="362.53" cy="469.96" rx="0.74" ry="1.24" fill="#144c13"/><ellipse cx="381.68" cy="486.74" rx="0.42" ry="0.91" fill="#185817"/><ellipse cx="389.81" cy="469.42" rx="0.53" ry="1.55" fill="#3e9c3a"/><ellipse cx="360.82" cy="495.35" rx="0.53" ry="1.37" fill="#185a18"/><ellipse cx="359.73" cy="474.08" rx="0.5" ry="1.24" fill="#338d2f"/><ellipse cx="386.25" cy="473.12" rx="0.48" ry="1.25" fill="#175516"/><ellipse cx="370.03" cy="489.57" rx="0.7" ry="0.95" fill="#216f1f"/><ellipse cx="382.14" cy="497.26" rx="0.41" ry="1.29" fill="#185917"/><ellipse cx="359.9" cy="482.42" rx="0.43" ry="1.01" fill="#2d852b"/><ellipse cx="374.67" cy="471.15" rx="0.55" ry="1.01" fill="#185817"/><ellipse cx="357.96" cy="478.53" rx="0.73" ry="1.4" fill="#216e1f"/><ellipse cx="358.1" cy="473.06" rx="0.6" ry="1.68" fill="#2f882c"/><ellipse cx="394.28" cy="498.1" rx="0.73" ry="1.37" fill="#144d14"/><ellipse cx="364.93" cy="471.02" rx="0.47" ry="0.97" fill="#379333"/><ellipse cx="365.97" cy="500.71" rx="0.66" ry="0.97" fill="#216e1f"/><ellipse cx="373.59" cy="476.82" rx="0.63" ry="1.23" fill="#175616"/><ellipse cx="360.06" cy="503.08" rx="0.46" ry="0.91" fill="#226f20"/><ellipse cx="381.71" cy="484.58" rx="0.56" ry="1.57" fill="#124512"/><ellipse cx="377.01" cy="473.52" rx="0.61" ry="1.49" fill="#227121"/><ellipse cx="361.09" cy="495.96" rx="0.66" ry="1.67" fill="#3d9a38"/><ellipse cx="370.13" cy="499.87" rx="0.48" ry="1.44" fill="#165416"/><ellipse cx="391.8" cy="467.53" rx="0.41" ry="1.3" fill="#175717"/><ellipse cx="360.9" cy="471.85" rx="0.6" ry="1.75" fill="#30882d"/><ellipse cx="371.52" cy="491.06" rx="0.73" ry="1.11" fill="#124412"/><ellipse cx="374.57" cy="484.46" rx="0.57" ry="1.79" fill="#3d9b39"/><ellipse cx="380.42" cy="472.83" rx="0.47" ry="1.8" fill="#359032"/><ellipse cx="373.74" cy="473.22" rx="0.51" ry="1.27" fill="#3e9c39"/><ellipse cx="369.13" cy="490.65" rx="0.53" ry="1.05" fill="#124512"/><ellipse cx="388.82" cy="464.31" rx="0.49" ry="1.31" fill="#287b25"/><ellipse cx="378.01" cy="492.34" rx="0.48" ry="1.01" fill="#155014"/><ellipse cx="394.19" cy="470.18" rx="0.58" ry="1.42" fill="#155014"/><ellipse cx="391.19" cy="466.54" rx="0.46" ry="1.43" fill="#185917"/><ellipse cx="373.57" cy="480.41" rx="0.63" ry="1.67" fill="#399535"/><ellipse cx="394.05" cy="474.9" rx="0.54" ry="0.95" fill="#3c9a38"/><ellipse cx="392.34" cy="468.4" rx="0.5" ry="1.16" fill="#124412"/><ellipse cx="394.46" cy="498.6" rx="0.59" ry="1.66" fill="#1f6a1d"/><ellipse cx="387.97" cy="490.04" rx="0.44" ry="1.12" fill="#237221"/><ellipse cx="381.92" cy="487.4" rx="0.71" ry="1.77" fill="#338d30"/><ellipse cx="363.02" cy="467.3" rx="0.6" ry="1.06" fill="#399635"/><ellipse cx="383.3" cy="474.37" rx="0.53" ry="1.37" fill="#185917"/><ellipse cx="382.7" cy="467.19" rx="0.62" ry="1.32" fill="#2f872c"/><ellipse cx="382.49" cy="495.8" rx="0.57" ry="1.51" fill="#124412"/><ellipse cx="383.99" cy="489.81" rx="0.74" ry="1.61" fill="#165416"/><ellipse cx="364.66" cy="481.27" rx="0.47" ry="1.27" fill="#3e9b39"/><ellipse cx="394.24" cy="499.76" rx="0.66" ry="1.22" fill="#185817"/><ellipse cx="382.13" cy="494.52" rx="0.48" ry="1.09" fill="#154f14"/><ellipse cx="366" cy="465.71" rx="0.54" ry="1.28" fill="#154f14"/><ellipse cx="358.36" cy="487.24" rx="0.6" ry="1.22" fill="#3c9a38"/><ellipse cx="383.8" cy="481.53" rx="0.57" ry="0.92" fill="#165315"/><ellipse cx="382.64" cy="470.64" rx="0.74" ry="1.59" fill="#1d651b"/><ellipse cx="389.12" cy="489.6" rx="0.65" ry="1.77" fill="#297e27"/><ellipse cx="363.17" cy="494.49" rx="0.49" ry="1.64" fill="#1a5f19"/><ellipse cx="379.61" cy="497.78" rx="0.61" ry="1.08" fill="#389434"/><ellipse cx="355.81" cy="485.37" rx="0.5" ry="0.96" fill="#2e862b"/><ellipse cx="355.39" cy="471.12" rx="0.4" ry="1.11" fill="#2d832a"/><ellipse cx="365.96" cy="492.32" rx="0.41" ry="1" fill="#409e3b"/><ellipse cx="393.15" cy="502.52" rx="0.52" ry="1.37" fill="#155115"/><ellipse cx="368.2" cy="480.75" rx="0.49" ry="0.95" fill="#216f20"/><ellipse cx="358.61" cy="470.7" rx="0.62" ry="1.53" fill="#144b13"/><ellipse cx="365.88" cy="495.49" rx="0.52" ry="1.34" fill="#2f862c"/><ellipse cx="362.85" cy="500.9" rx="0.42" ry="1.04" fill="#257723"/><ellipse cx="383.32" cy="479.48" rx="0.48" ry="1.62" fill="#2e852b"/><ellipse cx="387.76" cy="468.01" rx="0.47" ry="1.54" fill="#277924"/><ellipse cx="387.84" cy="495.48" rx="0.43" ry="1.5" fill="#185817"/><ellipse cx="378.14" cy="469.75" rx="0.6" ry="1" fill="#175516"/><ellipse cx="380.94" cy="473.79" rx="0.55" ry="1.38" fill="#195b18"/><ellipse cx="384.61" cy="465.52" rx="0.48" ry="1.16" fill="#2e862b"/><ellipse cx="381.18" cy="491.53" rx="0.72" ry="1.08" fill="#287c26"/><ellipse cx="367.83" cy="490.4" rx="0.46" ry="1.1" fill="#195b18"/><ellipse cx="386.52" cy="496.88" rx="0.74" ry="1.61" fill="#2e852b"/><ellipse cx="367.77" cy="476.73" rx="0.42" ry="1.45" fill="#2e862b"/><ellipse cx="358.82" cy="466.23" rx="0.45" ry="1.74" fill="#237221"/><ellipse cx="390.82" cy="482.49" rx="0.44" ry="1.36" fill="#175516"/><ellipse cx="376.36" cy="478.6" rx="0.59" ry="1.6" fill="#2e852b"/><ellipse cx="359.51" cy="467.06" rx="0.57" ry="1.13" fill="#1d671c"/><ellipse cx="382.34" cy="473.04" rx="0.57" ry="1.54" fill="#1b601a"/><ellipse cx="386.48" cy="478.94" rx="0.72" ry="1.74" fill="#206c1e"/><ellipse cx="380.32" cy="468.43" rx="0.62" ry="1.15" fill="#206d1f"/><ellipse cx="356.72" cy="502.96" rx="0.45" ry="1.32" fill="#3a9736"/><ellipse cx="380.35" cy="476.12" rx="0.66" ry="1.59" fill="#134913"/><ellipse cx="372.96" cy="467.68" rx="0.43" ry="1.77" fill="#1e671c"/><ellipse cx="357.28" cy="475.65" rx="0.45" ry="1" fill="#318a2e"/><ellipse cx="358.07" cy="470.76" rx="0.69" ry="1.05" fill="#247422"/><ellipse cx="362.25" cy="494.44" rx="0.52" ry="1.01" fill="#1f6a1e"/><ellipse cx="365.06" cy="502.59" rx="0.49" ry="1.57" fill="#144e14"/><ellipse cx="391.4" cy="499.93" rx="0.73" ry="1.44" fill="#216f1f"/><ellipse cx="366.92" cy="482.63" rx="0.66" ry="1.02" fill="#2e852b"/><ellipse cx="363.06" cy="502.05" rx="0.68" ry="1.2" fill="#144d14"/><ellipse cx="365.27" cy="474.35" rx="0.75" ry="1.03" fill="#216e1f"/><ellipse cx="389.89" cy="476.96" rx="0.66" ry="1.21" fill="#165315"/><ellipse cx="362.81" cy="480.79" rx="0.7" ry="1.42" fill="#348f31"/><ellipse cx="355.62" cy="494.38" rx="0.71" ry="1.76" fill="#287b25"/><ellipse cx="368.48" cy="497.73" rx="0.49" ry="1.23" fill="#348f31"/><ellipse cx="370.41" cy="478.2" rx="0.44" ry="1.1" fill="#1d661c"/><ellipse cx="392.13" cy="480.48" rx="0.71" ry="1.58" fill="#297e27"/><ellipse cx="365.12" cy="500.53" rx="0.75" ry="1.56" fill="#338d30"/><ellipse cx="385.85" cy="496.33" rx="0.63" ry="1.24" fill="#195a18"/><ellipse cx="389.29" cy="469.56" rx="0.52" ry="1.64" fill="#247522"/><ellipse cx="369.22" cy="497.55" rx="0.71" ry="1.03" fill="#369132"/><ellipse cx="393.29" cy="493.62" rx="0.63" ry="0.94" fill="#2c8129"/><ellipse cx="390.53" cy="485.88" rx="0.52" ry="1.6" fill="#206d1f"/><ellipse cx="386.96" cy="498.57" rx="0.52" ry="1.12" fill="#175716"/><ellipse cx="359.28" cy="477.19" rx="0.68" ry="1.1" fill="#124512"/><ellipse cx="358.07" cy="466.97" rx="0.47" ry="1.32" fill="#2f872c"/><ellipse cx="371.51" cy="495.91" rx="0.51" ry="1.47" fill="#3d9b39"/><ellipse cx="391.53" cy="482.84" rx="0.66" ry="1.18" fill="#399636"/><ellipse cx="390.68" cy="486.89" rx="0.61" ry="1.65" fill="#144d14"/><ellipse cx="376.25" cy="483.37" rx="0.71" ry="1.5" fill="#1f691d"/><ellipse cx="363.64" cy="478.58" rx="0.74" ry="1.53" fill="#1c641b"/><ellipse cx="360.27" cy="500.32" rx="0.61" ry="1.29" fill="#134612"/><ellipse cx="384.33" cy="481.22" rx="0.58" ry="1.64" fill="#144b13"/><ellipse cx="387.23" cy="478.35" rx="0.66" ry="1.62" fill="#185717"/><ellipse cx="364.09" cy="499.09" rx="0.55" ry="1.24" fill="#409f3c"/><ellipse cx="384.02" cy="500.93" rx="0.51" ry="1.2" fill="#175616"/><ellipse cx="384.93" cy="471.66" rx="0.58" ry="1.5" fill="#257523"/><ellipse cx="361.02" cy="501.99" rx="0.6" ry="1.62" fill="#419f3c"/><ellipse cx="362.64" cy="500.16" rx="0.67" ry="1.68" fill="#257623"/><ellipse cx="369.89" cy="500.7" rx="0.41" ry="1.35" fill="#175616"/><ellipse cx="391.69" cy="499.78" rx="0.58" ry="1.74" fill="#3d9b39"/><ellipse cx="377.93" cy="469.96" rx="0.68" ry="1.28" fill="#297d27"/><ellipse cx="379.65" cy="474.51" rx="0.55" ry="1.36" fill="#195c18"/><ellipse cx="374.21" cy="467.94" rx="0.52" ry="1.55" fill="#124312"/><ellipse cx="385.58" cy="473.64" rx="0.58" ry="1.06" fill="#195b18"/><ellipse cx="379.68" cy="499.92" rx="0.6" ry="1.55" fill="#175616"/><ellipse cx="385.62" cy="492.36" rx="0.5" ry="1.65" fill="#2d852b"/><ellipse cx="392.76" cy="466.37" rx="0.55" ry="0.98" fill="#3d9a38"/><ellipse cx="358.03" cy="495.7" rx="0.45" ry="1.31" fill="#2c8229"/><ellipse cx="381.13" cy="503.61" rx="0.67" ry="1.12" fill="#1b621a"/><ellipse cx="363.27" cy="470.65" rx="0.62" ry="1.17" fill="#1e691d"/><ellipse cx="361.77" cy="472.91" rx="0.47" ry="1.18" fill="#144b13"/><ellipse cx="375.69" cy="471.53" rx="0.55" ry="1.78" fill="#216f20"/><ellipse cx="374.94" cy="501.53" rx="0.47" ry="1.43" fill="#216e1f"/><ellipse cx="361.07" cy="470.97" rx="0.65" ry="1.77" fill="#134a13"/><ellipse cx="371.58" cy="478.25" rx="0.52" ry="1.52" fill="#1f6a1e"/><ellipse cx="371.11" cy="470.3" rx="0.6" ry="0.91" fill="#379333"/><ellipse cx="389.69" cy="493" rx="0.62" ry="1.73" fill="#1c641b"/><ellipse cx="371.51" cy="481.34" rx="0.59" ry="1.5" fill="#1a5e19"/><ellipse cx="385.04" cy="501.7" rx="0.53" ry="1.67" fill="#155015"/><ellipse cx="387.32" cy="487.55" rx="0.52" ry="1.75" fill="#2c8229"/><ellipse cx="377.51" cy="480.16" rx="0.44" ry="1.71" fill="#165416"/><ellipse cx="387.7" cy="465.35" rx="0.57" ry="1.35" fill="#1b611a"/><ellipse cx="369.96" cy="499.57" rx="0.59" ry="1.74" fill="#1c631b"/><ellipse cx="381.15" cy="483.09" rx="0.54" ry="1.45" fill="#1b621a"/><ellipse cx="387.11" cy="474.57" rx="0.54" ry="1.23" fill="#1d651b"/><ellipse cx="392.27" cy="485.53" rx="0.52" ry="1.64" fill="#195c18"/><ellipse cx="361.71" cy="491.48" rx="0.47" ry="0.95" fill="#124512"/><ellipse cx="387.91" cy="470.09" rx="0.42" ry="1.14" fill="#185817"/><ellipse cx="384.98" cy="492.67" rx="0.73" ry="1.4" fill="#3a9736"/><ellipse cx="392.63" cy="467.83" rx="0.55" ry="1.07" fill="#3b9837"/><ellipse cx="385.57" cy="498.13" rx="0.43" ry="1.69" fill="#1d671c"/><ellipse cx="385.79" cy="487.82" rx="0.41" ry="0.95" fill="#3f9d3b"/><ellipse cx="360.24" cy="465.16" rx="0.62" ry="1" fill="#2d842a"/></g>
<rect x="399" y="462.5" width="43" height="43" fill="#0a170b"/>
<g filter="url(#blur3)"><ellipse cx="406.78" cy="471.43" rx="0.64" ry="1.77" fill="#399635"/><ellipse cx="414.84" cy="502.87" rx="0.54" ry="1.13" fill="#2b8128"/><ellipse cx="409.65" cy="502.7" rx="0.65" ry="1.06" fill="#63c45b"/><ellipse cx="407.5" cy="470.3" rx="0.66" ry="0.95" fill="#257723"/><ellipse cx="421.73" cy="491.12" rx="0.55" ry="1.61" fill="#155115"/><ellipse cx="423.57" cy="482.09" rx="0.61" ry="1.2" fill="#55b74f"/><ellipse cx="416.27" cy="501.47" rx="0.72" ry="1.4" fill="#52b44c"/><ellipse cx="405.98" cy="471.2" rx="0.64" ry="0.9" fill="#277b25"/><ellipse cx="432.76" cy="495.27" rx="0.4" ry="1.62" fill="#318a2e"/><ellipse cx="417.01" cy="490.67" rx="0.65" ry="1.27" fill="#369132"/><ellipse cx="439.17" cy="501.95" rx="0.62" ry="1.18" fill="#5bbc54"/><ellipse cx="415.49" cy="474.9" rx="0.68" ry="1.61" fill="#58b951"/><ellipse cx="433.54" cy="503.34" rx="0.51" ry="1.58" fill="#419f3c"/><ellipse cx="410.85" cy="488.37" rx="0.7" ry="1.34" fill="#1b6019"/><ellipse cx="411.37" cy="500.66" rx="0.73" ry="1.58" fill="#175716"/><ellipse cx="406.25" cy="494.29" rx="0.72" ry="1.43" fill="#369233"/><ellipse cx="417.55" cy="501.07" rx="0.67" ry="0.99" fill="#175717"/><ellipse cx="411.43" cy="468.78" rx="0.55" ry="1.55" fill="#54b54e"/><ellipse cx="410.62" cy="493.07" rx="0.43" ry="1.34" fill="#3d9b39"/><ellipse cx="429.51" cy="472.75" rx="0.5" ry="1.23" fill="#3d9b39"/><ellipse cx="437.55" cy="501.46" rx="0.55" ry="1.41" fill="#63c55b"/><ellipse cx="433.02" cy="494.19" rx="0.7" ry="1.26" fill="#2d832a"/><ellipse cx="438.77" cy="482.93" rx="0.66" ry="1.03" fill="#195b18"/><ellipse cx="427.79" cy="466.41" rx="0.59" ry="1.57" fill="#62c35a"/><ellipse cx="405.52" cy="489.39" rx="0.49" ry="1.63" fill="#277a25"/><ellipse cx="401.55" cy="483.13" rx="0.7" ry="1.7" fill="#175717"/><ellipse cx="401.6" cy="482.6" rx="0.65" ry="1.56" fill="#2e852b"/><ellipse cx="414.13" cy="501.05" rx="0.45" ry="1.63" fill="#1c631b"/><ellipse cx="405.08" cy="471.63" rx="0.52" ry="1.05" fill="#30892d"/><ellipse cx="437.95" cy="482.97" rx="0.49" ry="1.72" fill="#4aab45"/><ellipse cx="409.18" cy="500.01" rx="0.74" ry="1.59" fill="#3a9636"/><ellipse cx="425.81" cy="485.3" rx="0.56" ry="0.99" fill="#52b34c"/><ellipse cx="437.3" cy="496.04" rx="0.66" ry="1.11" fill="#409f3b"/><ellipse cx="419.01" cy="496.72" rx="0.72" ry="1.04" fill="#5ec057"/><ellipse cx="427.97" cy="486.13" rx="0.46" ry="1.02" fill="#297d27"/><ellipse cx="419.29" cy="483.73" rx="0.53" ry="1.4" fill="#206d1f"/><ellipse cx="431.13" cy="487.52" rx="0.71" ry="1.23" fill="#1b601a"/><ellipse cx="439.17" cy="502.98" rx="0.6" ry="1.77" fill="#1a5d19"/><ellipse cx="415.83" cy="485.87" rx="0.41" ry="1.08" fill="#237221"/><ellipse cx="405.23" cy="475.5" rx="0.6" ry="1.75" fill="#3b9837"/><ellipse cx="428.03" cy="478.58" rx="0.62" ry="1.39" fill="#5dbf56"/><ellipse cx="435.22" cy="490.69" rx="0.61" ry="1.17" fill="#267824"/><ellipse cx="439.55" cy="473.92" rx="0.42" ry="0.91" fill="#60c258"/><ellipse cx="422.66" cy="472.41" rx="0.44" ry="1.65" fill="#318a2e"/><ellipse cx="427.36" cy="491.26" rx="0.75" ry="1.51" fill="#5abc53"/><ellipse cx="429.16" cy="464.37" rx="0.55" ry="1.77" fill="#165315"/><ellipse cx="412.91" cy="486.7" rx="0.55" ry="1.71" fill="#144e14"/><ellipse cx="424.13" cy="496.78" rx="0.47" ry="1.06" fill="#154e14"/><ellipse cx="433.99" cy="468.31" rx="0.49" ry="1.69" fill="#5bbd54"/><ellipse cx="421.13" cy="477.05" rx="0.54" ry="1.53" fill="#5fc158"/><ellipse cx="402.93" cy="497.02" rx="0.44" ry="1.57" fill="#61c359"/><ellipse cx="411.18" cy="470.13" rx="0.63" ry="1.76" fill="#267824"/><ellipse cx="440.55" cy="503.45" rx="0.63" ry="1.05" fill="#3b9837"/><ellipse cx="429.68" cy="486.02" rx="0.72" ry="1.13" fill="#267824"/><ellipse cx="405.95" cy="470.53" rx="0.61" ry="1.62" fill="#1a5f19"/><ellipse cx="406.7" cy="484.11" rx="0.6" ry="1.27" fill="#369233"/><ellipse cx="422.27" cy="464.9" rx="0.55" ry="1.11" fill="#165416"/><ellipse cx="430.93" cy="473.83" rx="0.48" ry="0.98" fill="#4fb049"/><ellipse cx="419.58" cy="479.57" rx="0.67" ry="1.1" fill="#247522"/><ellipse cx="427.4" cy="497.19" rx="0.58" ry="1.73" fill="#2c832a"/><ellipse cx="424.72" cy="471.43" rx="0.43" ry="1.2" fill="#175516"/><ellipse cx="403.81" cy="489.86" rx="0.51" ry="1.36" fill="#2a8028"/><ellipse cx="438.23" cy="473.93" rx="0.51" ry="1.19" fill="#1a5f19"/><ellipse cx="437.14" cy="492.12" rx="0.46" ry="0.94" fill="#2b8028"/><ellipse cx="405.17" cy="497.69" rx="0.45" ry="1.46" fill="#3d9b39"/><ellipse cx="402.57" cy="484.27" rx="0.44" ry="1.57" fill="#247522"/><ellipse cx="429.3" cy="484.42" rx="0.63" ry="1.29" fill="#1b611a"/><ellipse cx="427.05" cy="467.9" rx="0.4" ry="1.1" fill="#57b951"/><ellipse cx="416.37" cy="472.12" rx="0.64" ry="1.79" fill="#175717"/><ellipse cx="413.8" cy="474.79" rx="0.48" ry="1.26" fill="#3f9d3b"/><ellipse cx="428.15" cy="481.27" rx="0.42" ry="1.39" fill="#1a5f19"/><ellipse cx="440.42" cy="500.55" rx="0.58" ry="1.34" fill="#185917"/><ellipse cx="408.08" cy="490.69" rx="0.68" ry="1.16" fill="#30882d"/><ellipse cx="438.12" cy="496.39" rx="0.45" ry="1.34" fill="#2e862b"/><ellipse cx="405.36" cy="491.32" rx="0.6" ry="1.78" fill="#41a03d"/><ellipse cx="402.04" cy="492.48" rx="0.44" ry="1.19" fill="#4cad46"/><ellipse cx="402.38" cy="487.27" rx="0.52" ry="1.53" fill="#44a43f"/><ellipse cx="415.09" cy="492.36" rx="0.74" ry="1.29" fill="#216e1f"/><ellipse cx="400.35" cy="467.9" rx="0.7" ry="1.47" fill="#44a43f"/><ellipse cx="406.51" cy="498.66" rx="0.44" ry="1.24" fill="#43a33f"/><ellipse cx="427.46" cy="464.44" rx="0.52" ry="1.69" fill="#165215"/><ellipse cx="440.65" cy="476.84" rx="0.68" ry="1.68" fill="#58ba51"/><ellipse cx="424.08" cy="502.49" rx="0.73" ry="1.41" fill="#3c9a38"/><ellipse cx="408.18" cy="484.74" rx="0.52" ry="1.24" fill="#2f872c"/><ellipse cx="420.93" cy="487.47" rx="0.5" ry="1.35" fill="#1e671c"/><ellipse cx="420.66" cy="480.8" rx="0.46" ry="1.38" fill="#3e9c3a"/><ellipse cx="411.4" cy="494.64" rx="0.67" ry="1.37" fill="#42a13d"/><ellipse cx="410.31" cy="500.77" rx="0.53" ry="1.16" fill="#318a2e"/><ellipse cx="416.52" cy="492.22" rx="0.57" ry="1.56" fill="#4eaf48"/><ellipse cx="408.84" cy="482.11" rx="0.51" ry="1.22" fill="#267824"/><ellipse cx="430.84" cy="493.19" rx="0.48" ry="1.61" fill="#1d661c"/><ellipse cx="426.78" cy="490.94" rx="0.64" ry="1.15" fill="#3c9938"/><ellipse cx="402.67" cy="478.51" rx="0.74" ry="1.37" fill="#155015"/><ellipse cx="427.41" cy="502.38" rx="0.48" ry="1.2" fill="#4cad47"/><ellipse cx="404.61" cy="495.65" rx="0.57" ry="1.23" fill="#45a540"/><ellipse cx="411.16" cy="483.5" rx="0.71" ry="1.66" fill="#43a23e"/><ellipse cx="435.43" cy="481.61" rx="0.51" ry="1.78" fill="#2a7f28"/><ellipse cx="407.64" cy="470.52" rx="0.72" ry="1.67" fill="#216e1f"/><ellipse cx="413.66" cy="497.86" rx="0.55" ry="1.07" fill="#56b850"/><ellipse cx="431.57" cy="479.06" rx="0.72" ry="1.3" fill="#195b18"/><ellipse cx="416.34" cy="487.75" rx="0.41" ry="1.25" fill="#206b1e"/><ellipse cx="415.6" cy="464.74" rx="0.67" ry="1.2" fill="#277925"/><ellipse cx="427.79" cy="488.91" rx="0.41" ry="1.51" fill="#1c631b"/><ellipse cx="425.01" cy="475.88" rx="0.7" ry="1.72" fill="#1d651b"/><ellipse cx="409.67" cy="487.39" rx="0.51" ry="0.93" fill="#369233"/><ellipse cx="413.41" cy="489.69" rx="0.58" ry="1.01" fill="#399535"/><ellipse cx="408.84" cy="476.57" rx="0.53" ry="1.71" fill="#2a7f27"/><ellipse cx="404.91" cy="503.16" rx="0.7" ry="1.12" fill="#1f691d"/><ellipse cx="424.04" cy="479.16" rx="0.68" ry="1.63" fill="#155115"/><ellipse cx="411.13" cy="494.88" rx="0.75" ry="0.95" fill="#2e862c"/><ellipse cx="415.64" cy="473.28" rx="0.67" ry="1.66" fill="#3b9837"/><ellipse cx="422.46" cy="479.56" rx="0.44" ry="1.13" fill="#4cad46"/><ellipse cx="430.76" cy="481.65" rx="0.43" ry="1.32" fill="#62c45b"/><ellipse cx="408.83" cy="464.38" rx="0.43" ry="1.23" fill="#185817"/><ellipse cx="417.76" cy="484.31" rx="0.65" ry="1.36" fill="#216f20"/><ellipse cx="440.06" cy="470.97" rx="0.57" ry="1.23" fill="#318a2e"/><ellipse cx="435.16" cy="472.55" rx="0.53" ry="1.2" fill="#55b64e"/><ellipse cx="425.16" cy="486.5" rx="0.43" ry="1.76" fill="#216f1f"/><ellipse cx="415.2" cy="468.81" rx="0.59" ry="1.19" fill="#3e9c39"/><ellipse cx="413.53" cy="497.59" rx="0.55" ry="1.76" fill="#257523"/><ellipse cx="414.85" cy="480.14" rx="0.63" ry="1.5" fill="#1b601a"/><ellipse cx="418.32" cy="480.29" rx="0.68" ry="1.31" fill="#1e691d"/><ellipse cx="433.98" cy="479.07" rx="0.41" ry="1.1" fill="#45a540"/><ellipse cx="439.2" cy="491.18" rx="0.57" ry="1.33" fill="#3f9e3b"/><ellipse cx="408.22" cy="471.12" rx="0.64" ry="1.13" fill="#3d9a38"/><ellipse cx="426.37" cy="469.66" rx="0.46" ry="1.36" fill="#3a9636"/><ellipse cx="412.95" cy="486" rx="0.57" ry="1.45" fill="#195d18"/><ellipse cx="405.67" cy="476.46" rx="0.59" ry="1.46" fill="#409e3b"/><ellipse cx="431.87" cy="486.82" rx="0.55" ry="1.65" fill="#1e671c"/><ellipse cx="423.21" cy="493.97" rx="0.56" ry="1.77" fill="#267824"/><ellipse cx="433.58" cy="490.02" rx="0.61" ry="0.93" fill="#185917"/><ellipse cx="438.12" cy="502.6" rx="0.49" ry="1.66" fill="#45a440"/><ellipse cx="407.39" cy="496.92" rx="0.41" ry="1.7" fill="#328b2f"/><ellipse cx="418.07" cy="497.01" rx="0.59" ry="1.68" fill="#419f3c"/><ellipse cx="408.44" cy="499.7" rx="0.41" ry="1.2" fill="#257523"/><ellipse cx="402.88" cy="467.14" rx="0.44" ry="1.04" fill="#3b9837"/><ellipse cx="412.08" cy="475.28" rx="0.72" ry="1.68" fill="#59bb53"/><ellipse cx="440.39" cy="481.64" rx="0.5" ry="1.73" fill="#4cac46"/><ellipse cx="433.11" cy="493.15" rx="0.43" ry="1.73" fill="#1e681d"/><ellipse cx="422.62" cy="488.43" rx="0.45" ry="1.53" fill="#53b44d"/><ellipse cx="419.04" cy="495.27" rx="0.47" ry="1.76" fill="#2d832a"/><ellipse cx="411.62" cy="493.65" rx="0.49" ry="1.53" fill="#4fb149"/><ellipse cx="416.28" cy="473.13" rx="0.73" ry="1.23" fill="#1d671c"/><ellipse cx="420.9" cy="484.05" rx="0.66" ry="1.57" fill="#155014"/><ellipse cx="435.76" cy="478.36" rx="0.52" ry="1.56" fill="#1d661c"/><ellipse cx="426.91" cy="480.3" rx="0.45" ry="1.73" fill="#328c2f"/><ellipse cx="419.36" cy="484.27" rx="0.47" ry="1.55" fill="#4bab45"/><ellipse cx="414.54" cy="496.31" rx="0.5" ry="1.47" fill="#185817"/><ellipse cx="419.79" cy="479.15" rx="0.48" ry="1.29" fill="#379233"/><ellipse cx="400.28" cy="495.77" rx="0.69" ry="1.4" fill="#1f6b1e"/><ellipse cx="424.62" cy="488.97" rx="0.67" ry="1.16" fill="#195c18"/><ellipse cx="435.23" cy="495.28" rx="0.69" ry="1.29" fill="#409e3b"/><ellipse cx="427.54" cy="501.84" rx="0.44" ry="1.27" fill="#1c631b"/><ellipse cx="420.89" cy="470.17" rx="0.7" ry="1.25" fill="#1e671c"/><ellipse cx="406.25" cy="471.51" rx="0.47" ry="1.33" fill="#369233"/><ellipse cx="422.03" cy="481.62" rx="0.69" ry="0.92" fill="#30892d"/><ellipse cx="437.96" cy="472.15" rx="0.67" ry="1.41" fill="#165115"/><ellipse cx="422.04" cy="472.87" rx="0.51" ry="1.55" fill="#4aab45"/><ellipse cx="409.47" cy="486.87" rx="0.53" ry="1.33" fill="#3d9b39"/><ellipse cx="402.85" cy="489.65" rx="0.45" ry="1.4" fill="#41a03c"/><ellipse cx="429.96" cy="468.28" rx="0.7" ry="0.95" fill="#50b14a"/><ellipse cx="410.29" cy="467.61" rx="0.43" ry="1.34" fill="#1f6b1e"/><ellipse cx="410.36" cy="476.12" rx="0.53" ry="1.61" fill="#2d842a"/><ellipse cx="429.54" cy="468.79" rx="0.4" ry="1.2" fill="#1e671c"/><ellipse cx="404.59" cy="491.77" rx="0.75" ry="1.09" fill="#4aaa44"/><ellipse cx="401.69" cy="494.12" rx="0.73" ry="1.25" fill="#297e27"/><ellipse cx="412.89" cy="467.16" rx="0.58" ry="1.3" fill="#5dbf56"/><ellipse cx="417.95" cy="494.58" rx="0.57" ry="1.06" fill="#4fb049"/><ellipse cx="416.7" cy="499.42" rx="0.63" ry="1.4" fill="#297e27"/><ellipse cx="418.93" cy="486.95" rx="0.6" ry="1.68" fill="#1f6a1d"/><ellipse cx="403.44" cy="478.84" rx="0.74" ry="0.91" fill="#55b64e"/><ellipse cx="425.66" cy="489.2" rx="0.56" ry="1.02" fill="#51b24b"/><ellipse cx="412.39" cy="492.38" rx="0.47" ry="1.48" fill="#45a440"/><ellipse cx="426.86" cy="490.22" rx="0.55" ry="1.19" fill="#154f14"/><ellipse cx="424.45" cy="477.57" rx="0.63" ry="1.16" fill="#195c18"/><ellipse cx="432.3" cy="476.35" rx="0.68" ry="1" fill="#348e30"/><ellipse cx="429.88" cy="466.98" rx="0.41" ry="1.55" fill="#5bbd54"/><ellipse cx="415.17" cy="471.38" rx="0.58" ry="1.27" fill="#287c26"/><ellipse cx="405.17" cy="484.9" rx="0.74" ry="1.24" fill="#227120"/><ellipse cx="417.87" cy="473.29" rx="0.51" ry="1.48" fill="#5fc158"/><ellipse cx="434" cy="479.79" rx="0.5" ry="1" fill="#47a742"/><ellipse cx="401.91" cy="481.99" rx="0.47" ry="1.3" fill="#54b64e"/><ellipse cx="431.17" cy="475.18" rx="0.58" ry="1.28" fill="#1a5f19"/><ellipse cx="438.3" cy="499.66" rx="0.6" ry="1.27" fill="#1f691d"/><ellipse cx="401.57" cy="481.81" rx="0.51" ry="1.43" fill="#59bb52"/><ellipse cx="429.04" cy="466.78" rx="0.44" ry="1.17" fill="#5abc53"/><ellipse cx="429.26" cy="465.06" rx="0.44" ry="1.33" fill="#277a25"/><ellipse cx="400.84" cy="470.25" rx="0.43" ry="0.98" fill="#1e671c"/><ellipse cx="408.1" cy="484.7" rx="0.69" ry="1.28" fill="#1a5d19"/><ellipse cx="410.43" cy="473.79" rx="0.42" ry="1.57" fill="#50b24a"/><ellipse cx="404.16" cy="501.52" rx="0.61" ry="1.68" fill="#297e27"/><ellipse cx="404.28" cy="466.82" rx="0.61" ry="1.55" fill="#41a03d"/><ellipse cx="411.48" cy="483.88" rx="0.55" ry="1.15" fill="#1c631b"/><ellipse cx="423.98" cy="476.08" rx="0.62" ry="0.98" fill="#216e1f"/><ellipse cx="432.73" cy="483.83" rx="0.44" ry="1.36" fill="#1e681d"/><ellipse cx="420.66" cy="492.65" rx="0.54" ry="1.7" fill="#277a25"/><ellipse cx="411.32" cy="502.95" rx="0.75" ry="1.75" fill="#56b850"/><ellipse cx="410.64" cy="496.38" rx="0.47" ry="1.8" fill="#3a9636"/><ellipse cx="426.5" cy="496.2" rx="0.43" ry="1.68" fill="#359031"/><ellipse cx="407.32" cy="474.51" rx="0.47" ry="1.32" fill="#3a9736"/><ellipse cx="429.17" cy="468.08" rx="0.44" ry="1.33" fill="#3e9c3a"/><ellipse cx="426.57" cy="491.38" rx="0.47" ry="1.76" fill="#165215"/><ellipse cx="416.08" cy="481.04" rx="0.64" ry="1.57" fill="#277a25"/><ellipse cx="426.6" cy="480.15" rx="0.58" ry="1.07" fill="#369132"/><ellipse cx="438.75" cy="502.32" rx="0.75" ry="1.32" fill="#4aaa44"/><ellipse cx="434.27" cy="473.78" rx="0.65" ry="1.74" fill="#46a641"/><ellipse cx="434.04" cy="498.94" rx="0.68" ry="1.33" fill="#206d1f"/><ellipse cx="412.89" cy="478.82" rx="0.69" ry="1.66" fill="#4cad46"/><ellipse cx="427.38" cy="471.01" rx="0.6" ry="1.09" fill="#1a5f19"/><ellipse cx="413.86" cy="468.34" rx="0.65" ry="1.1" fill="#1a5f19"/><ellipse cx="434.62" cy="477.27" rx="0.51" ry="1.14" fill="#51b34b"/><ellipse cx="416.23" cy="464.78" rx="0.53" ry="0.91" fill="#2b8129"/><ellipse cx="435.18" cy="479.08" rx="0.74" ry="1.11" fill="#144d14"/><ellipse cx="410.47" cy="465.26" rx="0.65" ry="1.42" fill="#185917"/><ellipse cx="420.66" cy="474" rx="0.74" ry="1.24" fill="#216f20"/><ellipse cx="440.37" cy="499.24" rx="0.7" ry="0.92" fill="#195c18"/><ellipse cx="429.07" cy="496.2" rx="0.59" ry="1.63" fill="#41a03d"/><ellipse cx="406.47" cy="485.57" rx="0.54" ry="1.07" fill="#206d1f"/><ellipse cx="428.96" cy="486.88" rx="0.62" ry="1.44" fill="#4aaa44"/><ellipse cx="437.63" cy="496.31" rx="0.51" ry="1.74" fill="#369132"/><ellipse cx="415.27" cy="468.32" rx="0.65" ry="1.74" fill="#247522"/><ellipse cx="426.41" cy="490.4" rx="0.67" ry="1.3" fill="#5cbd55"/><ellipse cx="418.95" cy="494.23" rx="0.44" ry="1.46" fill="#237321"/><ellipse cx="433.04" cy="474.08" rx="0.71" ry="1.01" fill="#409f3c"/><ellipse cx="405.71" cy="483.72" rx="0.73" ry="1.8" fill="#247522"/><ellipse cx="418.29" cy="495.55" rx="0.46" ry="1.77" fill="#3b9937"/><ellipse cx="407.28" cy="467.29" rx="0.41" ry="1.33" fill="#2c832a"/><ellipse cx="416.93" cy="501.9" rx="0.7" ry="1.6" fill="#2a7e27"/><ellipse cx="424" cy="473.67" rx="0.57" ry="1.26" fill="#227121"/><ellipse cx="426.41" cy="484.21" rx="0.61" ry="1.8" fill="#247322"/><ellipse cx="408.42" cy="477.52" rx="0.43" ry="0.95" fill="#154e14"/><ellipse cx="417.37" cy="497.26" rx="0.74" ry="1.65" fill="#42a03d"/><ellipse cx="423.99" cy="487.17" rx="0.53" ry="1.14" fill="#154e14"/><ellipse cx="425.4" cy="466.88" rx="0.53" ry="1.34" fill="#348e30"/><ellipse cx="416.62" cy="468.33" rx="0.68" ry="1.44" fill="#45a540"/><ellipse cx="404.9" cy="487.91" rx="0.75" ry="1.58" fill="#54b54d"/><ellipse cx="402.06" cy="498.91" rx="0.5" ry="1.73" fill="#3e9d3a"/><ellipse cx="433.74" cy="499.57" rx="0.6" ry="1.24" fill="#1f6a1e"/><ellipse cx="412.22" cy="494.29" rx="0.52" ry="1.39" fill="#3a9736"/><ellipse cx="437.89" cy="486.63" rx="0.6" ry="1.79" fill="#59ba52"/><ellipse cx="401.38" cy="482.42" rx="0.65" ry="1.77" fill="#348f31"/><ellipse cx="425.51" cy="483.13" rx="0.59" ry="1.53" fill="#3c9937"/><ellipse cx="438.65" cy="464.85" rx="0.71" ry="0.95" fill="#237321"/><ellipse cx="432.29" cy="465.52" rx="0.68" ry="1.11" fill="#3d9b39"/><ellipse cx="415.68" cy="473.22" rx="0.59" ry="1.45" fill="#42a13e"/><ellipse cx="413.41" cy="487.42" rx="0.67" ry="1.76" fill="#5ebf56"/><ellipse cx="410.24" cy="484.63" rx="0.52" ry="1.62" fill="#287b25"/><ellipse cx="407.3" cy="486.31" rx="0.73" ry="0.92" fill="#49aa44"/><ellipse cx="411.19" cy="483.73" rx="0.46" ry="1.66" fill="#5bbd54"/><ellipse cx="416.33" cy="485.88" rx="0.42" ry="1.2" fill="#5abc54"/><ellipse cx="406.53" cy="469.57" rx="0.65" ry="1.42" fill="#227121"/><ellipse cx="405.15" cy="495.88" rx="0.45" ry="1.64" fill="#318a2e"/><ellipse cx="433.52" cy="472.84" rx="0.68" ry="1.11" fill="#5cbe55"/><ellipse cx="400.24" cy="498.47" rx="0.43" ry="1.59" fill="#4fb049"/><ellipse cx="431.59" cy="489.27" rx="0.74" ry="1.2" fill="#4fb14a"/><ellipse cx="434.06" cy="500.59" rx="0.64" ry="1.52" fill="#237221"/><ellipse cx="434.66" cy="486.63" rx="0.49" ry="1.39" fill="#216e1f"/><ellipse cx="405.69" cy="498.17" rx="0.48" ry="1.53" fill="#56b84f"/><ellipse cx="427.53" cy="469.1" rx="0.67" ry="1.18" fill="#4aaa44"/><ellipse cx="404.19" cy="475.4" rx="0.56" ry="1.63" fill="#49a944"/></g>
<rect x="219" y="507.5" width="43" height="43" fill="#0a0c0a"/>
<rect x="264" y="507.5" width="43" height="43" fill="#0a120b"/>
<g filter="url(#blur3)"><ellipse cx="271.68" cy="513.5" rx="0.71" ry="1.05" fill="#0f260f"/><ellipse cx="268.18" cy="538.96" rx="0.63" ry="0.98" fill="#0f250f"/><ellipse cx="275.22" cy="535.45" rx="0.54" ry="1.3" fill="#0f280f"/><ellipse cx="266.46" cy="522.72" rx="0.68" ry="1.54" fill="#0f250f"/><ellipse cx="297.05" cy="530.25" rx="0.44" ry="1.25" fill="#0f270f"/><ellipse cx="277.09" cy="520.42" rx="0.47" ry="1.19" fill="#0f280f"/><ellipse cx="276.67" cy="543.34" rx="0.57" ry="1.24" fill="#0f270f"/><ellipse cx="302.62" cy="546.31" rx="0.6" ry="1.68" fill="#0f260f"/></g>
<rect x="309" y="507.5" width="43" height="43" fill="#09140a"/>
<g filter="url(#blur3)"><ellipse cx="320.61" cy="519.49" rx="0.58" ry="1.59" fill="#10350f"/><ellipse cx="316.56" cy="526.34" rx="0.57" ry="1.24" fill="#185917"/><ellipse cx="344.28" cy="544.45" rx="0.44" ry="1.47" fill="#114011"/><ellipse cx="340.26" cy="545.68" rx="0.51" ry="1.36" fill="#144c13"/><ellipse cx="321.88" cy="526.87" rx="0.72" ry="1.72" fill="#124412"/><ellipse cx="347.81" cy="528.13" rx="0.45" ry="1.73" fill="#185817"/><ellipse cx="336.2" cy="543.68" rx="0.75" ry="0.92" fill="#124211"/><ellipse cx="344.62" cy="541.59" rx="0.69" ry="1.09" fill="#114011"/><ellipse cx="340.75" cy="527.76" rx="0.47" ry="1.62" fill="#124111"/><ellipse cx="339.88" cy="512.81" rx="0.48" ry="1.24" fill="#185917"/><ellipse cx="327.04" cy="532.01" rx="0.73" ry="1.47" fill="#175516"/><ellipse cx="325.04" cy="513.53" rx="0.58" ry="1.42" fill="#0f340f"/><ellipse cx="328.36" cy="548.01" rx="0.52" ry="1.28" fill="#124211"/><ellipse cx="317.17" cy="546.3" rx="0.59" ry="1.28" fill="#134913"/><ellipse cx="320.35" cy="521.73" rx="0.56" ry="1.78" fill="#124512"/><ellipse cx="333.06" cy="517.46" rx="0.46" ry="1.21" fill="#0f330f"/><ellipse cx="341.97" cy="544.34" rx="0.67" ry="1.3" fill="#103a10"/><ellipse cx="332.02" cy="530.3" rx="0.42" ry="1.5" fill="#0f320f"/><ellipse cx="338.18" cy="524.29" rx="0.69" ry="1.17" fill="#175616"/><ellipse cx="312.92" cy="531.1" rx="0.48" ry="0.94" fill="#144b13"/><ellipse cx="329.98" cy="510.65" rx="0.62" ry="1.15" fill="#154f14"/><ellipse cx="328.29" cy="518.48" rx="0.46" ry="1.63" fill="#103810"/><ellipse cx="328.6" cy="537.49" rx="0.68" ry="1.44" fill="#113f11"/><ellipse cx="336.75" cy="524.77" rx="0.47" ry="1.78" fill="#134813"/><ellipse cx="337.49" cy="530.28" rx="0.44" ry="1.2" fill="#144b13"/><ellipse cx="319.56" cy="542.52" rx="0.56" ry="1.68" fill="#0f310f"/><ellipse cx="341.97" cy="537.62" rx="0.48" ry="1.53" fill="#113d11"/><ellipse cx="322.33" cy="537.79" rx="0.67" ry="1.42" fill="#113f11"/><ellipse cx="343.31" cy="548.13" rx="0.75" ry="0.91" fill="#114011"/><ellipse cx="345.82" cy="510.47" rx="0.54" ry="1.59" fill="#134712"/><ellipse cx="322.99" cy="517.5" rx="0.59" ry="1.58" fill="#155115"/><ellipse cx="330.07" cy="510.74" rx="0.48" ry="1.32" fill="#155015"/><ellipse cx="310.22" cy="519.5" rx="0.67" ry="1.47" fill="#144c13"/><ellipse cx="328.2" cy="538.17" rx="0.47" ry="1.38" fill="#144c14"/><ellipse cx="334.47" cy="538.01" rx="0.51" ry="1.21" fill="#103910"/><ellipse cx="314.09" cy="523.03" rx="0.6" ry="1.06" fill="#154e14"/><ellipse cx="339.91" cy="513.9" rx="0.45" ry="0.99" fill="#154f14"/><ellipse cx="320.42" cy="529.59" rx="0.71" ry="1.74" fill="#113c10"/><ellipse cx="321.7" cy="538.85" rx="0.6" ry="1.13" fill="#144d14"/><ellipse cx="348.75" cy="546.99" rx="0.52" ry="1.19" fill="#0f310f"/><ellipse cx="318.26" cy="526.25" rx="0.41" ry="1.65" fill="#175516"/><ellipse cx="322.74" cy="509.83" rx="0.5" ry="1.09" fill="#175516"/><ellipse cx="314.94" cy="523.77" rx="0.46" ry="1.13" fill="#103610"/><ellipse cx="333.68" cy="526.88" rx="0.58" ry="1.6" fill="#113d11"/><ellipse cx="339.6" cy="522.83" rx="0.68" ry="1.41" fill="#175616"/><ellipse cx="329.51" cy="522.29" rx="0.71" ry="1.45" fill="#103610"/><ellipse cx="314.2" cy="545.77" rx="0.41" ry="1.53" fill="#175516"/><ellipse cx="319.87" cy="530.4" rx="0.52" ry="1.35" fill="#165315"/><ellipse cx="337.21" cy="516.88" rx="0.55" ry="1.78" fill="#144a13"/><ellipse cx="317.82" cy="537.31" rx="0.5" ry="1.01" fill="#0f320f"/><ellipse cx="316.25" cy="530.11" rx="0.68" ry="0.99" fill="#103810"/><ellipse cx="335.49" cy="543.22" rx="0.48" ry="1.59" fill="#103610"/><ellipse cx="329.29" cy="546.03" rx="0.54" ry="1.76" fill="#113e11"/><ellipse cx="324.16" cy="547.37" rx="0.47" ry="1.39" fill="#175516"/><ellipse cx="348.41" cy="513.92" rx="0.67" ry="1.57" fill="#165315"/></g>
<rect x="354" y="507.5" width="43" height="43" fill="#0a160b"/>
<g filter="url(#blur3)"><ellipse cx="379.59" cy="513.24" rx="0.44" ry="1.61" fill="#2a7e27"/><ellipse cx="384.56" cy="521.81" rx="0.54" ry="1.58" fill="#206b1e"/><ellipse cx="356.96" cy="546.08" rx="0.68" ry="1.32" fill="#175616"/><ellipse cx="388.18" cy="521.17" rx="0.41" ry="1.34" fill="#1b611a"/><ellipse cx="358.41" cy="543.15" rx="0.55" ry="1.78" fill="#1f6b1e"/><ellipse cx="393.64" cy="547" rx="0.65" ry="1.55" fill="#114111"/><ellipse cx="379.8" cy="509.92" rx="0.55" ry="1.44" fill="#287c26"/><ellipse cx="388.28" cy="520.14" rx="0.72" ry="1.14" fill="#113d11"/><ellipse cx="356.87" cy="514.69" rx="0.66" ry="1.09" fill="#2b8129"/><ellipse cx="361.15" cy="544.67" rx="0.6" ry="1.02" fill="#1f6a1d"/><ellipse cx="371.98" cy="546.59" rx="0.55" ry="0.95" fill="#103b10"/><ellipse cx="395.71" cy="513.41" rx="0.69" ry="1.56" fill="#297e27"/><ellipse cx="356.92" cy="536.7" rx="0.57" ry="1.03" fill="#1a5e19"/><ellipse cx="376" cy="540.9" rx="0.71" ry="1.28" fill="#124412"/><ellipse cx="366.01" cy="518.72" rx="0.63" ry="1.41" fill="#195b18"/><ellipse cx="391.34" cy="529.45" rx="0.75" ry="1.09" fill="#1a5f19"/><ellipse cx="355.87" cy="522.24" rx="0.44" ry="1.28" fill="#155115"/><ellipse cx="356.61" cy="545.58" rx="0.71" ry="1.53" fill="#1a5d19"/><ellipse cx="384.83" cy="539.19" rx="0.66" ry="1.09" fill="#155015"/><ellipse cx="377.73" cy="532.76" rx="0.46" ry="1.21" fill="#237221"/><ellipse cx="388.67" cy="541" rx="0.44" ry="1.09" fill="#2b8028"/><ellipse cx="359.53" cy="537.81" rx="0.63" ry="1.6" fill="#227020"/><ellipse cx="376.15" cy="531.45" rx="0.63" ry="1.49" fill="#287c26"/><ellipse cx="379.1" cy="528.76" rx="0.6" ry="1.02" fill="#227020"/><ellipse cx="372.49" cy="525.9" rx="0.6" ry="1.23" fill="#185917"/><ellipse cx="371.08" cy="526.12" rx="0.74" ry="0.98" fill="#175516"/><ellipse cx="355.89" cy="537.73" rx="0.56" ry="1.43" fill="#175717"/><ellipse cx="370.1" cy="518.72" rx="0.71" ry="1.75" fill="#113c10"/><ellipse cx="366.81" cy="527.63" rx="0.42" ry="1.7" fill="#165215"/><ellipse cx="389.16" cy="518.8" rx="0.64" ry="1.62" fill="#144d14"/><ellipse cx="374.27" cy="524.57" rx="0.68" ry="1.68" fill="#144c13"/><ellipse cx="390.03" cy="513.81" rx="0.74" ry="1.54" fill="#1d651b"/><ellipse cx="373.84" cy="515.02" rx="0.66" ry="0.96" fill="#113f11"/><ellipse cx="388.04" cy="535.53" rx="0.71" ry="1.74" fill="#195c18"/><ellipse cx="380.23" cy="513.23" rx="0.55" ry="1.12" fill="#1c641b"/><ellipse cx="392.9" cy="538.07" rx="0.48" ry="1.21" fill="#124412"/><ellipse cx="378.46" cy="522.09" rx="0.68" ry="1.06" fill="#185a18"/><ellipse cx="384.44" cy="522.33" rx="0.73" ry="1.19" fill="#297e27"/><ellipse cx="379.81" cy="513.66" rx="0.62" ry="1.47" fill="#185817"/><ellipse cx="369.11" cy="510.64" rx="0.6" ry="1.05" fill="#124412"/><ellipse cx="367.63" cy="533.66" rx="0.58" ry="1.13" fill="#277a25"/><ellipse cx="378.99" cy="520.16" rx="0.45" ry="1.14" fill="#237221"/><ellipse cx="373.01" cy="545.08" rx="0.47" ry="1.02" fill="#134712"/><ellipse cx="363.88" cy="522.39" rx="0.67" ry="1.26" fill="#175717"/><ellipse cx="374.49" cy="524.92" rx="0.72" ry="1.28" fill="#237221"/><ellipse cx="392.6" cy="519.18" rx="0.58" ry="1.51" fill="#2b8028"/><ellipse cx="370.68" cy="520" rx="0.71" ry="1.22" fill="#124512"/><ellipse cx="383.56" cy="527.45" rx="0.47" ry="1.06" fill="#1b601a"/><ellipse cx="368.85" cy="536.15" rx="0.4" ry="1.54" fill="#1b611a"/><ellipse cx="372.79" cy="512.02" rx="0.47" ry="1.64" fill="#144d14"/><ellipse cx="377.53" cy="522.18" rx="0.5" ry="1.15" fill="#144d14"/><ellipse cx="369.26" cy="540.45" rx="0.64" ry="1.7" fill="#237321"/><ellipse cx="381.75" cy="513.77" rx="0.46" ry="1.13" fill="#113e11"/><ellipse cx="376.65" cy="541.69" rx="0.55" ry="1.12" fill="#1c641b"/><ellipse cx="395.06" cy="538.98" rx="0.42" ry="1.78" fill="#165315"/><ellipse cx="365.6" cy="542.7" rx="0.63" ry="1.22" fill="#124312"/><ellipse cx="391.29" cy="521" rx="0.47" ry="1.63" fill="#124211"/><ellipse cx="394.93" cy="534.63" rx="0.5" ry="1.15" fill="#1f6b1e"/><ellipse cx="358.72" cy="548.1" rx="0.61" ry="1.21" fill="#113e11"/><ellipse cx="362.78" cy="526.48" rx="0.49" ry="1.05" fill="#297d26"/><ellipse cx="380.76" cy="535.19" rx="0.46" ry="1.69" fill="#1a5f19"/><ellipse cx="359.7" cy="516.16" rx="0.58" ry="1.33" fill="#144c14"/><ellipse cx="377.68" cy="537.94" rx="0.56" ry="0.94" fill="#277a25"/><ellipse cx="388.93" cy="510.03" rx="0.45" ry="1.44" fill="#165115"/><ellipse cx="386.95" cy="514.38" rx="0.7" ry="1.52" fill="#155014"/><ellipse cx="359.6" cy="536.35" rx="0.54" ry="1.04" fill="#237321"/><ellipse cx="381.96" cy="521.88" rx="0.46" ry="1.26" fill="#124512"/><ellipse cx="360.35" cy="524.47" rx="0.59" ry="1.26" fill="#1b621a"/><ellipse cx="387.69" cy="512.76" rx="0.73" ry="1.68" fill="#165215"/><ellipse cx="392.58" cy="539.45" rx="0.68" ry="1.42" fill="#1b611a"/><ellipse cx="359.97" cy="519.36" rx="0.71" ry="1.19" fill="#124211"/><ellipse cx="371.74" cy="530.51" rx="0.65" ry="1.62" fill="#124211"/><ellipse cx="387.52" cy="544.01" rx="0.45" ry="1.59" fill="#165115"/><ellipse cx="383.34" cy="523.94" rx="0.45" ry="1.65" fill="#165315"/><ellipse cx="373.9" cy="541.3" rx="0.51" ry="1.36" fill="#165315"/><ellipse cx="385.47" cy="544.08" rx="0.64" ry="1.26" fill="#165416"/><ellipse cx="390.18" cy="539.25" rx="0.53" ry="1.15" fill="#1c621a"/><ellipse cx="391.13" cy="540.86" rx="0.43" ry="1.08" fill="#155115"/><ellipse cx="394.35" cy="510.84" rx="0.59" ry="1.4" fill="#247422"/><ellipse cx="377.1" cy="525.46" rx="0.43" ry="1.73" fill="#1c621a"/><ellipse cx="359.38" cy="514.77" rx="0.62" ry="1.63" fill="#1f6a1e"/><ellipse cx="383.32" cy="545.97" rx="0.4" ry="1.11" fill="#113f11"/><ellipse cx="386.82" cy="515.31" rx="0.67" ry="1.04" fill="#1b601a"/><ellipse cx="376.62" cy="544.79" rx="0.54" ry="1.33" fill="#227020"/><ellipse cx="366.48" cy="547.15" rx="0.64" ry="1.17" fill="#237221"/><ellipse cx="384.91" cy="528.48" rx="0.53" ry="1.69" fill="#237322"/><ellipse cx="383" cy="527.06" rx="0.68" ry="1.38" fill="#1c631b"/><ellipse cx="394.19" cy="509.58" rx="0.65" ry="1.34" fill="#277a25"/><ellipse cx="389.7" cy="515.16" rx="0.65" ry="1.64" fill="#165315"/><ellipse cx="370.34" cy="548.47" rx="0.42" ry="1.01" fill="#1e691d"/><ellipse cx="358.3" cy="531.76" rx="0.49" ry="1.3" fill="#165215"/><ellipse cx="358.37" cy="545.11" rx="0.6" ry="1.3" fill="#257623"/><ellipse cx="367.72" cy="533.05" rx="0.74" ry="1.76" fill="#165316"/><ellipse cx="384.7" cy="541.84" rx="0.44" ry="1.21" fill="#114011"/><ellipse cx="360.32" cy="525.95" rx="0.69" ry="1.76" fill="#2b8028"/><ellipse cx="364.2" cy="518.04" rx="0.5" ry="0.95" fill="#113d11"/><ellipse cx="376.64" cy="521.14" rx="0.6" ry="1.44" fill="#1f6a1e"/><ellipse cx="367.37" cy="538.25" rx="0.65" ry="1.32" fill="#206c1e"/><ellipse cx="374.03" cy="520.57" rx="0.56" ry="1.45" fill="#113e11"/><ellipse cx="362.76" cy="543.18" rx="0.7" ry="1.63" fill="#267924"/><ellipse cx="375.03" cy="516.22" rx="0.66" ry="1.79" fill="#154e14"/><ellipse cx="359.72" cy="509.55" rx="0.52" ry="1.44" fill="#165416"/><ellipse cx="359.76" cy="542.55" rx="0.72" ry="1.2" fill="#165315"/><ellipse cx="367.6" cy="516.23" rx="0.61" ry="1.64" fill="#2a7f27"/><ellipse cx="357.76" cy="530.69" rx="0.74" ry="1.74" fill="#216f1f"/><ellipse cx="359.42" cy="524.01" rx="0.59" ry="1.76" fill="#2b8129"/><ellipse cx="365.49" cy="510.31" rx="0.49" ry="1.4" fill="#297e27"/><ellipse cx="369.84" cy="532.06" rx="0.73" ry="1.69" fill="#297d26"/><ellipse cx="365.62" cy="541.65" rx="0.55" ry="1.75" fill="#113c10"/><ellipse cx="365.54" cy="523.77" rx="0.48" ry="1.54" fill="#1c641b"/><ellipse cx="381.69" cy="513.05" rx="0.43" ry="1.53" fill="#287c26"/><ellipse cx="369.34" cy="514.96" rx="0.75" ry="1.62" fill="#114111"/><ellipse cx="373.83" cy="540.61" rx="0.72" ry="1.38" fill="#2a7f28"/><ellipse cx="366.36" cy="529.73" rx="0.66" ry="1.5" fill="#2b8028"/><ellipse cx="389.42" cy="525.41" rx="0.7" ry="1.08" fill="#1c621a"/><ellipse cx="390.07" cy="510.27" rx="0.6" ry="1.03" fill="#1b611a"/><ellipse cx="392.63" cy="526.61" rx="0.54" ry="1.43" fill="#134813"/><ellipse cx="372.62" cy="509.41" rx="0.65" ry="1.02" fill="#124211"/><ellipse cx="365.57" cy="541.12" rx="0.71" ry="1.06" fill="#267824"/><ellipse cx="355.41" cy="539.02" rx="0.53" ry="0.92" fill="#1d651c"/><ellipse cx="372.72" cy="518.64" rx="0.74" ry="1.09" fill="#1c641b"/><ellipse cx="358.25" cy="536.66" rx="0.48" ry="1.3" fill="#124312"/><ellipse cx="395.23" cy="522.08" rx="0.57" ry="1.05" fill="#165115"/><ellipse cx="371.53" cy="536.89" rx="0.68" ry="1.07" fill="#165215"/><ellipse cx="359.32" cy="534.01" rx="0.72" ry="0.99" fill="#195b18"/><ellipse cx="385.5" cy="535.69" rx="0.44" ry="1.45" fill="#175516"/><ellipse cx="385.98" cy="527.92" rx="0.64" ry="1.45" fill="#195c18"/><ellipse cx="372.39" cy="516.63" rx="0.59" ry="1.71" fill="#195c18"/><ellipse cx="395.59" cy="531.24" rx="0.48" ry="1.47" fill="#165215"/><ellipse cx="385.18" cy="519.06" rx="0.75" ry="1.25" fill="#206c1e"/></g>
<rect x="399" y="507.5" width="43" height="43" fill="#0a170b"/>
<g filter="url(#blur3)"><ellipse cx="438.32" cy="526.5" rx="0.7" ry="1.08" fill="#2a7f28"/><ellipse cx="414.23" cy="548.07" rx="0.51" ry="1.33" fill="#134913"/><ellipse cx="430.44" cy="534.14" rx="0.63" ry="0.9" fill="#3c9937"/><ellipse cx="403.1" cy="510.74" rx="0.41" ry="1.37" fill="#1f6b1e"/><ellipse cx="425.88" cy="517.27" rx="0.54" ry="1.76" fill="#379233"/><ellipse cx="414.73" cy="533.73" rx="0.49" ry="1.6" fill="#247522"/><ellipse cx="400.36" cy="519.13" rx="0.71" ry="1.35" fill="#1b611a"/><ellipse cx="401.68" cy="521.08" rx="0.68" ry="1" fill="#287b26"/><ellipse cx="431.84" cy="524.69" rx="0.55" ry="1.29" fill="#247322"/><ellipse cx="440.41" cy="545.51" rx="0.66" ry="1.53" fill="#3b9837"/><ellipse cx="405.95" cy="510.69" rx="0.64" ry="1.47" fill="#359031"/><ellipse cx="412.9" cy="519.82" rx="0.59" ry="0.92" fill="#3b9837"/><ellipse cx="414.02" cy="523.05" rx="0.74" ry="1.71" fill="#134913"/><ellipse cx="433.28" cy="509.47" rx="0.44" ry="1.55" fill="#1f691d"/><ellipse cx="433.06" cy="540.4" rx="0.44" ry="0.91" fill="#328c2f"/><ellipse cx="403.97" cy="542.49" rx="0.58" ry="1.11" fill="#359031"/><ellipse cx="434.99" cy="514.04" rx="0.4" ry="1.78" fill="#1b611a"/><ellipse cx="417.05" cy="539.68" rx="0.6" ry="1.79" fill="#338d30"/><ellipse cx="431.64" cy="545.83" rx="0.43" ry="1.58" fill="#3e9c3a"/><ellipse cx="409.39" cy="522.09" rx="0.75" ry="0.95" fill="#1c621a"/><ellipse cx="417.86" cy="514.35" rx="0.57" ry="1.53" fill="#409f3c"/><ellipse cx="421.32" cy="539.53" rx="0.54" ry="1.57" fill="#1b621a"/><ellipse cx="428.73" cy="544.28" rx="0.7" ry="1.56" fill="#1a5f19"/><ellipse cx="423.47" cy="525.38" rx="0.43" ry="0.99" fill="#267724"/><ellipse cx="412.84" cy="514.16" rx="0.65" ry="1.56" fill="#134712"/><ellipse cx="425.2" cy="517.41" rx="0.69" ry="1.46" fill="#2e862b"/><ellipse cx="409.43" cy="531.55" rx="0.49" ry="1.03" fill="#1e671c"/><ellipse cx="435.31" cy="534.21" rx="0.46" ry="1.14" fill="#3c9938"/><ellipse cx="420.88" cy="511.63" rx="0.59" ry="1.33" fill="#1a5f19"/><ellipse cx="437.13" cy="532.05" rx="0.6" ry="1.61" fill="#297e27"/><ellipse cx="415.08" cy="509.32" rx="0.68" ry="1.01" fill="#3f9e3b"/><ellipse cx="404.74" cy="518.06" rx="0.45" ry="0.92" fill="#2a8028"/><ellipse cx="420.26" cy="509.54" rx="0.53" ry="1.08" fill="#195b18"/><ellipse cx="400.3" cy="519.54" rx="0.51" ry="1.27" fill="#185917"/><ellipse cx="414.81" cy="522.07" rx="0.69" ry="1.56" fill="#124512"/><ellipse cx="420.21" cy="509.41" rx="0.72" ry="1.31" fill="#185817"/><ellipse cx="408.54" cy="541.61" rx="0.44" ry="1.35" fill="#399535"/><ellipse cx="422.99" cy="513.92" rx="0.62" ry="1.51" fill="#1b601a"/><ellipse cx="425.72" cy="533.74" rx="0.42" ry="0.91" fill="#1d661c"/><ellipse cx="434.21" cy="543.37" rx="0.43" ry="1.59" fill="#3a9736"/><ellipse cx="407.18" cy="522.94" rx="0.7" ry="1.64" fill="#175516"/><ellipse cx="434" cy="524.33" rx="0.49" ry="1.42" fill="#3c9938"/><ellipse cx="427.54" cy="518.51" rx="0.44" ry="1.62" fill="#1d661c"/><ellipse cx="407.68" cy="514.66" rx="0.62" ry="1.47" fill="#195d18"/><ellipse cx="421.5" cy="542.93" rx="0.47" ry="1.38" fill="#30882d"/><ellipse cx="407.08" cy="518.83" rx="0.43" ry="1.22" fill="#155015"/><ellipse cx="436.19" cy="535.15" rx="0.48" ry="1.43" fill="#144b13"/><ellipse cx="421.71" cy="510.35" rx="0.6" ry="1.44" fill="#144c13"/><ellipse cx="403.46" cy="539.75" rx="0.61" ry="1.38" fill="#185917"/><ellipse cx="414.01" cy="546.59" rx="0.55" ry="1.39" fill="#1e671c"/><ellipse cx="434.29" cy="548.21" rx="0.59" ry="1.55" fill="#318a2e"/><ellipse cx="426.11" cy="547.1" rx="0.67" ry="1.09" fill="#3e9d3a"/><ellipse cx="423.28" cy="526.62" rx="0.67" ry="1.1" fill="#185817"/><ellipse cx="429.01" cy="528.58" rx="0.65" ry="1.55" fill="#1f6a1e"/><ellipse cx="440.38" cy="548.66" rx="0.49" ry="1.5" fill="#338d30"/><ellipse cx="420.32" cy="546.35" rx="0.53" ry="0.92" fill="#206c1e"/><ellipse cx="419.29" cy="530.28" rx="0.44" ry="1.34" fill="#1a5f19"/><ellipse cx="403.06" cy="516.06" rx="0.52" ry="1.35" fill="#206c1e"/><ellipse cx="421.72" cy="524.61" rx="0.41" ry="1.4" fill="#154f14"/><ellipse cx="439.59" cy="520.38" rx="0.51" ry="1.57" fill="#1c631b"/><ellipse cx="420.22" cy="540.66" rx="0.45" ry="1.09" fill="#124312"/><ellipse cx="415.18" cy="525.04" rx="0.74" ry="1.3" fill="#1d671c"/><ellipse cx="423.57" cy="547.26" rx="0.61" ry="1.65" fill="#2a7e27"/><ellipse cx="413.78" cy="510.72" rx="0.59" ry="1.42" fill="#3e9b39"/><ellipse cx="402.91" cy="538.65" rx="0.63" ry="1.16" fill="#1d651c"/><ellipse cx="437.48" cy="523.83" rx="0.71" ry="1.1" fill="#195c18"/><ellipse cx="411.2" cy="528.49" rx="0.44" ry="1.09" fill="#3f9e3b"/><ellipse cx="432.51" cy="512.26" rx="0.67" ry="1.54" fill="#1f691d"/><ellipse cx="432.4" cy="513.92" rx="0.52" ry="1.63" fill="#399535"/><ellipse cx="419.35" cy="544.42" rx="0.49" ry="1.04" fill="#216f20"/><ellipse cx="420.36" cy="511.26" rx="0.71" ry="1.42" fill="#165215"/><ellipse cx="435.24" cy="515.24" rx="0.56" ry="1" fill="#216f20"/><ellipse cx="410.9" cy="545.62" rx="0.58" ry="1.45" fill="#2e862b"/><ellipse cx="435.15" cy="546.88" rx="0.42" ry="1.68" fill="#277a25"/><ellipse cx="406.89" cy="518.76" rx="0.58" ry="1.42" fill="#155014"/><ellipse cx="418.88" cy="527.82" rx="0.65" ry="1.38" fill="#155015"/><ellipse cx="412.74" cy="542.14" rx="0.72" ry="1.79" fill="#3c9a38"/><ellipse cx="403" cy="524.61" rx="0.49" ry="1.57" fill="#206c1e"/><ellipse cx="436.94" cy="514.76" rx="0.74" ry="1.7" fill="#237221"/><ellipse cx="418.5" cy="513.42" rx="0.58" ry="1.61" fill="#206d1f"/><ellipse cx="407.75" cy="520.31" rx="0.4" ry="1.45" fill="#3f9e3b"/><ellipse cx="404.06" cy="538.87" rx="0.72" ry="1.1" fill="#1f6a1d"/><ellipse cx="435.83" cy="518.27" rx="0.43" ry="0.97" fill="#134712"/><ellipse cx="415.98" cy="547.6" rx="0.65" ry="0.93" fill="#1c641b"/><ellipse cx="421.14" cy="530.55" rx="0.6" ry="1.3" fill="#144c14"/><ellipse cx="413.49" cy="542.02" rx="0.44" ry="1" fill="#2c832a"/><ellipse cx="402.33" cy="519.68" rx="0.74" ry="1.77" fill="#297e27"/><ellipse cx="435.3" cy="514.2" rx="0.67" ry="1.33" fill="#328c2f"/><ellipse cx="440.62" cy="532.9" rx="0.48" ry="1.02" fill="#154e14"/><ellipse cx="424.99" cy="533.89" rx="0.4" ry="0.91" fill="#379233"/><ellipse cx="439.69" cy="519.63" rx="0.7" ry="1" fill="#195b18"/><ellipse cx="432.39" cy="544.63" rx="0.61" ry="0.91" fill="#257723"/><ellipse cx="424.83" cy="533.48" rx="0.58" ry="1" fill="#318a2e"/><ellipse cx="409.24" cy="535.03" rx="0.44" ry="1.13" fill="#144a13"/><ellipse cx="432.53" cy="530.83" rx="0.74" ry="1.42" fill="#1c641b"/><ellipse cx="409.89" cy="531.58" rx="0.53" ry="1.29" fill="#369233"/><ellipse cx="423.64" cy="548.2" rx="0.46" ry="1.42" fill="#297e27"/><ellipse cx="413.25" cy="527.95" rx="0.41" ry="1.36" fill="#2e852b"/><ellipse cx="412.95" cy="532.9" rx="0.56" ry="1.47" fill="#348f31"/><ellipse cx="411.92" cy="519.39" rx="0.59" ry="1.1" fill="#237221"/><ellipse cx="431.26" cy="528.98" rx="0.49" ry="1.65" fill="#1c641b"/><ellipse cx="436.82" cy="546.26" rx="0.42" ry="1.47" fill="#185a17"/><ellipse cx="401.2" cy="543.04" rx="0.52" ry="1.3" fill="#2c8229"/><ellipse cx="427.93" cy="515.61" rx="0.68" ry="1.51" fill="#1d651b"/><ellipse cx="423.96" cy="513.37" rx="0.49" ry="0.93" fill="#175717"/><ellipse cx="426.18" cy="531.87" rx="0.59" ry="1.73" fill="#3b9837"/><ellipse cx="419.24" cy="529.69" rx="0.56" ry="1.74" fill="#195d18"/><ellipse cx="420" cy="509.38" rx="0.47" ry="1.46" fill="#1c641b"/><ellipse cx="420.87" cy="528.04" rx="0.67" ry="0.98" fill="#3b9937"/><ellipse cx="401.44" cy="536.91" rx="0.63" ry="1.35" fill="#277a25"/><ellipse cx="401.65" cy="527.1" rx="0.61" ry="0.94" fill="#359032"/><ellipse cx="405.25" cy="544.95" rx="0.46" ry="1.54" fill="#257523"/><ellipse cx="437.74" cy="543.39" rx="0.68" ry="0.98" fill="#2a7f27"/><ellipse cx="419.02" cy="541.23" rx="0.45" ry="1.68" fill="#1c621a"/><ellipse cx="428.81" cy="509.59" rx="0.6" ry="1.76" fill="#134913"/><ellipse cx="425.28" cy="543.82" rx="0.6" ry="1.06" fill="#144d14"/><ellipse cx="413.68" cy="515.18" rx="0.42" ry="1.49" fill="#216e1f"/><ellipse cx="426.44" cy="544.95" rx="0.43" ry="1.68" fill="#318a2e"/><ellipse cx="422.24" cy="546.19" rx="0.43" ry="1.53" fill="#227020"/><ellipse cx="407.23" cy="548.07" rx="0.72" ry="1.34" fill="#247522"/><ellipse cx="413.45" cy="535.39" rx="0.56" ry="1.15" fill="#2d852b"/><ellipse cx="417.27" cy="537.46" rx="0.46" ry="1.34" fill="#185817"/><ellipse cx="426.91" cy="511.93" rx="0.74" ry="1.14" fill="#195c18"/><ellipse cx="431.54" cy="521.34" rx="0.57" ry="1.68" fill="#144b13"/><ellipse cx="431.75" cy="511.19" rx="0.62" ry="1.33" fill="#2d842a"/><ellipse cx="427.19" cy="529.86" rx="0.64" ry="1.02" fill="#165416"/><ellipse cx="412.78" cy="542.85" rx="0.58" ry="1.54" fill="#267724"/><ellipse cx="420.19" cy="524.43" rx="0.41" ry="1.22" fill="#257623"/><ellipse cx="401.8" cy="548.53" rx="0.63" ry="1.04" fill="#3a9736"/><ellipse cx="434.92" cy="520.45" rx="0.63" ry="1.44" fill="#338d30"/><ellipse cx="430.3" cy="519.84" rx="0.59" ry="1.58" fill="#359032"/><ellipse cx="434.29" cy="519.33" rx="0.53" ry="0.97" fill="#1e691d"/><ellipse cx="435.75" cy="536.31" rx="0.59" ry="1.69" fill="#227020"/><ellipse cx="403.03" cy="523.4" rx="0.59" ry="1.35" fill="#2c8229"/><ellipse cx="410.7" cy="518.09" rx="0.52" ry="1.74" fill="#2b8129"/><ellipse cx="436.82" cy="547.53" rx="0.58" ry="0.99" fill="#195c18"/><ellipse cx="414.79" cy="512.24" rx="0.73" ry="1.59" fill="#227121"/><ellipse cx="414.97" cy="520.18" rx="0.42" ry="1.66" fill="#3c9938"/><ellipse cx="434.95" cy="512.01" rx="0.63" ry="1.25" fill="#3d9b39"/><ellipse cx="417.47" cy="533.28" rx="0.7" ry="1.71" fill="#247422"/><ellipse cx="413.46" cy="509.64" rx="0.63" ry="1.49" fill="#328b2e"/><ellipse cx="403.22" cy="512.29" rx="0.53" ry="1.33" fill="#399635"/><ellipse cx="439.72" cy="516.98" rx="0.42" ry="1.41" fill="#297e27"/><ellipse cx="430.19" cy="515.5" rx="0.74" ry="1.64" fill="#30892d"/><ellipse cx="432.3" cy="546.63" rx="0.59" ry="1.64" fill="#2e852b"/><ellipse cx="432.94" cy="534.09" rx="0.46" ry="1.2" fill="#2b8128"/><ellipse cx="413.41" cy="543.14" rx="0.5" ry="1.79" fill="#328b2f"/><ellipse cx="402.6" cy="511.73" rx="0.43" ry="1.75" fill="#1b611a"/><ellipse cx="414.76" cy="524.6" rx="0.59" ry="1.47" fill="#369233"/><ellipse cx="418.06" cy="527.43" rx="0.5" ry="1.37" fill="#3d9b39"/><ellipse cx="419.63" cy="514.86" rx="0.58" ry="1.62" fill="#155015"/><ellipse cx="417.74" cy="511.63" rx="0.45" ry="1.7" fill="#3c9938"/><ellipse cx="402.03" cy="534.9" rx="0.49" ry="1.28" fill="#155015"/><ellipse cx="430.87" cy="526.45" rx="0.54" ry="1.37" fill="#1f6a1d"/><ellipse cx="411.6" cy="546.85" rx="0.45" ry="1.39" fill="#175416"/><ellipse cx="414.46" cy="537.72" rx="0.64" ry="1.23" fill="#134712"/><ellipse cx="437.85" cy="521.12" rx="0.51" ry="1.38" fill="#1f6b1e"/><ellipse cx="411.61" cy="535.68" rx="0.65" ry="1.16" fill="#1e691d"/><ellipse cx="418.74" cy="531.25" rx="0.63" ry="1.29" fill="#2e852b"/><ellipse cx="403.69" cy="513.72" rx="0.46" ry="1.07" fill="#155015"/></g>
<rect x="219" y="552.5" width="43" height="43" fill="#0a0c0a"/>
<rect x="264" y="552.5" width="43" height="43" fill="#0a120b"/>
<g filter="url(#blur3)"><ellipse cx="292.08" cy="567.73" rx="0.48" ry="1.12" fill="#0f280f"/><ellipse cx="272.63" cy="559.99" rx="0.6" ry="1.13" fill="#0f270f"/><ellipse cx="298.1" cy="580.92" rx="0.61" ry="1.49" fill="#0f260f"/><ellipse cx="283.1" cy="557.91" rx="0.73" ry="1.24" fill="#0f260f"/><ellipse cx="291.14" cy="557.78" rx="0.7" ry="1.24" fill="#0f280f"/><ellipse cx="280.3" cy="574.51" rx="0.47" ry="1.02" fill="#0f250f"/><ellipse cx="293.09" cy="574.37" rx="0.74" ry="1.69" fill="#0f290f"/><ellipse cx="303.55" cy="587.32" rx="0.45" ry="1.78" fill="#0f240f"/></g>
<rect x="309" y="552.5" width="43" height="43" fill="#09140a"/>
<g filter="url(#blur3)"><ellipse cx="345.68" cy="578.56" rx="0.55" ry="1.28" fill="#134612"/><ellipse cx="316.12" cy="575.89" rx="0.44" ry="1.68" fill="#103a10"/><ellipse cx="333.53" cy="588.82" rx="0.6" ry="1.15" fill="#103a10"/><ellipse cx="343.93" cy="562.53" rx="0.59" ry="1.19" fill="#134712"/><ellipse cx="313.45" cy="573.48" rx="0.69" ry="1.08" fill="#124312"/><ellipse cx="317.73" cy="566.34" rx="0.48" ry="1.47" fill="#144d14"/><ellipse cx="311.5" cy="557.54" rx="0.57" ry="1" fill="#134a13"/><ellipse cx="329.4" cy="591.36" rx="0.59" ry="1.28" fill="#113e11"/><ellipse cx="330.72" cy="556.01" rx="0.6" ry="1.21" fill="#155015"/><ellipse cx="321.75" cy="561.67" rx="0.69" ry="1.24" fill="#165215"/><ellipse cx="334.69" cy="576.07" rx="0.41" ry="1.56" fill="#103710"/><ellipse cx="316.81" cy="576.56" rx="0.41" ry="1.05" fill="#0f300f"/><ellipse cx="336.74" cy="578.44" rx="0.63" ry="1.37" fill="#165416"/><ellipse cx="310.73" cy="592.05" rx="0.7" ry="0.94" fill="#124211"/><ellipse cx="344.11" cy="573.05" rx="0.54" ry="0.97" fill="#103710"/><ellipse cx="333.78" cy="562.93" rx="0.46" ry="1.52" fill="#134913"/><ellipse cx="335.27" cy="582.34" rx="0.5" ry="1.51" fill="#165315"/><ellipse cx="326.33" cy="589.52" rx="0.67" ry="1.44" fill="#154e14"/><ellipse cx="320.82" cy="590.07" rx="0.73" ry="1.2" fill="#165315"/><ellipse cx="343.57" cy="581.05" rx="0.68" ry="1.31" fill="#154f14"/><ellipse cx="326.24" cy="585.65" rx="0.59" ry="1.69" fill="#134813"/><ellipse cx="311.49" cy="554.83" rx="0.43" ry="1.66" fill="#114111"/><ellipse cx="313.78" cy="589.06" rx="0.45" ry="1.58" fill="#103810"/><ellipse cx="337.71" cy="570.47" rx="0.59" ry="1.75" fill="#124612"/><ellipse cx="330.81" cy="575.56" rx="0.54" ry="1.52" fill="#114111"/><ellipse cx="314.73" cy="581.58" rx="0.67" ry="1.39" fill="#165215"/><ellipse cx="324.55" cy="558.15" rx="0.59" ry="1.69" fill="#0f330f"/><ellipse cx="345.36" cy="561.52" rx="0.68" ry="1.33" fill="#144b13"/><ellipse cx="345.05" cy="561.66" rx="0.58" ry="1.55" fill="#113c10"/><ellipse cx="328.42" cy="566.21" rx="0.54" ry="1.28" fill="#155014"/><ellipse cx="319.28" cy="573.33" rx="0.53" ry="1.5" fill="#134a13"/><ellipse cx="330.23" cy="554.77" rx="0.5" ry="1.39" fill="#165315"/><ellipse cx="349.13" cy="562.44" rx="0.47" ry="1.04" fill="#0f320f"/><ellipse cx="344.76" cy="574.68" rx="0.5" ry="1.36" fill="#0f310f"/><ellipse cx="317.28" cy="566.37" rx="0.56" ry="1.11" fill="#155115"/><ellipse cx="334.46" cy="558.74" rx="0.63" ry="0.98" fill="#124312"/><ellipse cx="332.47" cy="566.49" rx="0.62" ry="1.72" fill="#144b13"/><ellipse cx="334.85" cy="561.51" rx="0.65" ry="1.63" fill="#103610"/><ellipse cx="312.74" cy="570.73" rx="0.56" ry="1.69" fill="#103a10"/><ellipse cx="332.92" cy="583.62" rx="0.5" ry="1.46" fill="#144c13"/><ellipse cx="325.43" cy="572.99" rx="0.63" ry="1.05" fill="#124312"/><ellipse cx="344.24" cy="560.64" rx="0.7" ry="1.79" fill="#103b10"/><ellipse cx="325.09" cy="591.81" rx="0.73" ry="1.08" fill="#0f310f"/><ellipse cx="311.62" cy="584.32" rx="0.66" ry="0.91" fill="#103510"/><ellipse cx="315.23" cy="568.39" rx="0.56" ry="1.21" fill="#0f330f"/><ellipse cx="340.19" cy="573.72" rx="0.7" ry="1.05" fill="#165315"/><ellipse cx="347.44" cy="589.56" rx="0.58" ry="1.05" fill="#124412"/><ellipse cx="323.23" cy="562.97" rx="0.61" ry="1.19" fill="#103710"/><ellipse cx="341.37" cy="576.88" rx="0.43" ry="1.66" fill="#154e14"/><ellipse cx="330.81" cy="579.21" rx="0.64" ry="1.27" fill="#103810"/><ellipse cx="339.49" cy="577.32" rx="0.51" ry="1.58" fill="#10350f"/><ellipse cx="310.85" cy="579.19" rx="0.65" ry="1.2" fill="#124412"/><ellipse cx="329.57" cy="573.09" rx="0.43" ry="1.36" fill="#144b13"/><ellipse cx="320.74" cy="577.52" rx="0.47" ry="1.11" fill="#103910"/><ellipse cx="346.53" cy="568.62" rx="0.66" ry="1.14" fill="#155015"/></g>
<rect x="354" y="552.5" width="43" height="43" fill="#0a160b"/>
<g filter="url(#blur3)"><ellipse cx="377.69" cy="554.64" rx="0.62" ry="1" fill="#1f6a1d"/><ellipse cx="376.27" cy="573.81" rx="0.5" ry="1.72" fill="#195b18"/><ellipse cx="380.48" cy="557.16" rx="0.71" ry="1.17" fill="#1c631b"/><ellipse cx="384.08" cy="588.19" rx="0.42" ry="1.65" fill="#1e671c"/><ellipse cx="365.28" cy="585.89" rx="0.56" ry="1.71" fill="#195c18"/><ellipse cx="387.81" cy="593.48" rx="0.6" ry="1.56" fill="#1f6b1e"/><ellipse cx="382.42" cy="570.07" rx="0.58" ry="1.09" fill="#165215"/><ellipse cx="365.8" cy="587.58" rx="0.64" ry="1.52" fill="#1d651b"/><ellipse cx="375.91" cy="576.88" rx="0.4" ry="1.3" fill="#195b18"/><ellipse cx="394.57" cy="562.4" rx="0.43" ry="1.13" fill="#155015"/><ellipse cx="388.66" cy="555.59" rx="0.68" ry="1.68" fill="#1c621a"/><ellipse cx="365.64" cy="591" rx="0.56" ry="1.76" fill="#144b13"/><ellipse cx="377.31" cy="581.13" rx="0.4" ry="1.14" fill="#113c10"/><ellipse cx="359.49" cy="586.76" rx="0.74" ry="1.51" fill="#124412"/><ellipse cx="362.99" cy="582.3" rx="0.58" ry="0.97" fill="#134813"/><ellipse cx="389.01" cy="585.32" rx="0.64" ry="1.21" fill="#175616"/><ellipse cx="360.38" cy="567.11" rx="0.6" ry="1.02" fill="#1a5f19"/><ellipse cx="364.97" cy="573.02" rx="0.42" ry="1.3" fill="#103710"/><ellipse cx="360.64" cy="589.32" rx="0.66" ry="1.62" fill="#113d11"/><ellipse cx="368.01" cy="575.66" rx="0.62" ry="1.25" fill="#206d1f"/><ellipse cx="394.82" cy="564.53" rx="0.51" ry="1.28" fill="#1f6b1e"/><ellipse cx="368.02" cy="579.99" rx="0.64" ry="1.06" fill="#1e671c"/><ellipse cx="395.41" cy="582.78" rx="0.7" ry="1" fill="#165215"/><ellipse cx="379.48" cy="585.26" rx="0.64" ry="0.96" fill="#1b611a"/><ellipse cx="374.62" cy="564.89" rx="0.54" ry="1.31" fill="#185817"/><ellipse cx="377.04" cy="577.48" rx="0.5" ry="1.15" fill="#1e671c"/><ellipse cx="362.69" cy="558.73" rx="0.72" ry="1.01" fill="#1d651b"/><ellipse cx="369.83" cy="589.93" rx="0.74" ry="1.79" fill="#1d661c"/><ellipse cx="367.53" cy="556.92" rx="0.58" ry="0.91" fill="#124412"/><ellipse cx="365.5" cy="572.93" rx="0.45" ry="1.01" fill="#195c18"/><ellipse cx="368.61" cy="557.88" rx="0.44" ry="1.62" fill="#113d11"/><ellipse cx="390.89" cy="555.98" rx="0.7" ry="1.49" fill="#1c631a"/><ellipse cx="367.37" cy="586.61" rx="0.42" ry="1.76" fill="#103a10"/><ellipse cx="364.19" cy="590.36" rx="0.42" ry="0.98" fill="#1b6019"/><ellipse cx="381.44" cy="560.05" rx="0.64" ry="1.11" fill="#195b18"/><ellipse cx="374.55" cy="562.65" rx="0.62" ry="1.52" fill="#1d661c"/><ellipse cx="380.44" cy="556.7" rx="0.67" ry="1.36" fill="#1e671c"/><ellipse cx="379.17" cy="573.7" rx="0.59" ry="1.15" fill="#1b6019"/><ellipse cx="376.16" cy="562.72" rx="0.58" ry="1.68" fill="#103610"/><ellipse cx="384.41" cy="562.54" rx="0.6" ry="1.42" fill="#165215"/><ellipse cx="373.88" cy="574.37" rx="0.71" ry="1.36" fill="#195c18"/><ellipse cx="387.04" cy="581.09" rx="0.49" ry="1.18" fill="#113d10"/><ellipse cx="369.58" cy="573.65" rx="0.75" ry="1.56" fill="#134612"/><ellipse cx="370.27" cy="581.88" rx="0.46" ry="1.47" fill="#1f691d"/><ellipse cx="394.13" cy="569.09" rx="0.68" ry="1.19" fill="#1d671c"/><ellipse cx="361.06" cy="586.07" rx="0.52" ry="1.32" fill="#144d14"/><ellipse cx="384.76" cy="589.53" rx="0.67" ry="1.06" fill="#1e691d"/><ellipse cx="370.19" cy="554.57" rx="0.52" ry="1.06" fill="#124111"/><ellipse cx="374.53" cy="559.49" rx="0.54" ry="1.12" fill="#185a18"/><ellipse cx="383.05" cy="567.23" rx="0.69" ry="1.58" fill="#103710"/><ellipse cx="390.86" cy="565.88" rx="0.64" ry="1.03" fill="#124512"/><ellipse cx="394.44" cy="580.04" rx="0.42" ry="1.15" fill="#165416"/><ellipse cx="372.39" cy="592.94" rx="0.61" ry="0.97" fill="#113e11"/><ellipse cx="394.63" cy="583.74" rx="0.66" ry="1.06" fill="#1c631b"/><ellipse cx="365" cy="555.85" rx="0.43" ry="1.07" fill="#175516"/><ellipse cx="362.27" cy="590.55" rx="0.5" ry="1.77" fill="#1b621a"/><ellipse cx="361.67" cy="559.84" rx="0.68" ry="0.99" fill="#144b13"/><ellipse cx="387.23" cy="575.74" rx="0.52" ry="0.94" fill="#1c621a"/><ellipse cx="359.22" cy="582.79" rx="0.67" ry="1.08" fill="#165215"/><ellipse cx="366.54" cy="562.63" rx="0.65" ry="1.04" fill="#1d651b"/><ellipse cx="384.66" cy="555.83" rx="0.49" ry="1.59" fill="#155014"/><ellipse cx="384.38" cy="581.24" rx="0.42" ry="1.48" fill="#114111"/><ellipse cx="383.4" cy="554.67" rx="0.71" ry="1.23" fill="#1c641b"/><ellipse cx="376.27" cy="579.95" rx="0.63" ry="1.36" fill="#1f691d"/><ellipse cx="386.41" cy="573.6" rx="0.59" ry="1.27" fill="#103810"/><ellipse cx="368.81" cy="569.83" rx="0.51" ry="1.57" fill="#124211"/><ellipse cx="391.15" cy="572.28" rx="0.44" ry="1.36" fill="#1d651b"/><ellipse cx="385.42" cy="585.08" rx="0.46" ry="1.76" fill="#144b13"/><ellipse cx="379.94" cy="580.03" rx="0.44" ry="1.41" fill="#134913"/><ellipse cx="371.63" cy="589.37" rx="0.66" ry="1.41" fill="#195b18"/><ellipse cx="385.77" cy="559.58" rx="0.6" ry="1.44" fill="#206d1f"/><ellipse cx="362.9" cy="557.89" rx="0.65" ry="1.5" fill="#1a5d19"/><ellipse cx="365.54" cy="573.48" rx="0.62" ry="1.72" fill="#1b611a"/><ellipse cx="358.82" cy="584.83" rx="0.62" ry="1.38" fill="#103710"/><ellipse cx="358.21" cy="570.81" rx="0.7" ry="0.97" fill="#195b18"/><ellipse cx="375.89" cy="585.63" rx="0.71" ry="1.74" fill="#113c10"/><ellipse cx="369.11" cy="562.53" rx="0.48" ry="1.28" fill="#113e11"/><ellipse cx="383.91" cy="591.21" rx="0.73" ry="1.28" fill="#175516"/><ellipse cx="381.9" cy="554.31" rx="0.41" ry="1.02" fill="#144d14"/><ellipse cx="388.03" cy="558.81" rx="0.58" ry="1.37" fill="#134712"/><ellipse cx="356.44" cy="558.65" rx="0.54" ry="0.98" fill="#195b18"/><ellipse cx="374.63" cy="568.97" rx="0.42" ry="1.06" fill="#216d1f"/><ellipse cx="358.23" cy="576.02" rx="0.67" ry="1" fill="#206b1e"/><ellipse cx="377.11" cy="568.4" rx="0.65" ry="1.44" fill="#206c1e"/><ellipse cx="365.62" cy="571.5" rx="0.53" ry="1.41" fill="#165315"/><ellipse cx="358.86" cy="570.87" rx="0.54" ry="1.36" fill="#206d1f"/><ellipse cx="385.79" cy="586.31" rx="0.53" ry="1.54" fill="#1a5f19"/><ellipse cx="363.3" cy="578.61" rx="0.47" ry="1.06" fill="#103710"/><ellipse cx="369.5" cy="583.38" rx="0.71" ry="0.98" fill="#103710"/><ellipse cx="393.79" cy="591.69" rx="0.69" ry="1.75" fill="#185817"/><ellipse cx="373.38" cy="588.02" rx="0.67" ry="1.48" fill="#103810"/><ellipse cx="386.73" cy="560.18" rx="0.58" ry="1.45" fill="#103b10"/><ellipse cx="383.11" cy="561.36" rx="0.74" ry="1.13" fill="#175516"/><ellipse cx="388.48" cy="592.16" rx="0.55" ry="1.28" fill="#195b18"/><ellipse cx="374.18" cy="559.21" rx="0.5" ry="1.06" fill="#103a10"/><ellipse cx="391.72" cy="568.57" rx="0.6" ry="1.71" fill="#1d671c"/><ellipse cx="391.6" cy="582.32" rx="0.49" ry="1.41" fill="#154f14"/><ellipse cx="367.86" cy="586.94" rx="0.62" ry="1.21" fill="#103810"/><ellipse cx="372.26" cy="575.67" rx="0.75" ry="1.22" fill="#206c1e"/><ellipse cx="394.07" cy="591.96" rx="0.6" ry="1.08" fill="#165315"/><ellipse cx="387.24" cy="573.43" rx="0.72" ry="1.46" fill="#1b601a"/><ellipse cx="383.42" cy="575.92" rx="0.56" ry="0.96" fill="#113d11"/><ellipse cx="362.53" cy="592.93" rx="0.45" ry="1.29" fill="#144b13"/><ellipse cx="357.64" cy="578.22" rx="0.48" ry="1.47" fill="#124312"/><ellipse cx="392.77" cy="554.84" rx="0.6" ry="1.34" fill="#1a5e19"/><ellipse cx="372.31" cy="554.74" rx="0.58" ry="1.2" fill="#134913"/><ellipse cx="395.56" cy="567.7" rx="0.68" ry="1.62" fill="#1d651b"/><ellipse cx="375.17" cy="573.98" rx="0.44" ry="1.1" fill="#1d651b"/><ellipse cx="355.73" cy="573.66" rx="0.73" ry="1.74" fill="#154f14"/><ellipse cx="371.68" cy="573.84" rx="0.66" ry="1.37" fill="#113c10"/><ellipse cx="362.01" cy="588.85" rx="0.47" ry="1.33" fill="#103810"/><ellipse cx="395.68" cy="559.76" rx="0.68" ry="1.2" fill="#124512"/><ellipse cx="392.92" cy="555.04" rx="0.51" ry="1.66" fill="#124312"/><ellipse cx="359.35" cy="580.85" rx="0.74" ry="1.63" fill="#1e671c"/><ellipse cx="357.25" cy="573.33" rx="0.44" ry="1.12" fill="#124211"/></g>
<rect x="399" y="552.5" width="43" height="43" fill="#0a170b"/>
<g filter="url(#blur3)"><ellipse cx="430.05" cy="576.96" rx="0.5" ry="0.96" fill="#134813"/><ellipse cx="437.8" cy="584.01" rx="0.74" ry="1.78" fill="#1c621a"/><ellipse cx="408.59" cy="564.32" rx="0.62" ry="1.44" fill="#144d14"/><ellipse cx="421.24" cy="584.79" rx="0.51" ry="1.5" fill="#1e671c"/><ellipse cx="438.74" cy="556.27" rx="0.45" ry="1.57" fill="#1c631b"/><ellipse cx="417.72" cy="587.35" rx="0.74" ry="1.42" fill="#237221"/><ellipse cx="424.38" cy="592.69" rx="0.52" ry="0.99" fill="#287c26"/><ellipse cx="437.61" cy="556.81" rx="0.73" ry="1.5" fill="#2e852b"/><ellipse cx="438.72" cy="578.23" rx="0.61" ry="1.1" fill="#267824"/><ellipse cx="403.4" cy="583.58" rx="0.44" ry="1.4" fill="#1b611a"/><ellipse cx="410.96" cy="564.64" rx="0.62" ry="1.57" fill="#2c8229"/><ellipse cx="433.37" cy="571.51" rx="0.55" ry="1.22" fill="#1b611a"/><ellipse cx="431.81" cy="589.15" rx="0.65" ry="1.09" fill="#175516"/><ellipse cx="400.52" cy="581.3" rx="0.52" ry="1.8" fill="#277a25"/><ellipse cx="429.39" cy="566.95" rx="0.7" ry="1.03" fill="#267924"/><ellipse cx="437.22" cy="571.41" rx="0.53" ry="1.38" fill="#165315"/><ellipse cx="421.61" cy="565.9" rx="0.62" ry="1.55" fill="#124211"/><ellipse cx="428.43" cy="569.92" rx="0.41" ry="1.02" fill="#2b8028"/><ellipse cx="400.94" cy="576.15" rx="0.48" ry="1.37" fill="#1d661c"/><ellipse cx="400.35" cy="555.73" rx="0.71" ry="0.96" fill="#30882d"/><ellipse cx="426.82" cy="574.32" rx="0.69" ry="1.48" fill="#1e681c"/><ellipse cx="438.4" cy="581.16" rx="0.44" ry="1.64" fill="#2e852b"/><ellipse cx="413.17" cy="590.58" rx="0.74" ry="1.58" fill="#287b25"/><ellipse cx="416.07" cy="574.94" rx="0.42" ry="1.39" fill="#277b25"/><ellipse cx="423.27" cy="582.59" rx="0.61" ry="1.56" fill="#185817"/><ellipse cx="415.69" cy="581.16" rx="0.53" ry="1.37" fill="#2d842a"/><ellipse cx="419.85" cy="587.34" rx="0.5" ry="1.25" fill="#165315"/><ellipse cx="426.68" cy="560.39" rx="0.58" ry="1.56" fill="#318a2e"/><ellipse cx="416.94" cy="555.37" rx="0.6" ry="0.98" fill="#195c18"/><ellipse cx="439.99" cy="577.43" rx="0.41" ry="1.12" fill="#1b611a"/><ellipse cx="413.89" cy="579.89" rx="0.57" ry="1.14" fill="#144b13"/><ellipse cx="423.13" cy="581.41" rx="0.66" ry="1.46" fill="#1d661c"/><ellipse cx="403.6" cy="580.17" rx="0.67" ry="1.74" fill="#1c631b"/><ellipse cx="414.47" cy="587.79" rx="0.63" ry="0.9" fill="#155014"/><ellipse cx="433.69" cy="571.88" rx="0.57" ry="1.24" fill="#1b611a"/><ellipse cx="409.54" cy="581.57" rx="0.42" ry="1.14" fill="#216e1f"/><ellipse cx="438.02" cy="565.45" rx="0.6" ry="1.24" fill="#175416"/><ellipse cx="438.67" cy="593.02" rx="0.48" ry="1.05" fill="#134813"/><ellipse cx="418.26" cy="565.49" rx="0.71" ry="0.96" fill="#237221"/><ellipse cx="401.26" cy="558.72" rx="0.45" ry="1.29" fill="#175616"/><ellipse cx="414.96" cy="582.96" rx="0.74" ry="1.28" fill="#30892d"/><ellipse cx="426.31" cy="559.51" rx="0.71" ry="1.7" fill="#206d1f"/><ellipse cx="405.89" cy="560.84" rx="0.64" ry="1.59" fill="#2d842a"/><ellipse cx="402.93" cy="578.67" rx="0.66" ry="1.62" fill="#113f11"/><ellipse cx="413.27" cy="554.41" rx="0.75" ry="1.46" fill="#257723"/><ellipse cx="415.06" cy="567.26" rx="0.74" ry="1.23" fill="#297d26"/><ellipse cx="409.17" cy="593.56" rx="0.55" ry="1.18" fill="#1a5f19"/><ellipse cx="429.63" cy="593.01" rx="0.7" ry="1.26" fill="#1c621a"/><ellipse cx="417.34" cy="585.91" rx="0.66" ry="1.53" fill="#30892d"/><ellipse cx="433.79" cy="590.51" rx="0.59" ry="1.25" fill="#2f882c"/><ellipse cx="400.48" cy="575.06" rx="0.4" ry="1.79" fill="#185917"/><ellipse cx="412.68" cy="591.02" rx="0.53" ry="1.61" fill="#113f11"/><ellipse cx="427.53" cy="580.81" rx="0.43" ry="1.65" fill="#1c641b"/><ellipse cx="431.1" cy="573.12" rx="0.68" ry="1.34" fill="#1f691d"/><ellipse cx="419.51" cy="573.39" rx="0.66" ry="1.2" fill="#257723"/><ellipse cx="431.72" cy="569.1" rx="0.53" ry="1.71" fill="#237221"/><ellipse cx="438.37" cy="584.94" rx="0.52" ry="1.29" fill="#195b18"/><ellipse cx="424.75" cy="555.63" rx="0.72" ry="0.96" fill="#1e681d"/><ellipse cx="436.39" cy="576.85" rx="0.65" ry="1.55" fill="#328b2f"/><ellipse cx="430.77" cy="570.89" rx="0.7" ry="1.69" fill="#134712"/><ellipse cx="429.49" cy="562.87" rx="0.58" ry="1.23" fill="#1c641b"/><ellipse cx="420.07" cy="572.33" rx="0.62" ry="1.78" fill="#318a2e"/><ellipse cx="437.08" cy="561.29" rx="0.53" ry="1.44" fill="#277a25"/><ellipse cx="423.06" cy="583.45" rx="0.64" ry="1.23" fill="#175516"/><ellipse cx="431.97" cy="573.75" rx="0.75" ry="1.15" fill="#227020"/><ellipse cx="400.39" cy="589.59" rx="0.63" ry="1.65" fill="#1d661c"/><ellipse cx="436.35" cy="569.51" rx="0.54" ry="1.55" fill="#318a2e"/><ellipse cx="433.97" cy="568.59" rx="0.53" ry="1.21" fill="#1a5e19"/><ellipse cx="416.93" cy="587.7" rx="0.75" ry="1.61" fill="#124211"/><ellipse cx="422.91" cy="579.6" rx="0.67" ry="1.69" fill="#175516"/><ellipse cx="415.71" cy="573.97" rx="0.49" ry="1.67" fill="#154f14"/><ellipse cx="426.27" cy="571.92" rx="0.46" ry="0.9" fill="#226f20"/><ellipse cx="414.7" cy="576.96" rx="0.59" ry="1.19" fill="#144c14"/><ellipse cx="410.86" cy="583.46" rx="0.66" ry="1.57" fill="#185a17"/><ellipse cx="415.45" cy="555.55" rx="0.59" ry="1.42" fill="#2a7f28"/><ellipse cx="428.03" cy="575.92" rx="0.4" ry="1.77" fill="#2d842a"/><ellipse cx="425.22" cy="570.35" rx="0.71" ry="1.44" fill="#2d842a"/><ellipse cx="400.59" cy="578.86" rx="0.6" ry="1.65" fill="#1a5e19"/><ellipse cx="405.55" cy="587.57" rx="0.49" ry="0.93" fill="#175616"/><ellipse cx="404.53" cy="564.85" rx="0.73" ry="1.05" fill="#1d671c"/><ellipse cx="411.93" cy="569" rx="0.52" ry="1.5" fill="#226f20"/><ellipse cx="406.3" cy="556.03" rx="0.65" ry="1.02" fill="#1f6b1e"/><ellipse cx="402.15" cy="580.65" rx="0.72" ry="1.52" fill="#124312"/><ellipse cx="406.71" cy="570.43" rx="0.43" ry="1.22" fill="#124211"/><ellipse cx="435.83" cy="590.14" rx="0.62" ry="1.43" fill="#267824"/><ellipse cx="420.94" cy="580.14" rx="0.54" ry="1.65" fill="#1c641b"/><ellipse cx="412.42" cy="570.29" rx="0.74" ry="1.21" fill="#237221"/><ellipse cx="417.79" cy="570.14" rx="0.52" ry="1.61" fill="#154e14"/><ellipse cx="407.83" cy="573.11" rx="0.6" ry="1.6" fill="#165416"/><ellipse cx="404.89" cy="573.46" rx="0.63" ry="1.51" fill="#144c14"/><ellipse cx="409.18" cy="563.38" rx="0.51" ry="1.7" fill="#175516"/><ellipse cx="435.68" cy="585.48" rx="0.56" ry="1.08" fill="#195c18"/><ellipse cx="418.89" cy="591.76" rx="0.54" ry="1.08" fill="#124512"/><ellipse cx="434.51" cy="566.18" rx="0.42" ry="1.52" fill="#1c641b"/><ellipse cx="421.07" cy="585.86" rx="0.66" ry="1.14" fill="#257623"/><ellipse cx="410.39" cy="577.85" rx="0.73" ry="1.55" fill="#124211"/><ellipse cx="420.23" cy="568.54" rx="0.59" ry="1.6" fill="#124412"/><ellipse cx="404.97" cy="558.2" rx="0.56" ry="1.61" fill="#237321"/><ellipse cx="416.91" cy="593" rx="0.51" ry="1.38" fill="#2c8129"/><ellipse cx="424.03" cy="572.05" rx="0.65" ry="1.64" fill="#297d27"/><ellipse cx="410.47" cy="574.19" rx="0.6" ry="0.91" fill="#1e681d"/><ellipse cx="433.18" cy="571.95" rx="0.7" ry="1.4" fill="#144a13"/><ellipse cx="430.26" cy="583.45" rx="0.72" ry="0.95" fill="#216e1f"/><ellipse cx="413.73" cy="560.75" rx="0.48" ry="0.93" fill="#216f20"/><ellipse cx="405.73" cy="561.17" rx="0.56" ry="1.32" fill="#1e681c"/><ellipse cx="400.7" cy="575.11" rx="0.43" ry="0.95" fill="#165115"/><ellipse cx="406.33" cy="570.09" rx="0.56" ry="1.05" fill="#144b13"/><ellipse cx="430.04" cy="588.81" rx="0.43" ry="1.77" fill="#175717"/><ellipse cx="403.61" cy="579.91" rx="0.57" ry="1.7" fill="#267824"/><ellipse cx="406.18" cy="582.69" rx="0.71" ry="1.66" fill="#2d842a"/><ellipse cx="417.92" cy="574.46" rx="0.53" ry="1.13" fill="#2a8028"/><ellipse cx="401.47" cy="562.34" rx="0.73" ry="1.18" fill="#134913"/><ellipse cx="414.51" cy="592.7" rx="0.55" ry="0.99" fill="#247322"/><ellipse cx="415.03" cy="565.76" rx="0.55" ry="1.78" fill="#2f872c"/><ellipse cx="411.17" cy="556.17" rx="0.43" ry="1.61" fill="#2d842a"/><ellipse cx="424.37" cy="565.48" rx="0.55" ry="1.79" fill="#2a7f27"/><ellipse cx="422.86" cy="591.49" rx="0.53" ry="1.52" fill="#2e862b"/><ellipse cx="429.76" cy="580.11" rx="0.64" ry="1.59" fill="#113f11"/><ellipse cx="408.06" cy="558.05" rx="0.59" ry="1" fill="#124312"/><ellipse cx="434.62" cy="570.66" rx="0.66" ry="1.29" fill="#328b2e"/><ellipse cx="407.61" cy="571.11" rx="0.7" ry="1.7" fill="#206d1f"/><ellipse cx="413.38" cy="555.22" rx="0.64" ry="1.48" fill="#227121"/><ellipse cx="432.81" cy="586.3" rx="0.69" ry="1.01" fill="#216e1f"/><ellipse cx="438.61" cy="580.56" rx="0.46" ry="1.48" fill="#124512"/><ellipse cx="412.63" cy="591.22" rx="0.57" ry="1.35" fill="#165315"/><ellipse cx="438.37" cy="566.27" rx="0.65" ry="1.41" fill="#2c832a"/><ellipse cx="438.61" cy="589.12" rx="0.59" ry="0.94" fill="#267824"/><ellipse cx="409.16" cy="579.94" rx="0.63" ry="1.21" fill="#134712"/><ellipse cx="415.93" cy="586.72" rx="0.66" ry="1.3" fill="#2a7f28"/><ellipse cx="421.96" cy="593.13" rx="0.61" ry="0.97" fill="#2e862b"/></g>
<rect x="219" y="597.5" width="43" height="43" fill="#0a0c0a"/>
<rect x="264" y="597.5" width="43" height="43" fill="#0a120b"/>
<g filter="url(#blur3)"><ellipse cx="301.81" cy="601.1" rx="0.63" ry="1.08" fill="#0f250f"/><ellipse cx="295.79" cy="626.35" rx="0.72" ry="1.8" fill="#0f250f"/><ellipse cx="291.87" cy="638" rx="0.57" ry="1.64" fill="#0f280f"/><ellipse cx="303.3" cy="626.73" rx="0.53" ry="1.53" fill="#0f250f"/><ellipse cx="280.06" cy="605.86" rx="0.45" ry="1.33" fill="#0f260f"/><ellipse cx="269.22" cy="627.93" rx="0.73" ry="1" fill="#0f250f"/><ellipse cx="290.83" cy="624.65" rx="0.62" ry="1.39" fill="#0f250f"/><ellipse cx="290.2" cy="606.59" rx="0.69" ry="1.46" fill="#0f260f"/></g>
<rect x="309" y="597.5" width="43" height="43" fill="#09140a"/>
<g filter="url(#blur3)"><ellipse cx="320.1" cy="612.46" rx="0.42" ry="1.33" fill="#155015"/><ellipse cx="331.04" cy="616.25" rx="0.44" ry="1.66" fill="#0f300f"/><ellipse cx="328.68" cy="610.79" rx="0.42" ry="0.97" fill="#114011"/><ellipse cx="343.85" cy="629.23" rx="0.51" ry="0.97" fill="#103710"/><ellipse cx="323.11" cy="619.83" rx="0.58" ry="1.66" fill="#144b13"/><ellipse cx="350.73" cy="621.66" rx="0.45" ry="1.51" fill="#0f310f"/><ellipse cx="315.49" cy="634.73" rx="0.42" ry="1.8" fill="#0f310f"/><ellipse cx="326.71" cy="621.17" rx="0.44" ry="1.2" fill="#124612"/><ellipse cx="325.17" cy="628.37" rx="0.64" ry="1.06" fill="#144c14"/><ellipse cx="328.94" cy="635.38" rx="0.52" ry="1.45" fill="#103610"/><ellipse cx="350.61" cy="600.3" rx="0.56" ry="1.38" fill="#134913"/><ellipse cx="344.32" cy="603.08" rx="0.51" ry="1.58" fill="#124612"/><ellipse cx="339.21" cy="615.68" rx="0.67" ry="1.53" fill="#103510"/><ellipse cx="333.08" cy="628.68" rx="0.49" ry="1.52" fill="#165315"/><ellipse cx="342.95" cy="609.78" rx="0.51" ry="1.76" fill="#155115"/><ellipse cx="333.84" cy="637.63" rx="0.67" ry="1.23" fill="#155015"/><ellipse cx="328.8" cy="622.44" rx="0.55" ry="1.71" fill="#144d14"/><ellipse cx="319" cy="619.82" rx="0.46" ry="1.16" fill="#10350f"/><ellipse cx="312.13" cy="621.75" rx="0.54" ry="1.62" fill="#134612"/><ellipse cx="332.36" cy="626.22" rx="0.52" ry="0.92" fill="#0f330f"/><ellipse cx="316.69" cy="632.78" rx="0.61" ry="1.24" fill="#10340f"/><ellipse cx="337.51" cy="633.64" rx="0.74" ry="1.77" fill="#154e14"/><ellipse cx="326.38" cy="638.23" rx="0.5" ry="1.2" fill="#144c13"/><ellipse cx="331.46" cy="632.61" rx="0.71" ry="1.5" fill="#0f330f"/><ellipse cx="334.28" cy="615.34" rx="0.54" ry="1.54" fill="#113e11"/><ellipse cx="328.18" cy="627.42" rx="0.43" ry="0.92" fill="#155015"/><ellipse cx="348.41" cy="606.92" rx="0.54" ry="1.1" fill="#144e14"/><ellipse cx="310.7" cy="616.19" rx="0.42" ry="0.91" fill="#124612"/><ellipse cx="321.87" cy="634.01" rx="0.49" ry="1.26" fill="#144b13"/><ellipse cx="327.11" cy="627.22" rx="0.52" ry="1.35" fill="#103a10"/><ellipse cx="319.83" cy="616.21" rx="0.58" ry="0.95" fill="#144b13"/><ellipse cx="324.37" cy="621.77" rx="0.54" ry="1.4" fill="#103810"/><ellipse cx="324.99" cy="606.5" rx="0.42" ry="1.72" fill="#155015"/><ellipse cx="314.06" cy="621.13" rx="0.54" ry="1.46" fill="#124412"/><ellipse cx="346.07" cy="611.87" rx="0.47" ry="1.69" fill="#0f320f"/><ellipse cx="334.51" cy="629.01" rx="0.51" ry="1.52" fill="#113e11"/><ellipse cx="333.26" cy="635.28" rx="0.52" ry="1.52" fill="#103510"/><ellipse cx="347.02" cy="617.69" rx="0.44" ry="1.48" fill="#144d14"/><ellipse cx="323.57" cy="626.62" rx="0.47" ry="1.14" fill="#103a10"/><ellipse cx="339.58" cy="627.37" rx="0.54" ry="0.96" fill="#165115"/><ellipse cx="343.03" cy="609.4" rx="0.57" ry="1.3" fill="#144a13"/><ellipse cx="311.45" cy="608.24" rx="0.56" ry="1.69" fill="#144b13"/><ellipse cx="342.96" cy="620.33" rx="0.4" ry="1.26" fill="#165416"/><ellipse cx="331.86" cy="601.42" rx="0.45" ry="1.42" fill="#155014"/><ellipse cx="321.21" cy="614.34" rx="0.5" ry="1.05" fill="#114111"/><ellipse cx="337.29" cy="623.97" rx="0.74" ry="1" fill="#0f320f"/><ellipse cx="319.26" cy="610.39" rx="0.57" ry="1.71" fill="#113d11"/><ellipse cx="314.31" cy="621.92" rx="0.49" ry="1.22" fill="#134712"/><ellipse cx="328.26" cy="634.25" rx="0.57" ry="0.96" fill="#144c14"/><ellipse cx="324.73" cy="631.48" rx="0.54" ry="1.47" fill="#114011"/><ellipse cx="311.84" cy="624.83" rx="0.44" ry="1.28" fill="#134913"/><ellipse cx="344.95" cy="609.64" rx="0.52" ry="1.4" fill="#124312"/><ellipse cx="326.07" cy="612.86" rx="0.64" ry="1.8" fill="#165215"/><ellipse cx="323.79" cy="617.68" rx="0.7" ry="1.23" fill="#113d11"/><ellipse cx="337.81" cy="606.27" rx="0.49" ry="1.72" fill="#124412"/></g>
<rect x="354" y="597.5" width="43" height="43" fill="#0a160b"/>
<g filter="url(#blur3)"><ellipse cx="370.08" cy="636.84" rx="0.52" ry="1.4" fill="#185917"/><ellipse cx="392.99" cy="626.62" rx="0.6" ry="1.46" fill="#1e681d"/><ellipse cx="360.88" cy="632.07" rx="0.63" ry="1.17" fill="#1a5d19"/><ellipse cx="386.18" cy="620.07" rx="0.75" ry="1.6" fill="#144a13"/><ellipse cx="382.76" cy="632.39" rx="0.53" ry="1.76" fill="#1b601a"/><ellipse cx="391.98" cy="625.75" rx="0.58" ry="0.94" fill="#155115"/><ellipse cx="391.3" cy="632.03" rx="0.56" ry="1.62" fill="#195a18"/><ellipse cx="356.06" cy="615.07" rx="0.61" ry="1.22" fill="#134612"/><ellipse cx="379.85" cy="634.66" rx="0.44" ry="0.91" fill="#155014"/><ellipse cx="389.12" cy="617.76" rx="0.41" ry="0.99" fill="#165115"/><ellipse cx="355.22" cy="634.59" rx="0.51" ry="1.33" fill="#103a10"/><ellipse cx="378.48" cy="608.06" rx="0.62" ry="1.79" fill="#1a5d19"/><ellipse cx="359" cy="610.96" rx="0.5" ry="1.09" fill="#113d11"/><ellipse cx="356.43" cy="631.1" rx="0.66" ry="1.63" fill="#134813"/><ellipse cx="387.53" cy="600.28" rx="0.7" ry="1.47" fill="#185a17"/><ellipse cx="379.72" cy="616.06" rx="0.59" ry="1.22" fill="#1e681d"/><ellipse cx="375.33" cy="617.87" rx="0.64" ry="1.65" fill="#124211"/><ellipse cx="381.74" cy="599.71" rx="0.67" ry="1.02" fill="#154f14"/><ellipse cx="375.72" cy="626.22" rx="0.52" ry="0.92" fill="#175717"/><ellipse cx="383.78" cy="605.85" rx="0.58" ry="1.55" fill="#195b18"/><ellipse cx="359.75" cy="637.67" rx="0.71" ry="1.07" fill="#1c631b"/><ellipse cx="384.44" cy="614.21" rx="0.64" ry="1.27" fill="#1b611a"/><ellipse cx="393.67" cy="616.57" rx="0.65" ry="1.04" fill="#165315"/><ellipse cx="391.57" cy="612.39" rx="0.45" ry="1.01" fill="#206c1e"/><ellipse cx="379.18" cy="608.78" rx="0.47" ry="1.55" fill="#165115"/><ellipse cx="385.14" cy="626.34" rx="0.42" ry="1.42" fill="#113f11"/><ellipse cx="358.51" cy="627.52" rx="0.73" ry="1.64" fill="#185817"/><ellipse cx="381.8" cy="631.9" rx="0.5" ry="0.96" fill="#175516"/><ellipse cx="383.76" cy="625.53" rx="0.58" ry="1.31" fill="#195d18"/><ellipse cx="392.52" cy="614.13" rx="0.73" ry="1.59" fill="#114011"/><ellipse cx="391.59" cy="638.13" rx="0.45" ry="1.34" fill="#155115"/><ellipse cx="375.1" cy="614.57" rx="0.49" ry="1.77" fill="#1d661c"/><ellipse cx="363.81" cy="610.49" rx="0.48" ry="1.55" fill="#1e681d"/><ellipse cx="366.32" cy="615.42" rx="0.49" ry="1.64" fill="#165315"/><ellipse cx="393.4" cy="635.74" rx="0.41" ry="1.3" fill="#114111"/><ellipse cx="385.26" cy="620.86" rx="0.75" ry="1.51" fill="#227020"/><ellipse cx="365.81" cy="615.12" rx="0.54" ry="1.58" fill="#103b10"/><ellipse cx="368.04" cy="606.59" rx="0.71" ry="1.48" fill="#175717"/><ellipse cx="359.67" cy="616.31" rx="0.68" ry="1.28" fill="#124512"/><ellipse cx="373.21" cy="633.88" rx="0.56" ry="1.78" fill="#134913"/><ellipse cx="367.65" cy="620.56" rx="0.52" ry="1.47" fill="#1a5e19"/><ellipse cx="372.31" cy="632.05" rx="0.65" ry="1.42" fill="#185817"/><ellipse cx="383.51" cy="614.67" rx="0.53" ry="1.19" fill="#114011"/><ellipse cx="355.78" cy="629.6" rx="0.57" ry="1.53" fill="#175616"/><ellipse cx="357.9" cy="604.25" rx="0.41" ry="1.68" fill="#1b621a"/><ellipse cx="375.83" cy="637.4" rx="0.54" ry="1.21" fill="#1f6a1d"/><ellipse cx="372.82" cy="629.61" rx="0.65" ry="1.79" fill="#165315"/><ellipse cx="385.6" cy="619.53" rx="0.57" ry="1.42" fill="#1c631b"/><ellipse cx="372.27" cy="636.15" rx="0.6" ry="1.4" fill="#237221"/><ellipse cx="359.39" cy="621.58" rx="0.48" ry="1.6" fill="#216e1f"/><ellipse cx="365.54" cy="627.42" rx="0.61" ry="1.6" fill="#134813"/><ellipse cx="356.51" cy="632.4" rx="0.49" ry="1.18" fill="#175616"/><ellipse cx="377.71" cy="628.5" rx="0.42" ry="1.11" fill="#124211"/><ellipse cx="380.96" cy="615.18" rx="0.65" ry="1.23" fill="#1c641b"/><ellipse cx="379.14" cy="605.04" rx="0.63" ry="1.11" fill="#195b18"/><ellipse cx="382.26" cy="604.76" rx="0.59" ry="1.73" fill="#227120"/><ellipse cx="382.35" cy="607.76" rx="0.62" ry="1.24" fill="#1c631a"/><ellipse cx="383.33" cy="629.25" rx="0.48" ry="1.77" fill="#1a5f19"/><ellipse cx="392.13" cy="616.4" rx="0.75" ry="1.21" fill="#216e1f"/><ellipse cx="362.96" cy="608.92" rx="0.45" ry="1.11" fill="#165416"/><ellipse cx="384.93" cy="600.04" rx="0.54" ry="1.54" fill="#195b18"/><ellipse cx="365.71" cy="618.15" rx="0.41" ry="1.68" fill="#124412"/><ellipse cx="370.08" cy="610.93" rx="0.53" ry="1.39" fill="#216f1f"/><ellipse cx="360.91" cy="615.52" rx="0.69" ry="1.64" fill="#1f6b1e"/><ellipse cx="392.34" cy="608.39" rx="0.45" ry="1.49" fill="#103a10"/><ellipse cx="377.35" cy="613.85" rx="0.48" ry="1.45" fill="#1b611a"/><ellipse cx="372.14" cy="604.79" rx="0.46" ry="1.62" fill="#1d651b"/><ellipse cx="386.1" cy="616.51" rx="0.47" ry="1.03" fill="#165215"/><ellipse cx="383.47" cy="613.91" rx="0.53" ry="1.14" fill="#185917"/><ellipse cx="361.82" cy="629.34" rx="0.45" ry="1.69" fill="#155115"/><ellipse cx="361.46" cy="608.33" rx="0.6" ry="1.6" fill="#114111"/><ellipse cx="356.46" cy="635.74" rx="0.69" ry="1.28" fill="#1b611a"/><ellipse cx="372.94" cy="603" rx="0.7" ry="1.16" fill="#134712"/><ellipse cx="391.77" cy="632.14" rx="0.45" ry="1.28" fill="#216e1f"/><ellipse cx="389.04" cy="611.57" rx="0.41" ry="1.38" fill="#124612"/><ellipse cx="377.53" cy="607.64" rx="0.62" ry="1.06" fill="#134712"/><ellipse cx="387.11" cy="633.67" rx="0.45" ry="1.41" fill="#155015"/><ellipse cx="367.19" cy="603.44" rx="0.6" ry="1.14" fill="#1b611a"/><ellipse cx="365.24" cy="627.82" rx="0.52" ry="1.43" fill="#216d1f"/><ellipse cx="364.16" cy="617.63" rx="0.51" ry="1.44" fill="#185a17"/><ellipse cx="377.2" cy="601.01" rx="0.54" ry="1.03" fill="#113e11"/><ellipse cx="377.38" cy="622.67" rx="0.71" ry="1.45" fill="#195c18"/><ellipse cx="386.52" cy="603.85" rx="0.73" ry="1.43" fill="#1f6b1e"/><ellipse cx="388.8" cy="620.97" rx="0.46" ry="1.33" fill="#155115"/><ellipse cx="384.16" cy="630.6" rx="0.58" ry="1.75" fill="#206c1e"/><ellipse cx="370.3" cy="600.04" rx="0.59" ry="1.6" fill="#155015"/><ellipse cx="364.68" cy="600.29" rx="0.47" ry="1.67" fill="#1b621a"/><ellipse cx="378.18" cy="604.65" rx="0.67" ry="1.1" fill="#175616"/><ellipse cx="394" cy="601.53" rx="0.61" ry="1.51" fill="#114011"/><ellipse cx="379.65" cy="635.68" rx="0.42" ry="1.38" fill="#124312"/><ellipse cx="369.47" cy="614.91" rx="0.71" ry="1.16" fill="#154f14"/><ellipse cx="383.3" cy="621.66" rx="0.72" ry="1.13" fill="#134813"/><ellipse cx="367.4" cy="606.89" rx="0.64" ry="1.23" fill="#1b611a"/><ellipse cx="359.98" cy="622.76" rx="0.59" ry="1.49" fill="#144b13"/><ellipse cx="355.26" cy="601.1" rx="0.7" ry="0.98" fill="#1e681c"/><ellipse cx="364.26" cy="616.1" rx="0.51" ry="1.76" fill="#1e691d"/><ellipse cx="358.89" cy="634.97" rx="0.61" ry="1.77" fill="#103b10"/><ellipse cx="384.5" cy="635.3" rx="0.73" ry="1.71" fill="#144c14"/><ellipse cx="366.34" cy="629.7" rx="0.47" ry="1.25" fill="#216e1f"/><ellipse cx="386.48" cy="621.9" rx="0.55" ry="1.3" fill="#216e1f"/><ellipse cx="362" cy="610.11" rx="0.49" ry="1.71" fill="#1f6b1e"/><ellipse cx="387.8" cy="621.77" rx="0.4" ry="1.01" fill="#134913"/><ellipse cx="388.82" cy="637.07" rx="0.5" ry="1.74" fill="#227020"/><ellipse cx="373.08" cy="613.79" rx="0.69" ry="1.51" fill="#206d1f"/><ellipse cx="366.81" cy="603.52" rx="0.49" ry="1.07" fill="#124211"/><ellipse cx="378.38" cy="611.7" rx="0.71" ry="1.23" fill="#124412"/><ellipse cx="355.33" cy="599.67" rx="0.41" ry="1.4" fill="#185817"/><ellipse cx="356.24" cy="617.79" rx="0.59" ry="1.09" fill="#195c18"/><ellipse cx="389.25" cy="637.62" rx="0.73" ry="1.77" fill="#1e671c"/><ellipse cx="370.13" cy="620.71" rx="0.68" ry="1.05" fill="#155014"/><ellipse cx="364.39" cy="617.07" rx="0.75" ry="1.2" fill="#185717"/><ellipse cx="355.36" cy="614.58" rx="0.43" ry="1.37" fill="#1f6b1e"/><ellipse cx="379.54" cy="632.36" rx="0.61" ry="1.76" fill="#144b13"/><ellipse cx="394.68" cy="621.56" rx="0.63" ry="1.56" fill="#144b13"/><ellipse cx="382.82" cy="625.9" rx="0.65" ry="1.22" fill="#154e14"/><ellipse cx="364.64" cy="603.23" rx="0.46" ry="1.15" fill="#185817"/><ellipse cx="367.28" cy="613.95" rx="0.74" ry="1.37" fill="#155015"/><ellipse cx="377.5" cy="615.08" rx="0.68" ry="1.37" fill="#185817"/><ellipse cx="376" cy="613.13" rx="0.47" ry="0.98" fill="#124211"/><ellipse cx="366.75" cy="600.9" rx="0.6" ry="1" fill="#155015"/></g>
<rect x="399" y="597.5" width="43" height="43" fill="#0a170b"/>
<g filter="url(#blur3)"><ellipse cx="430.89" cy="617.1" rx="0.55" ry="1.61" fill="#247422"/><ellipse cx="427.79" cy="604.06" rx="0.49" ry="1.57" fill="#206d1f"/><ellipse cx="415.25" cy="608.13" rx="0.75" ry="1.01" fill="#124211"/><ellipse cx="410.41" cy="635.98" rx="0.54" ry="1.29" fill="#124412"/><ellipse cx="427.82" cy="630.13" rx="0.51" ry="0.98" fill="#369132"/><ellipse cx="408.95" cy="599.49" rx="0.62" ry="1.7" fill="#175616"/><ellipse cx="404.23" cy="609.86" rx="0.61" ry="1.26" fill="#318a2e"/><ellipse cx="403.12" cy="601.52" rx="0.62" ry="0.95" fill="#165215"/><ellipse cx="420.61" cy="631.52" rx="0.5" ry="1.27" fill="#114011"/><ellipse cx="424.96" cy="628.29" rx="0.55" ry="1.2" fill="#267824"/><ellipse cx="425.63" cy="617.41" rx="0.59" ry="1.43" fill="#338d30"/><ellipse cx="427.24" cy="618.31" rx="0.63" ry="1.44" fill="#1e691d"/><ellipse cx="440.74" cy="611.33" rx="0.74" ry="1.63" fill="#1e691d"/><ellipse cx="422.7" cy="611.29" rx="0.55" ry="1.28" fill="#154f14"/><ellipse cx="417.75" cy="609.39" rx="0.6" ry="0.99" fill="#1e681c"/><ellipse cx="426.95" cy="627.28" rx="0.49" ry="0.93" fill="#155015"/><ellipse cx="419.35" cy="625.9" rx="0.61" ry="1.44" fill="#1b621a"/><ellipse cx="402" cy="601.42" rx="0.72" ry="1.54" fill="#1f6a1d"/><ellipse cx="418.3" cy="609.53" rx="0.63" ry="1.59" fill="#144b13"/><ellipse cx="416.15" cy="602.66" rx="0.65" ry="1.59" fill="#175716"/><ellipse cx="416.45" cy="634.26" rx="0.41" ry="1.08" fill="#1b601a"/><ellipse cx="436.34" cy="627.1" rx="0.5" ry="1.26" fill="#134712"/><ellipse cx="419.74" cy="600.3" rx="0.59" ry="1.14" fill="#338c2f"/><ellipse cx="401.48" cy="621.8" rx="0.65" ry="1.67" fill="#338d30"/><ellipse cx="435.67" cy="625.51" rx="0.51" ry="1.42" fill="#124412"/><ellipse cx="417.09" cy="607.85" rx="0.7" ry="1.5" fill="#124512"/><ellipse cx="412.33" cy="617.82" rx="0.45" ry="1.47" fill="#30882d"/><ellipse cx="409.66" cy="634.95" rx="0.73" ry="1.24" fill="#2c8229"/><ellipse cx="420.81" cy="611.97" rx="0.73" ry="1.77" fill="#195d18"/><ellipse cx="440.56" cy="635.08" rx="0.63" ry="1.72" fill="#1e681d"/><ellipse cx="417.69" cy="635.5" rx="0.5" ry="1.22" fill="#2c8229"/><ellipse cx="428.24" cy="605.76" rx="0.47" ry="1" fill="#175516"/><ellipse cx="437.08" cy="638.6" rx="0.58" ry="1.57" fill="#2d842a"/><ellipse cx="428.09" cy="616.69" rx="0.44" ry="1.12" fill="#1f6b1e"/><ellipse cx="414.16" cy="613.37" rx="0.48" ry="1.11" fill="#257723"/><ellipse cx="435.71" cy="630.11" rx="0.67" ry="1.08" fill="#338d30"/><ellipse cx="420.01" cy="632.16" rx="0.48" ry="1.33" fill="#2c832a"/><ellipse cx="424.12" cy="599.74" rx="0.66" ry="1.5" fill="#165416"/><ellipse cx="418.35" cy="621.8" rx="0.52" ry="0.98" fill="#206c1e"/><ellipse cx="430.33" cy="629.74" rx="0.67" ry="1.64" fill="#1c641b"/><ellipse cx="428.28" cy="631.14" rx="0.41" ry="1.75" fill="#359032"/><ellipse cx="418.56" cy="629.94" rx="0.43" ry="1.43" fill="#297d26"/><ellipse cx="403.82" cy="628.13" rx="0.53" ry="1.15" fill="#195c18"/><ellipse cx="433.07" cy="624.55" rx="0.66" ry="1.07" fill="#185817"/><ellipse cx="432.76" cy="623.11" rx="0.62" ry="1.79" fill="#2a7f28"/><ellipse cx="428.42" cy="617.58" rx="0.6" ry="1.16" fill="#227120"/><ellipse cx="412.63" cy="630.77" rx="0.74" ry="1.52" fill="#2d842a"/><ellipse cx="420.7" cy="614.86" rx="0.63" ry="1.75" fill="#277a25"/><ellipse cx="430.55" cy="614.42" rx="0.42" ry="1.6" fill="#175716"/><ellipse cx="417.57" cy="614.84" rx="0.57" ry="1.71" fill="#124412"/><ellipse cx="411.46" cy="628.59" rx="0.63" ry="1.44" fill="#2a7f27"/><ellipse cx="410.33" cy="625.88" rx="0.74" ry="1.36" fill="#227020"/><ellipse cx="414.59" cy="635" rx="0.52" ry="1.48" fill="#247422"/><ellipse cx="406.39" cy="606.73" rx="0.56" ry="1.62" fill="#30892d"/><ellipse cx="408.92" cy="617.85" rx="0.68" ry="1.44" fill="#165315"/><ellipse cx="416.17" cy="614.45" rx="0.47" ry="1.52" fill="#165115"/><ellipse cx="412.88" cy="603.42" rx="0.56" ry="1.79" fill="#1b6019"/><ellipse cx="415.85" cy="615.19" rx="0.65" ry="1.31" fill="#359132"/><ellipse cx="416.36" cy="608.18" rx="0.57" ry="1.48" fill="#144c14"/><ellipse cx="404.5" cy="618.07" rx="0.61" ry="1.21" fill="#154e14"/><ellipse cx="427.23" cy="630.14" rx="0.53" ry="0.97" fill="#1b611a"/><ellipse cx="408.8" cy="623.79" rx="0.45" ry="1.78" fill="#2c832a"/><ellipse cx="437.32" cy="613.71" rx="0.64" ry="1.2" fill="#206d1f"/><ellipse cx="415.07" cy="627.74" rx="0.55" ry="1.41" fill="#1e681d"/><ellipse cx="404.92" cy="617.84" rx="0.46" ry="1.37" fill="#185817"/><ellipse cx="428.71" cy="620.02" rx="0.63" ry="1.28" fill="#1f691d"/><ellipse cx="440.06" cy="607.73" rx="0.6" ry="1.53" fill="#114011"/><ellipse cx="415.73" cy="615.02" rx="0.49" ry="1.61" fill="#195c18"/><ellipse cx="435.25" cy="610.3" rx="0.56" ry="1.02" fill="#216f1f"/><ellipse cx="429.98" cy="620.25" rx="0.72" ry="1.71" fill="#379233"/><ellipse cx="410.83" cy="603.62" rx="0.44" ry="1.52" fill="#2c832a"/><ellipse cx="407.33" cy="627.08" rx="0.43" ry="1.68" fill="#124412"/><ellipse cx="421.13" cy="617.05" rx="0.67" ry="1.1" fill="#359132"/><ellipse cx="428.86" cy="614.49" rx="0.51" ry="1.1" fill="#1d661c"/><ellipse cx="412.49" cy="610.05" rx="0.71" ry="1.24" fill="#154f14"/><ellipse cx="422.96" cy="631.26" rx="0.45" ry="1.76" fill="#267824"/><ellipse cx="438.03" cy="632.37" rx="0.69" ry="1.48" fill="#195b18"/><ellipse cx="401.47" cy="614.17" rx="0.59" ry="1.75" fill="#277a25"/><ellipse cx="432.3" cy="632.25" rx="0.52" ry="1.72" fill="#369132"/><ellipse cx="400.3" cy="630.77" rx="0.57" ry="1.3" fill="#134712"/><ellipse cx="403.12" cy="624.38" rx="0.48" ry="1.12" fill="#2b8129"/><ellipse cx="431.49" cy="620.12" rx="0.51" ry="1.75" fill="#124111"/><ellipse cx="411.41" cy="610.69" rx="0.71" ry="1.63" fill="#1d651b"/><ellipse cx="415.83" cy="625.54" rx="0.42" ry="1.23" fill="#124211"/><ellipse cx="425.94" cy="604.84" rx="0.7" ry="1.07" fill="#124312"/><ellipse cx="402.42" cy="602.68" rx="0.5" ry="1.42" fill="#134612"/><ellipse cx="426.85" cy="610.56" rx="0.52" ry="1.42" fill="#1f6b1e"/><ellipse cx="404.63" cy="623.89" rx="0.72" ry="1.09" fill="#114011"/><ellipse cx="422.71" cy="606.73" rx="0.49" ry="1.48" fill="#1d651b"/><ellipse cx="431.84" cy="632.57" rx="0.56" ry="1.39" fill="#369132"/><ellipse cx="414.47" cy="610.65" rx="0.74" ry="0.95" fill="#1f6a1d"/><ellipse cx="430.54" cy="612.02" rx="0.49" ry="1.55" fill="#237121"/><ellipse cx="420.34" cy="611.52" rx="0.4" ry="0.99" fill="#1d651b"/><ellipse cx="437.06" cy="602.55" rx="0.63" ry="0.93" fill="#1b611a"/><ellipse cx="438" cy="607.44" rx="0.55" ry="1.43" fill="#359031"/><ellipse cx="424.71" cy="602.81" rx="0.66" ry="1.61" fill="#1f6a1d"/><ellipse cx="430.02" cy="626.11" rx="0.54" ry="1.36" fill="#144a13"/><ellipse cx="401.85" cy="629.48" rx="0.6" ry="1.14" fill="#134813"/><ellipse cx="406.82" cy="636.83" rx="0.66" ry="1.45" fill="#237322"/><ellipse cx="423.11" cy="633.68" rx="0.53" ry="1.1" fill="#124512"/><ellipse cx="424.42" cy="614.84" rx="0.48" ry="1.14" fill="#328c2f"/><ellipse cx="437.44" cy="627.71" rx="0.53" ry="1.56" fill="#1c631b"/><ellipse cx="406.23" cy="627.74" rx="0.68" ry="0.97" fill="#165315"/><ellipse cx="437.32" cy="633.25" rx="0.46" ry="1.72" fill="#124211"/><ellipse cx="433.45" cy="610.8" rx="0.6" ry="1.12" fill="#2c8229"/><ellipse cx="428.13" cy="615.64" rx="0.7" ry="1.55" fill="#144b13"/><ellipse cx="410.1" cy="616.12" rx="0.53" ry="1.13" fill="#267824"/><ellipse cx="421.57" cy="636.75" rx="0.49" ry="1.33" fill="#134813"/><ellipse cx="440.18" cy="638.41" rx="0.62" ry="1.02" fill="#114011"/><ellipse cx="408.6" cy="604.64" rx="0.75" ry="1.77" fill="#1f691d"/><ellipse cx="415.11" cy="634.69" rx="0.43" ry="1.71" fill="#277924"/><ellipse cx="411.3" cy="637.86" rx="0.71" ry="1.36" fill="#144b13"/><ellipse cx="421.12" cy="606.51" rx="0.67" ry="1.4" fill="#1e681d"/><ellipse cx="440" cy="620.36" rx="0.45" ry="1.56" fill="#328b2e"/><ellipse cx="424.55" cy="634.08" rx="0.56" ry="1.63" fill="#195c18"/><ellipse cx="410.58" cy="613.94" rx="0.63" ry="1.34" fill="#2e862b"/><ellipse cx="400.83" cy="629.39" rx="0.48" ry="1.25" fill="#1c621a"/><ellipse cx="405.78" cy="632.43" rx="0.74" ry="1.51" fill="#2c8229"/><ellipse cx="406.74" cy="615.95" rx="0.4" ry="1.21" fill="#379333"/><ellipse cx="406.26" cy="606.03" rx="0.62" ry="0.96" fill="#175716"/><ellipse cx="435.41" cy="616.25" rx="0.44" ry="1.37" fill="#154e14"/><ellipse cx="414.38" cy="619.04" rx="0.52" ry="1.35" fill="#134913"/><ellipse cx="403.62" cy="619.06" rx="0.61" ry="1.02" fill="#2e862b"/><ellipse cx="425.83" cy="602.56" rx="0.4" ry="1.38" fill="#144b13"/><ellipse cx="407.41" cy="610.28" rx="0.71" ry="1.03" fill="#134a13"/><ellipse cx="427.58" cy="631.07" rx="0.6" ry="1.2" fill="#1d651b"/><ellipse cx="433.44" cy="626.31" rx="0.65" ry="1.03" fill="#134612"/><ellipse cx="419.73" cy="606.53" rx="0.63" ry="1.56" fill="#1e681d"/><ellipse cx="413.41" cy="601.45" rx="0.72" ry="1.4" fill="#1d651b"/><ellipse cx="425.35" cy="629.47" rx="0.73" ry="1.76" fill="#247522"/><ellipse cx="430.19" cy="631.1" rx="0.49" ry="1.54" fill="#144b13"/><ellipse cx="423.77" cy="633.27" rx="0.52" ry="1.05" fill="#2b8028"/><ellipse cx="426.9" cy="603.67" rx="0.5" ry="1.26" fill="#1e691d"/><ellipse cx="426.75" cy="624.26" rx="0.42" ry="1.7" fill="#237321"/><ellipse cx="428.82" cy="635.04" rx="0.63" ry="1.7" fill="#237321"/><ellipse cx="430.49" cy="624.3" rx="0.41" ry="1.55" fill="#124312"/><ellipse cx="434.59" cy="614.53" rx="0.55" ry="1.66" fill="#165115"/><ellipse cx="430.87" cy="604.44" rx="0.47" ry="1.57" fill="#155015"/><ellipse cx="410.38" cy="634.31" rx="0.47" ry="1.27" fill="#1b621a"/><ellipse cx="405.88" cy="633.94" rx="0.55" ry="1.24" fill="#124211"/><ellipse cx="401.76" cy="608.04" rx="0.7" ry="1.28" fill="#369233"/><ellipse cx="435.65" cy="635.08" rx="0.65" ry="1.41" fill="#2f872c"/><ellipse cx="420.97" cy="627.52" rx="0.74" ry="1.06" fill="#237221"/><ellipse cx="436.68" cy="629.05" rx="0.7" ry="1.16" fill="#1c641b"/><ellipse cx="416.09" cy="622.03" rx="0.48" ry="1.66" fill="#359032"/></g>
<rect x="219" y="642.5" width="43" height="43" fill="#0a0c0a"/>
<rect x="264" y="642.5" width="43" height="43" fill="#0a120b"/>
<g filter="url(#blur3)"><ellipse cx="291.89" cy="680.55" rx="0.63" ry="1.7" fill="#0f260f"/><ellipse cx="301.09" cy="671.81" rx="0.62" ry="1.4" fill="#0f290f"/><ellipse cx="273.01" cy="664.73" rx="0.73" ry="0.94" fill="#0f2a0f"/><ellipse cx="277.53" cy="653.73" rx="0.46" ry="1.59" fill="#0f290f"/><ellipse cx="273.17" cy="657.69" rx="0.44" ry="1.42" fill="#0f2a0f"/><ellipse cx="276.36" cy="674.08" rx="0.64" ry="1.13" fill="#0f250f"/><ellipse cx="304.07" cy="657.26" rx="0.41" ry="1.75" fill="#0f280f"/><ellipse cx="290.92" cy="680.32" rx="0.42" ry="1.57" fill="#0f290f"/><ellipse cx="280.66" cy="652.21" rx="0.63" ry="1.21" fill="#0f290f"/><ellipse cx="268.12" cy="669.88" rx="0.48" ry="0.94" fill="#0f250f"/><ellipse cx="272.19" cy="673.76" rx="0.75" ry="1.15" fill="#0f260f"/><ellipse cx="297.65" cy="673.3" rx="0.61" ry="1.03" fill="#0f280f"/></g>
<rect x="309" y="642.5" width="43" height="43" fill="#09140a"/>
<g filter="url(#blur3)"><ellipse cx="343.84" cy="680.65" rx="0.47" ry="0.98" fill="#154f14"/><ellipse cx="320.59" cy="682.6" rx="0.5" ry="1.37" fill="#124412"/><ellipse cx="311.61" cy="675.41" rx="0.51" ry="0.93" fill="#195b18"/><ellipse cx="346.73" cy="676.2" rx="0.47" ry="1.76" fill="#185a18"/><ellipse cx="336.22" cy="645.55" rx="0.64" ry="1.07" fill="#1d651b"/><ellipse cx="346.35" cy="667.83" rx="0.41" ry="1.09" fill="#165416"/><ellipse cx="342.37" cy="644.84" rx="0.42" ry="1.42" fill="#113e11"/><ellipse cx="315.79" cy="675.2" rx="0.67" ry="1.72" fill="#144b13"/><ellipse cx="349.65" cy="651.85" rx="0.68" ry="1.2" fill="#134612"/><ellipse cx="348.29" cy="657.55" rx="0.49" ry="1.55" fill="#165315"/><ellipse cx="321.71" cy="660.93" rx="0.69" ry="1.03" fill="#185817"/><ellipse cx="317.23" cy="652.65" rx="0.64" ry="1.55" fill="#195a18"/><ellipse cx="342.99" cy="653.51" rx="0.4" ry="1.22" fill="#144d14"/><ellipse cx="334.6" cy="654.56" rx="0.47" ry="1.3" fill="#195c18"/><ellipse cx="337.97" cy="653.04" rx="0.54" ry="0.94" fill="#175516"/><ellipse cx="314.48" cy="670" rx="0.64" ry="1.68" fill="#1a5d19"/><ellipse cx="337.23" cy="674.97" rx="0.61" ry="1.38" fill="#1a5e19"/><ellipse cx="316.76" cy="653.61" rx="0.44" ry="1.25" fill="#103810"/><ellipse cx="322.07" cy="666.48" rx="0.49" ry="1.7" fill="#1a5d19"/><ellipse cx="344.06" cy="651.87" rx="0.47" ry="0.96" fill="#165115"/><ellipse cx="319.14" cy="652.35" rx="0.41" ry="1.63" fill="#10340f"/><ellipse cx="345.33" cy="678.33" rx="0.41" ry="1.67" fill="#103810"/><ellipse cx="325.41" cy="657.9" rx="0.59" ry="1.2" fill="#175717"/><ellipse cx="316.29" cy="648.83" rx="0.72" ry="0.93" fill="#185817"/><ellipse cx="319.27" cy="664.98" rx="0.57" ry="1.35" fill="#124111"/><ellipse cx="320.91" cy="648.92" rx="0.68" ry="1.02" fill="#134913"/><ellipse cx="332.04" cy="676.24" rx="0.52" ry="1.74" fill="#155015"/><ellipse cx="341.92" cy="683.58" rx="0.57" ry="1.31" fill="#124312"/><ellipse cx="344.32" cy="668.72" rx="0.58" ry="1.7" fill="#154f14"/><ellipse cx="324.54" cy="649.47" rx="0.49" ry="0.99" fill="#113d11"/><ellipse cx="349.85" cy="666.17" rx="0.56" ry="1.37" fill="#195c18"/><ellipse cx="319.35" cy="679.4" rx="0.54" ry="1.57" fill="#134913"/><ellipse cx="345.46" cy="683.6" rx="0.55" ry="1.64" fill="#144c14"/><ellipse cx="327.45" cy="652.28" rx="0.51" ry="1.13" fill="#144c13"/><ellipse cx="341.57" cy="658.06" rx="0.51" ry="1" fill="#165315"/><ellipse cx="341.91" cy="674.83" rx="0.61" ry="1.06" fill="#175717"/><ellipse cx="330.56" cy="677.12" rx="0.61" ry="1.47" fill="#195b18"/><ellipse cx="317.12" cy="646.48" rx="0.41" ry="1.13" fill="#1a5e19"/><ellipse cx="326.43" cy="671.89" rx="0.7" ry="1.74" fill="#175716"/><ellipse cx="321.23" cy="654.11" rx="0.52" ry="0.99" fill="#103a10"/><ellipse cx="349.22" cy="666.95" rx="0.42" ry="1.72" fill="#144d14"/><ellipse cx="320.14" cy="674.63" rx="0.49" ry="1.02" fill="#113e11"/><ellipse cx="331.92" cy="655.5" rx="0.65" ry="1.1" fill="#155115"/><ellipse cx="315.54" cy="664.6" rx="0.56" ry="1.23" fill="#134813"/><ellipse cx="316.89" cy="649.13" rx="0.62" ry="1.52" fill="#185817"/><ellipse cx="336.13" cy="664.52" rx="0.72" ry="1.38" fill="#113e11"/><ellipse cx="328.8" cy="654.59" rx="0.74" ry="1.27" fill="#134712"/><ellipse cx="342.84" cy="649.2" rx="0.5" ry="1.11" fill="#165215"/><ellipse cx="322.53" cy="659.92" rx="0.54" ry="1.68" fill="#165416"/><ellipse cx="316.49" cy="678" rx="0.68" ry="1.26" fill="#134a13"/><ellipse cx="320.64" cy="679.54" rx="0.65" ry="1.37" fill="#165416"/><ellipse cx="339.05" cy="681.99" rx="0.74" ry="1.21" fill="#185917"/><ellipse cx="322.3" cy="679.1" rx="0.71" ry="1.29" fill="#1a5e19"/><ellipse cx="326.99" cy="681.62" rx="0.46" ry="1.05" fill="#113e11"/><ellipse cx="322.49" cy="660.76" rx="0.56" ry="0.93" fill="#134712"/><ellipse cx="324.08" cy="664.32" rx="0.57" ry="1.71" fill="#103710"/><ellipse cx="336.72" cy="681.57" rx="0.57" ry="0.92" fill="#1a5f19"/><ellipse cx="312.62" cy="667" rx="0.52" ry="1.02" fill="#1a5e19"/><ellipse cx="341.02" cy="665.54" rx="0.44" ry="1.4" fill="#144b13"/><ellipse cx="333.49" cy="672.3" rx="0.43" ry="1.65" fill="#1b611a"/><ellipse cx="323.25" cy="660.67" rx="0.68" ry="1.3" fill="#124512"/><ellipse cx="313.1" cy="662.98" rx="0.41" ry="0.95" fill="#103b10"/><ellipse cx="325.65" cy="662.06" rx="0.45" ry="1.71" fill="#0f340f"/><ellipse cx="332.28" cy="682.92" rx="0.73" ry="1.52" fill="#154f14"/><ellipse cx="325.92" cy="646.28" rx="0.68" ry="1.5" fill="#103b10"/><ellipse cx="322.27" cy="650.73" rx="0.73" ry="1.12" fill="#165416"/><ellipse cx="350.68" cy="665.34" rx="0.46" ry="1.54" fill="#113e11"/><ellipse cx="347.88" cy="652.31" rx="0.45" ry="1.09" fill="#114011"/><ellipse cx="319.36" cy="660.75" rx="0.63" ry="1.12" fill="#114011"/><ellipse cx="321.01" cy="660.8" rx="0.42" ry="0.98" fill="#113c10"/><ellipse cx="310.4" cy="670.86" rx="0.57" ry="1.7" fill="#103610"/><ellipse cx="335.15" cy="656.36" rx="0.55" ry="1.19" fill="#134813"/><ellipse cx="312.38" cy="650.46" rx="0.47" ry="1.2" fill="#103b10"/><ellipse cx="314.37" cy="668.56" rx="0.58" ry="1.52" fill="#113e11"/><ellipse cx="330.39" cy="673.5" rx="0.56" ry="1.09" fill="#195b18"/><ellipse cx="311.93" cy="671.6" rx="0.5" ry="0.98" fill="#134612"/><ellipse cx="317.51" cy="679.43" rx="0.7" ry="1.66" fill="#144c13"/><ellipse cx="320.27" cy="653.21" rx="0.48" ry="1.44" fill="#1b601a"/><ellipse cx="348.22" cy="662.65" rx="0.74" ry="1.68" fill="#134913"/><ellipse cx="347.83" cy="672.16" rx="0.42" ry="0.92" fill="#113f11"/><ellipse cx="347.68" cy="665.69" rx="0.74" ry="1.11" fill="#1b601a"/><ellipse cx="349.59" cy="655.09" rx="0.5" ry="1.8" fill="#113d11"/><ellipse cx="348.35" cy="658.18" rx="0.69" ry="1.62" fill="#144c14"/><ellipse cx="346.64" cy="658.58" rx="0.58" ry="1.74" fill="#114011"/><ellipse cx="335.09" cy="678.66" rx="0.58" ry="1.73" fill="#113e11"/></g>
<rect x="354" y="642.5" width="43" height="43" fill="#0a160b"/>
<g filter="url(#blur3)"><ellipse cx="378.37" cy="675.57" rx="0.55" ry="1.52" fill="#267824"/><ellipse cx="383.29" cy="661.62" rx="0.68" ry="1.69" fill="#1c631b"/><ellipse cx="395.26" cy="658.78" rx="0.59" ry="1.67" fill="#216e1f"/><ellipse cx="364.96" cy="662.7" rx="0.68" ry="1.54" fill="#154f14"/><ellipse cx="355.46" cy="648.57" rx="0.61" ry="1.6" fill="#134712"/><ellipse cx="369.16" cy="647.43" rx="0.62" ry="1.29" fill="#1e681d"/><ellipse cx="366.19" cy="657.97" rx="0.68" ry="1.24" fill="#144e14"/><ellipse cx="384.17" cy="665.94" rx="0.5" ry="1.5" fill="#144d14"/><ellipse cx="390.24" cy="680.45" rx="0.49" ry="0.99" fill="#134813"/><ellipse cx="362.88" cy="659.53" rx="0.72" ry="1.43" fill="#237221"/><ellipse cx="361.11" cy="659.13" rx="0.5" ry="1.42" fill="#134712"/><ellipse cx="375.57" cy="651.08" rx="0.71" ry="1.47" fill="#155115"/><ellipse cx="379.62" cy="656.99" rx="0.67" ry="0.91" fill="#165315"/><ellipse cx="381.75" cy="681.97" rx="0.42" ry="0.93" fill="#206b1e"/><ellipse cx="387.07" cy="651.6" rx="0.63" ry="1.51" fill="#195c18"/><ellipse cx="366.89" cy="671.18" rx="0.56" ry="1.26" fill="#2b8028"/><ellipse cx="383.03" cy="678.71" rx="0.72" ry="1.6" fill="#216f20"/><ellipse cx="394.04" cy="654.16" rx="0.47" ry="1.01" fill="#216e1f"/><ellipse cx="369.07" cy="681.56" rx="0.51" ry="1.73" fill="#165215"/><ellipse cx="395.06" cy="674.14" rx="0.69" ry="0.96" fill="#175616"/><ellipse cx="355.61" cy="646.79" rx="0.48" ry="1.67" fill="#175516"/><ellipse cx="373.34" cy="677.84" rx="0.53" ry="1.21" fill="#1b611a"/><ellipse cx="357.13" cy="662.21" rx="0.74" ry="1.74" fill="#2c832a"/><ellipse cx="359.17" cy="661.72" rx="0.45" ry="0.96" fill="#277a25"/><ellipse cx="363.56" cy="647.62" rx="0.65" ry="1.79" fill="#237322"/><ellipse cx="357.25" cy="671.99" rx="0.46" ry="0.97" fill="#267723"/><ellipse cx="394.98" cy="675.45" rx="0.47" ry="1.49" fill="#124211"/><ellipse cx="362.14" cy="661.48" rx="0.43" ry="1.34" fill="#134712"/><ellipse cx="377.23" cy="677.67" rx="0.52" ry="0.96" fill="#113d11"/><ellipse cx="377.64" cy="650.81" rx="0.74" ry="1.48" fill="#175516"/><ellipse cx="382.34" cy="668.16" rx="0.64" ry="1.77" fill="#144b13"/><ellipse cx="358.83" cy="677.35" rx="0.47" ry="1.49" fill="#175616"/><ellipse cx="389.75" cy="650.88" rx="0.58" ry="1.08" fill="#144b13"/><ellipse cx="375.78" cy="683.31" rx="0.55" ry="1.08" fill="#113e11"/><ellipse cx="361.96" cy="667.49" rx="0.56" ry="1.4" fill="#2c8329"/><ellipse cx="383.59" cy="678.15" rx="0.52" ry="1.06" fill="#2d842a"/><ellipse cx="392.41" cy="668.14" rx="0.45" ry="1.61" fill="#297e27"/><ellipse cx="360" cy="649.5" rx="0.53" ry="1.27" fill="#124512"/><ellipse cx="381.9" cy="681.25" rx="0.6" ry="1.27" fill="#195c18"/><ellipse cx="370.74" cy="654.74" rx="0.49" ry="1.55" fill="#113d11"/><ellipse cx="387.64" cy="671.33" rx="0.54" ry="1.07" fill="#1a5d19"/><ellipse cx="365.05" cy="683.61" rx="0.54" ry="1.38" fill="#1e681d"/><ellipse cx="375.2" cy="655.88" rx="0.55" ry="1.71" fill="#195b18"/><ellipse cx="391.37" cy="655.66" rx="0.48" ry="1.76" fill="#1a5e19"/><ellipse cx="360.73" cy="663.27" rx="0.56" ry="1.31" fill="#113d11"/><ellipse cx="355.78" cy="650.28" rx="0.57" ry="1.17" fill="#1b611a"/><ellipse cx="357.4" cy="657.07" rx="0.44" ry="1.44" fill="#175616"/><ellipse cx="364.13" cy="665.25" rx="0.41" ry="1.35" fill="#227120"/><ellipse cx="381.07" cy="679.53" rx="0.69" ry="1.5" fill="#226f20"/><ellipse cx="364.31" cy="676.35" rx="0.57" ry="1.73" fill="#247422"/><ellipse cx="357.18" cy="680.07" rx="0.59" ry="1.62" fill="#175717"/><ellipse cx="361.99" cy="663.84" rx="0.41" ry="1.76" fill="#113e11"/><ellipse cx="364.11" cy="661.12" rx="0.73" ry="1.36" fill="#124512"/><ellipse cx="389.92" cy="655.02" rx="0.49" ry="1.43" fill="#1a5f19"/><ellipse cx="383.91" cy="666.89" rx="0.51" ry="1.76" fill="#1e681c"/><ellipse cx="355.99" cy="650.86" rx="0.74" ry="1.66" fill="#216e1f"/><ellipse cx="365.2" cy="681.47" rx="0.6" ry="1.48" fill="#1a5e19"/><ellipse cx="380.27" cy="678.95" rx="0.51" ry="1.7" fill="#2a7f27"/><ellipse cx="368.02" cy="671.24" rx="0.62" ry="1.17" fill="#134813"/><ellipse cx="395.58" cy="670.5" rx="0.74" ry="1" fill="#185917"/><ellipse cx="385.52" cy="669.85" rx="0.56" ry="1" fill="#113e11"/><ellipse cx="395.79" cy="648.23" rx="0.59" ry="1.01" fill="#206b1e"/><ellipse cx="393.14" cy="666.91" rx="0.49" ry="1.04" fill="#1f6a1d"/><ellipse cx="368.43" cy="645.67" rx="0.57" ry="1.25" fill="#144b13"/><ellipse cx="386.07" cy="649.89" rx="0.58" ry="1.52" fill="#144c13"/><ellipse cx="367.96" cy="652.44" rx="0.53" ry="1.24" fill="#124612"/><ellipse cx="387.55" cy="653.76" rx="0.66" ry="1.09" fill="#175616"/><ellipse cx="356.77" cy="682.61" rx="0.51" ry="1.16" fill="#2b8028"/><ellipse cx="373.88" cy="652.59" rx="0.71" ry="1.54" fill="#257723"/><ellipse cx="371.42" cy="677.39" rx="0.46" ry="1.5" fill="#2c8229"/><ellipse cx="362.21" cy="683.15" rx="0.54" ry="1.57" fill="#267724"/><ellipse cx="367.1" cy="646.81" rx="0.43" ry="1.31" fill="#1c621a"/><ellipse cx="389.83" cy="667.04" rx="0.47" ry="1.4" fill="#155015"/><ellipse cx="375.88" cy="679.9" rx="0.56" ry="1.3" fill="#134913"/><ellipse cx="370.5" cy="651.64" rx="0.59" ry="1.07" fill="#185917"/><ellipse cx="368.21" cy="665.06" rx="0.57" ry="1.21" fill="#2c8229"/><ellipse cx="356.6" cy="664.71" rx="0.44" ry="1.33" fill="#175616"/><ellipse cx="380.21" cy="658.14" rx="0.62" ry="0.96" fill="#237321"/><ellipse cx="357.2" cy="665.01" rx="0.59" ry="1.11" fill="#1f691d"/><ellipse cx="369.18" cy="672.58" rx="0.59" ry="1.11" fill="#185a17"/><ellipse cx="380.73" cy="663.19" rx="0.66" ry="1.62" fill="#113d10"/><ellipse cx="395.27" cy="681.43" rx="0.56" ry="1.14" fill="#227020"/><ellipse cx="383.77" cy="660.8" rx="0.44" ry="1.44" fill="#165416"/><ellipse cx="384.05" cy="674.61" rx="0.47" ry="1.47" fill="#134813"/><ellipse cx="360.46" cy="679.22" rx="0.62" ry="1.14" fill="#2b8129"/><ellipse cx="378.03" cy="674.49" rx="0.63" ry="1.44" fill="#175616"/><ellipse cx="392.09" cy="674.88" rx="0.59" ry="1.7" fill="#216e1f"/><ellipse cx="379.67" cy="671.45" rx="0.44" ry="1.4" fill="#165315"/><ellipse cx="364.23" cy="682.5" rx="0.71" ry="1.2" fill="#144d14"/><ellipse cx="362.98" cy="667.04" rx="0.75" ry="1.46" fill="#165416"/><ellipse cx="359.3" cy="656.52" rx="0.57" ry="1.37" fill="#124512"/><ellipse cx="368.02" cy="670.81" rx="0.69" ry="1.51" fill="#1a5d19"/><ellipse cx="365.7" cy="677" rx="0.48" ry="0.93" fill="#113f11"/><ellipse cx="393.83" cy="665.4" rx="0.75" ry="0.98" fill="#277b25"/><ellipse cx="391.74" cy="645.12" rx="0.68" ry="1.25" fill="#227020"/><ellipse cx="391.34" cy="674.51" rx="0.5" ry="1.04" fill="#1b611a"/><ellipse cx="358.29" cy="665.63" rx="0.47" ry="1.38" fill="#1c631b"/><ellipse cx="358.42" cy="656.2" rx="0.45" ry="1.37" fill="#216e1f"/><ellipse cx="360.63" cy="679.05" rx="0.73" ry="1.73" fill="#144c14"/><ellipse cx="394.37" cy="655.42" rx="0.42" ry="1.77" fill="#216f20"/><ellipse cx="383.3" cy="645.76" rx="0.44" ry="1.21" fill="#134712"/><ellipse cx="393.25" cy="675.39" rx="0.68" ry="0.91" fill="#175516"/><ellipse cx="377.32" cy="659.64" rx="0.72" ry="1.49" fill="#124211"/><ellipse cx="395.62" cy="669.52" rx="0.44" ry="1.33" fill="#1f6a1e"/><ellipse cx="391.61" cy="666.31" rx="0.56" ry="1.22" fill="#206c1e"/><ellipse cx="355.68" cy="652.91" rx="0.43" ry="0.95" fill="#144a13"/><ellipse cx="385.88" cy="683.52" rx="0.69" ry="1.09" fill="#227020"/><ellipse cx="389.69" cy="659.3" rx="0.48" ry="1.17" fill="#287c26"/><ellipse cx="376.58" cy="653.11" rx="0.65" ry="1.61" fill="#155014"/><ellipse cx="395.11" cy="670.09" rx="0.56" ry="1.43" fill="#175616"/><ellipse cx="379.25" cy="680.45" rx="0.74" ry="1.33" fill="#1d661c"/><ellipse cx="373.32" cy="645.44" rx="0.57" ry="0.91" fill="#165416"/><ellipse cx="373.05" cy="648.87" rx="0.71" ry="1.72" fill="#155015"/><ellipse cx="359.84" cy="667.46" rx="0.42" ry="1.17" fill="#1b601a"/><ellipse cx="376.89" cy="661.06" rx="0.42" ry="1.45" fill="#1d671c"/><ellipse cx="380.02" cy="651.77" rx="0.73" ry="1.7" fill="#1d661c"/><ellipse cx="380.24" cy="664.82" rx="0.56" ry="1.54" fill="#247422"/><ellipse cx="370.33" cy="666.17" rx="0.6" ry="1.44" fill="#237321"/><ellipse cx="370.8" cy="658.09" rx="0.56" ry="1.3" fill="#206d1f"/><ellipse cx="370.58" cy="655.75" rx="0.71" ry="1.08" fill="#1f6b1e"/><ellipse cx="381.58" cy="665.24" rx="0.63" ry="1.26" fill="#206c1e"/><ellipse cx="355.63" cy="658.62" rx="0.62" ry="1.73" fill="#1c631b"/><ellipse cx="381.9" cy="670.03" rx="0.68" ry="1.02" fill="#175616"/><ellipse cx="391.14" cy="663.59" rx="0.64" ry="1.39" fill="#1a5e19"/><ellipse cx="395.62" cy="649.05" rx="0.61" ry="1.1" fill="#124111"/><ellipse cx="364.43" cy="683.63" rx="0.5" ry="1.23" fill="#1c641b"/><ellipse cx="364.36" cy="654.23" rx="0.74" ry="1.56" fill="#134612"/><ellipse cx="369.8" cy="648.59" rx="0.71" ry="0.99" fill="#2d852b"/><ellipse cx="390.49" cy="666.02" rx="0.55" ry="1.29" fill="#2e852b"/><ellipse cx="355.54" cy="667" rx="0.71" ry="1.1" fill="#154e14"/><ellipse cx="391.05" cy="657.44" rx="0.65" ry="1.74" fill="#267824"/><ellipse cx="378.55" cy="658.49" rx="0.48" ry="0.99" fill="#155015"/><ellipse cx="367.34" cy="656.79" rx="0.4" ry="1.35" fill="#277925"/><ellipse cx="375.81" cy="650.53" rx="0.47" ry="1.57" fill="#227020"/><ellipse cx="362.08" cy="678.91" rx="0.43" ry="1.04" fill="#165316"/></g>
<rect x="399" y="642.5" width="43" height="43" fill="#0a170b"/>
<g filter="url(#blur3)"><ellipse cx="408.49" cy="649.5" rx="0.74" ry="1.24" fill="#1c621a"/><ellipse cx="416.19" cy="673.97" rx="0.43" ry="1.68" fill="#144b13"/><ellipse cx="413.48" cy="651.18" rx="0.66" ry="1.78" fill="#175616"/><ellipse cx="416.39" cy="672.34" rx="0.47" ry="1.18" fill="#227120"/><ellipse cx="413.97" cy="654.16" rx="0.43" ry="1.25" fill="#359132"/><ellipse cx="430.03" cy="645.61" rx="0.62" ry="1.49" fill="#42a13d"/><ellipse cx="408.01" cy="652.31" rx="0.74" ry="0.91" fill="#399535"/><ellipse cx="433.38" cy="652.18" rx="0.61" ry="0.99" fill="#144c13"/><ellipse cx="434.34" cy="677.56" rx="0.45" ry="1.36" fill="#1b6019"/><ellipse cx="430.62" cy="645.79" rx="0.44" ry="1.24" fill="#30882d"/><ellipse cx="406.9" cy="647.49" rx="0.5" ry="1.72" fill="#267824"/><ellipse cx="436.9" cy="672.91" rx="0.63" ry="1.2" fill="#257523"/><ellipse cx="419.24" cy="665.88" rx="0.56" ry="1.67" fill="#206d1f"/><ellipse cx="440.35" cy="673.29" rx="0.51" ry="0.97" fill="#3a9736"/><ellipse cx="409.24" cy="663.99" rx="0.66" ry="1.72" fill="#338e30"/><ellipse cx="431.82" cy="656.07" rx="0.57" ry="1.2" fill="#134913"/><ellipse cx="435.51" cy="679.98" rx="0.67" ry="1.55" fill="#267824"/><ellipse cx="421.3" cy="661.72" rx="0.68" ry="1.41" fill="#41a03c"/><ellipse cx="440.27" cy="650.16" rx="0.59" ry="1.19" fill="#348e30"/><ellipse cx="405.35" cy="667.2" rx="0.46" ry="1.71" fill="#3b9837"/><ellipse cx="440.27" cy="651.94" rx="0.57" ry="1.2" fill="#277925"/><ellipse cx="405.05" cy="654.84" rx="0.69" ry="1.76" fill="#409f3c"/><ellipse cx="420.44" cy="663.97" rx="0.55" ry="1.42" fill="#144a13"/><ellipse cx="440.53" cy="646.83" rx="0.42" ry="1.77" fill="#2d832a"/><ellipse cx="408.4" cy="671.64" rx="0.47" ry="1.32" fill="#2b8129"/><ellipse cx="417.38" cy="651.34" rx="0.42" ry="1.54" fill="#1f6a1e"/><ellipse cx="439.63" cy="665.65" rx="0.58" ry="1.03" fill="#1f6b1e"/><ellipse cx="430.2" cy="671.53" rx="0.53" ry="1.01" fill="#154e14"/><ellipse cx="428.66" cy="644.89" rx="0.42" ry="1.65" fill="#3b9837"/><ellipse cx="407.99" cy="665.14" rx="0.73" ry="1.69" fill="#30892d"/><ellipse cx="406.38" cy="672.5" rx="0.46" ry="1.32" fill="#216e1f"/><ellipse cx="438.27" cy="645.06" rx="0.59" ry="1.69" fill="#2f872c"/><ellipse cx="419.5" cy="654.11" rx="0.44" ry="1.52" fill="#399636"/><ellipse cx="412.12" cy="646.42" rx="0.7" ry="1.04" fill="#165416"/><ellipse cx="437.49" cy="650.11" rx="0.42" ry="1.49" fill="#3f9d3b"/><ellipse cx="421.89" cy="667.81" rx="0.48" ry="1.79" fill="#3f9d3a"/><ellipse cx="423.33" cy="676.17" rx="0.75" ry="1.55" fill="#195c18"/><ellipse cx="419.33" cy="652.86" rx="0.6" ry="1.79" fill="#3b9937"/><ellipse cx="436.09" cy="673.8" rx="0.46" ry="1.65" fill="#318a2e"/><ellipse cx="429.22" cy="648.15" rx="0.44" ry="1.1" fill="#144b13"/><ellipse cx="431.23" cy="674.54" rx="0.53" ry="1.74" fill="#2f872c"/><ellipse cx="406.35" cy="653.27" rx="0.49" ry="1.56" fill="#216f1f"/><ellipse cx="434.08" cy="673.6" rx="0.6" ry="1.18" fill="#1c631b"/><ellipse cx="422.49" cy="665.22" rx="0.7" ry="1.63" fill="#165315"/><ellipse cx="431.77" cy="647.91" rx="0.66" ry="1.63" fill="#195b18"/><ellipse cx="425.27" cy="681.06" rx="0.48" ry="1.33" fill="#206d1f"/><ellipse cx="412.44" cy="659.3" rx="0.51" ry="1.54" fill="#358f31"/><ellipse cx="424.28" cy="645.15" rx="0.7" ry="1.48" fill="#257523"/><ellipse cx="434.76" cy="669.48" rx="0.41" ry="1.28" fill="#44a43f"/><ellipse cx="408.22" cy="674.11" rx="0.63" ry="1.49" fill="#1b601a"/><ellipse cx="400.9" cy="668.5" rx="0.49" ry="1.48" fill="#1c641b"/><ellipse cx="425.86" cy="652.72" rx="0.43" ry="0.95" fill="#30892d"/><ellipse cx="436.23" cy="680.88" rx="0.75" ry="1.57" fill="#419f3c"/><ellipse cx="423.3" cy="665.16" rx="0.73" ry="1.77" fill="#267824"/><ellipse cx="417.9" cy="652.25" rx="0.55" ry="1.63" fill="#267824"/><ellipse cx="437.64" cy="668.72" rx="0.59" ry="1.02" fill="#144c14"/><ellipse cx="421.99" cy="676.56" rx="0.56" ry="1.04" fill="#2e852b"/><ellipse cx="438.01" cy="678.63" rx="0.42" ry="1.51" fill="#237322"/><ellipse cx="416.48" cy="659.96" rx="0.5" ry="1.03" fill="#1e691d"/><ellipse cx="426.6" cy="664.72" rx="0.66" ry="1.35" fill="#216e1f"/><ellipse cx="406.77" cy="654.86" rx="0.63" ry="1.47" fill="#277a25"/><ellipse cx="430.49" cy="658.39" rx="0.6" ry="1.13" fill="#348e30"/><ellipse cx="405.29" cy="668.96" rx="0.73" ry="1.63" fill="#399635"/><ellipse cx="433.61" cy="667.54" rx="0.5" ry="1.68" fill="#195c18"/><ellipse cx="411.29" cy="663.38" rx="0.41" ry="1" fill="#277924"/><ellipse cx="408.32" cy="675.66" rx="0.43" ry="1.05" fill="#359031"/><ellipse cx="440.26" cy="650.83" rx="0.61" ry="1.68" fill="#369132"/><ellipse cx="430.12" cy="648.13" rx="0.65" ry="0.94" fill="#348e30"/><ellipse cx="438.45" cy="655.82" rx="0.58" ry="1.4" fill="#227120"/><ellipse cx="423.34" cy="646.89" rx="0.58" ry="0.99" fill="#3a9636"/><ellipse cx="420.61" cy="651.76" rx="0.65" ry="1.58" fill="#216e1f"/><ellipse cx="406.76" cy="655.63" rx="0.62" ry="1.07" fill="#42a13e"/><ellipse cx="424.95" cy="654.07" rx="0.63" ry="1" fill="#144b13"/><ellipse cx="405.9" cy="671.02" rx="0.42" ry="1.57" fill="#42a13d"/><ellipse cx="406" cy="646.61" rx="0.41" ry="1.56" fill="#124612"/><ellipse cx="437.04" cy="644.81" rx="0.42" ry="1.27" fill="#165315"/><ellipse cx="413.28" cy="651.87" rx="0.44" ry="1.47" fill="#379333"/><ellipse cx="406.03" cy="670.06" rx="0.47" ry="1.79" fill="#155115"/><ellipse cx="411.02" cy="662.07" rx="0.75" ry="1.39" fill="#2d842a"/><ellipse cx="404.92" cy="670.65" rx="0.6" ry="1.25" fill="#2e862b"/><ellipse cx="433.49" cy="646.79" rx="0.59" ry="1.73" fill="#267924"/><ellipse cx="431.84" cy="653.73" rx="0.61" ry="1.24" fill="#1e691d"/><ellipse cx="402.75" cy="683.41" rx="0.45" ry="1.04" fill="#227020"/><ellipse cx="400.81" cy="680.19" rx="0.6" ry="1.75" fill="#165215"/><ellipse cx="431.38" cy="667.6" rx="0.64" ry="1.63" fill="#1a6019"/><ellipse cx="408.6" cy="653.3" rx="0.61" ry="1.7" fill="#206c1e"/><ellipse cx="424.2" cy="654.82" rx="0.45" ry="1" fill="#318a2e"/><ellipse cx="400.58" cy="667.01" rx="0.56" ry="1.4" fill="#287c26"/><ellipse cx="407.83" cy="652.59" rx="0.54" ry="1.35" fill="#297c26"/><ellipse cx="437.33" cy="662.71" rx="0.42" ry="1.34" fill="#328c2f"/><ellipse cx="402.39" cy="652.12" rx="0.53" ry="1.04" fill="#175616"/><ellipse cx="438.13" cy="656.14" rx="0.42" ry="1.23" fill="#1b611a"/><ellipse cx="432.04" cy="665.82" rx="0.62" ry="1.48" fill="#3d9a38"/><ellipse cx="417.54" cy="677.21" rx="0.45" ry="1.1" fill="#226f20"/><ellipse cx="432.57" cy="646.58" rx="0.62" ry="1.51" fill="#175616"/><ellipse cx="419.11" cy="670" rx="0.61" ry="0.93" fill="#206d1f"/><ellipse cx="416.93" cy="682.67" rx="0.52" ry="1.46" fill="#287c26"/><ellipse cx="439.84" cy="662.65" rx="0.69" ry="1.67" fill="#206c1e"/><ellipse cx="409.38" cy="670.64" rx="0.52" ry="1.62" fill="#1b611a"/><ellipse cx="414.93" cy="680.33" rx="0.7" ry="1.02" fill="#237321"/><ellipse cx="416.62" cy="645.63" rx="0.71" ry="1.34" fill="#3a9736"/><ellipse cx="419.07" cy="682.53" rx="0.51" ry="1.02" fill="#1f691d"/><ellipse cx="437.51" cy="675.91" rx="0.66" ry="1.65" fill="#257723"/><ellipse cx="427.35" cy="648.57" rx="0.71" ry="1.33" fill="#2c8329"/><ellipse cx="417.54" cy="669.69" rx="0.48" ry="1.51" fill="#175716"/><ellipse cx="440.53" cy="648.78" rx="0.58" ry="0.93" fill="#2d842a"/><ellipse cx="406.75" cy="656.32" rx="0.45" ry="1.24" fill="#2f872c"/><ellipse cx="425.39" cy="674.04" rx="0.69" ry="1.07" fill="#44a43f"/><ellipse cx="422.9" cy="668.18" rx="0.61" ry="1.24" fill="#277925"/><ellipse cx="409.86" cy="670.59" rx="0.64" ry="1.49" fill="#3b9837"/><ellipse cx="439.09" cy="654.3" rx="0.69" ry="1.49" fill="#287b26"/><ellipse cx="400.25" cy="664.43" rx="0.47" ry="1.25" fill="#379333"/><ellipse cx="440.09" cy="662.2" rx="0.61" ry="1.66" fill="#267824"/><ellipse cx="418.7" cy="679.7" rx="0.54" ry="1.45" fill="#30882d"/><ellipse cx="412.4" cy="646.34" rx="0.42" ry="1.17" fill="#237321"/><ellipse cx="434.43" cy="682.54" rx="0.46" ry="1.22" fill="#175717"/><ellipse cx="418.49" cy="649.88" rx="0.46" ry="1.39" fill="#369233"/><ellipse cx="411.25" cy="669.78" rx="0.57" ry="1.66" fill="#154f14"/><ellipse cx="400.88" cy="651.92" rx="0.69" ry="1.5" fill="#144b13"/><ellipse cx="410.03" cy="679.76" rx="0.57" ry="1.56" fill="#175516"/><ellipse cx="424.6" cy="646.89" rx="0.46" ry="1.75" fill="#134913"/><ellipse cx="436.7" cy="656.14" rx="0.62" ry="1.08" fill="#134913"/><ellipse cx="436.42" cy="680.49" rx="0.67" ry="1.6" fill="#358f31"/><ellipse cx="433.97" cy="659.26" rx="0.4" ry="1.53" fill="#318a2e"/><ellipse cx="418.26" cy="683.08" rx="0.56" ry="1.54" fill="#359031"/><ellipse cx="423.96" cy="668.61" rx="0.48" ry="1.13" fill="#124512"/><ellipse cx="428.76" cy="680.4" rx="0.67" ry="1.47" fill="#2b8128"/><ellipse cx="406.12" cy="654.36" rx="0.66" ry="1.28" fill="#287c26"/><ellipse cx="428.41" cy="657.47" rx="0.46" ry="1.27" fill="#1c621a"/><ellipse cx="423.74" cy="648.63" rx="0.4" ry="1.56" fill="#3f9e3b"/><ellipse cx="414.28" cy="681.25" rx="0.41" ry="1.52" fill="#1b6019"/><ellipse cx="415.56" cy="676.53" rx="0.55" ry="1.49" fill="#2d842a"/><ellipse cx="427.86" cy="657.25" rx="0.63" ry="1.41" fill="#175717"/><ellipse cx="402.13" cy="650.68" rx="0.43" ry="1.37" fill="#216e1f"/><ellipse cx="416.25" cy="655.95" rx="0.66" ry="0.96" fill="#338c2f"/><ellipse cx="424.43" cy="683.41" rx="0.74" ry="1.11" fill="#2a7f27"/><ellipse cx="409.17" cy="657.19" rx="0.46" ry="1.13" fill="#195b18"/><ellipse cx="420.54" cy="676.28" rx="0.41" ry="1.59" fill="#348e31"/><ellipse cx="426.11" cy="654.78" rx="0.7" ry="1.02" fill="#124512"/><ellipse cx="410.51" cy="656.28" rx="0.73" ry="1.72" fill="#369132"/><ellipse cx="434.69" cy="677.61" rx="0.42" ry="1.11" fill="#237221"/><ellipse cx="405.91" cy="648.86" rx="0.51" ry="0.95" fill="#155115"/><ellipse cx="412.19" cy="678.01" rx="0.58" ry="1.67" fill="#195b18"/><ellipse cx="400.83" cy="672.95" rx="0.41" ry="1.7" fill="#267824"/><ellipse cx="432.49" cy="648.3" rx="0.6" ry="1.47" fill="#42a13d"/><ellipse cx="408.82" cy="645.51" rx="0.65" ry="1.06" fill="#30882d"/><ellipse cx="401.58" cy="666.94" rx="0.52" ry="1.68" fill="#1b621a"/><ellipse cx="423.16" cy="648.95" rx="0.65" ry="1.41" fill="#2f872c"/><ellipse cx="438.91" cy="663.05" rx="0.42" ry="1.17" fill="#2c832a"/><ellipse cx="412.38" cy="661.23" rx="0.44" ry="1.52" fill="#257523"/><ellipse cx="402.41" cy="654.24" rx="0.41" ry="1.2" fill="#297c26"/><ellipse cx="433.06" cy="673.12" rx="0.46" ry="1.58" fill="#1e681d"/><ellipse cx="435.49" cy="647.5" rx="0.59" ry="1.52" fill="#206c1e"/><ellipse cx="408.43" cy="676.69" rx="0.68" ry="1.75" fill="#2a7f27"/><ellipse cx="427.95" cy="670.72" rx="0.5" ry="1.24" fill="#1b611a"/><ellipse cx="433.11" cy="667.78" rx="0.72" ry="1.37" fill="#1a5f19"/><ellipse cx="439.94" cy="670.03" rx="0.52" ry="1.79" fill="#328b2e"/><ellipse cx="419.67" cy="670.84" rx="0.58" ry="1.06" fill="#1f6b1e"/><ellipse cx="415.16" cy="660.59" rx="0.46" ry="1.08" fill="#328c2f"/><ellipse cx="426.33" cy="662.95" rx="0.41" ry="1.3" fill="#3c9938"/><ellipse cx="433.95" cy="674.05" rx="0.58" ry="1.26" fill="#1d661c"/><ellipse cx="400.4" cy="647.5" rx="0.71" ry="1.07" fill="#185a18"/><ellipse cx="411.79" cy="666.28" rx="0.63" ry="1.18" fill="#2f872c"/><ellipse cx="414.06" cy="644.81" rx="0.53" ry="1.16" fill="#359132"/><ellipse cx="408.61" cy="663.74" rx="0.51" ry="0.99" fill="#165315"/><ellipse cx="407.93" cy="665.08" rx="0.44" ry="1.68" fill="#1c641b"/><ellipse cx="402.61" cy="660.57" rx="0.42" ry="1.17" fill="#1b601a"/><ellipse cx="418.11" cy="671.45" rx="0.53" ry="1.71" fill="#1a5d19"/><ellipse cx="425.97" cy="661.85" rx="0.67" ry="1.74" fill="#185917"/><ellipse cx="409.94" cy="677.82" rx="0.57" ry="0.92" fill="#1e681d"/><ellipse cx="410.05" cy="653.78" rx="0.69" ry="1.76" fill="#185817"/><ellipse cx="413.14" cy="675.9" rx="0.6" ry="1.08" fill="#1b611a"/><ellipse cx="437.11" cy="664.61" rx="0.68" ry="1.37" fill="#297d26"/><ellipse cx="420.09" cy="672.34" rx="0.6" ry="1.17" fill="#237221"/><ellipse cx="406.39" cy="653.1" rx="0.61" ry="0.92" fill="#42a23e"/></g>
<line x1="221.3" y1="458.2" x2="235" y2="458.2" stroke="#bdbdbd" stroke-width="1"/>
<text x="240.5" y="411.9" font-size="6.3" fill="#1c1c1c" stroke="#1c1c1c" stroke-width="0.16" text-anchor="middle">0 min</text>
<text x="285.5" y="411.9" font-size="6.3" fill="#1c1c1c" stroke="#1c1c1c" stroke-width="0.16" text-anchor="middle">1 min</text>
<text x="330.5" y="411.9" font-size="6.3" fill="#1c1c1c" stroke="#1c1c1c" stroke-width="0.16" text-anchor="middle">2 min</text>
<text x="375.5" y="411.9" font-size="6.3" fill="#1c1c1c" stroke="#1c1c1c" stroke-width="0.16" text-anchor="middle">3 min</text>
<text x="420.5" y="411.9" font-size="6.3" fill="#1c1c1c" stroke="#1c1c1c" stroke-width="0.16" text-anchor="middle">4 min</text>
<text transform="translate(213.4 439) rotate(-90)" font-size="6.8" fill="#1c1c1c" stroke="#1c1c1c" stroke-width="0.16" text-anchor="middle">Cont IgG</text>
<text transform="translate(213.4 484) rotate(-90)" font-size="6.8" fill="#1c1c1c" stroke="#1c1c1c" stroke-width="0.16" text-anchor="middle">APS IgG</text>
<text transform="translate(213.4 529) rotate(-90)" font-size="6.8" fill="#1c1c1c" stroke="#1c1c1c" stroke-width="0.16" text-anchor="middle">A<tspan font-size="4.2" dy="1.6">2A</tspan><tspan dy="-1.6">R-a</tspan></text>
<text transform="translate(213.4 574) rotate(-90)" font-size="6.8" fill="#1c1c1c" stroke="#1c1c1c" stroke-width="0.16" text-anchor="middle">Dibut-cAM</text>
<text transform="translate(213.4 619) rotate(-90)" font-size="6.8" fill="#1c1c1c" stroke="#1c1c1c" stroke-width="0.16" text-anchor="middle">8-Br-cAMP</text>
<text transform="translate(213.4 664) rotate(-90)" font-size="6.8" fill="#1c1c1c" stroke="#1c1c1c" stroke-width="0.16" text-anchor="middle">PDE3-i</text>
<line x1="201.9" y1="509.4" x2="201.9" y2="686" stroke="#8a8a8a" stroke-width="1"/>
<text transform="translate(198.2 596.5) rotate(-90)" font-size="7" fill="#1c1c1c" stroke="#1c1c1c" stroke-width="0.16" text-anchor="middle">APS IgG</text>
<rect x="0.5" y="0.5" width="519" height="693" fill="none" stroke="#4d4d4d" stroke-width="1"/>
</svg>
</body></html>
